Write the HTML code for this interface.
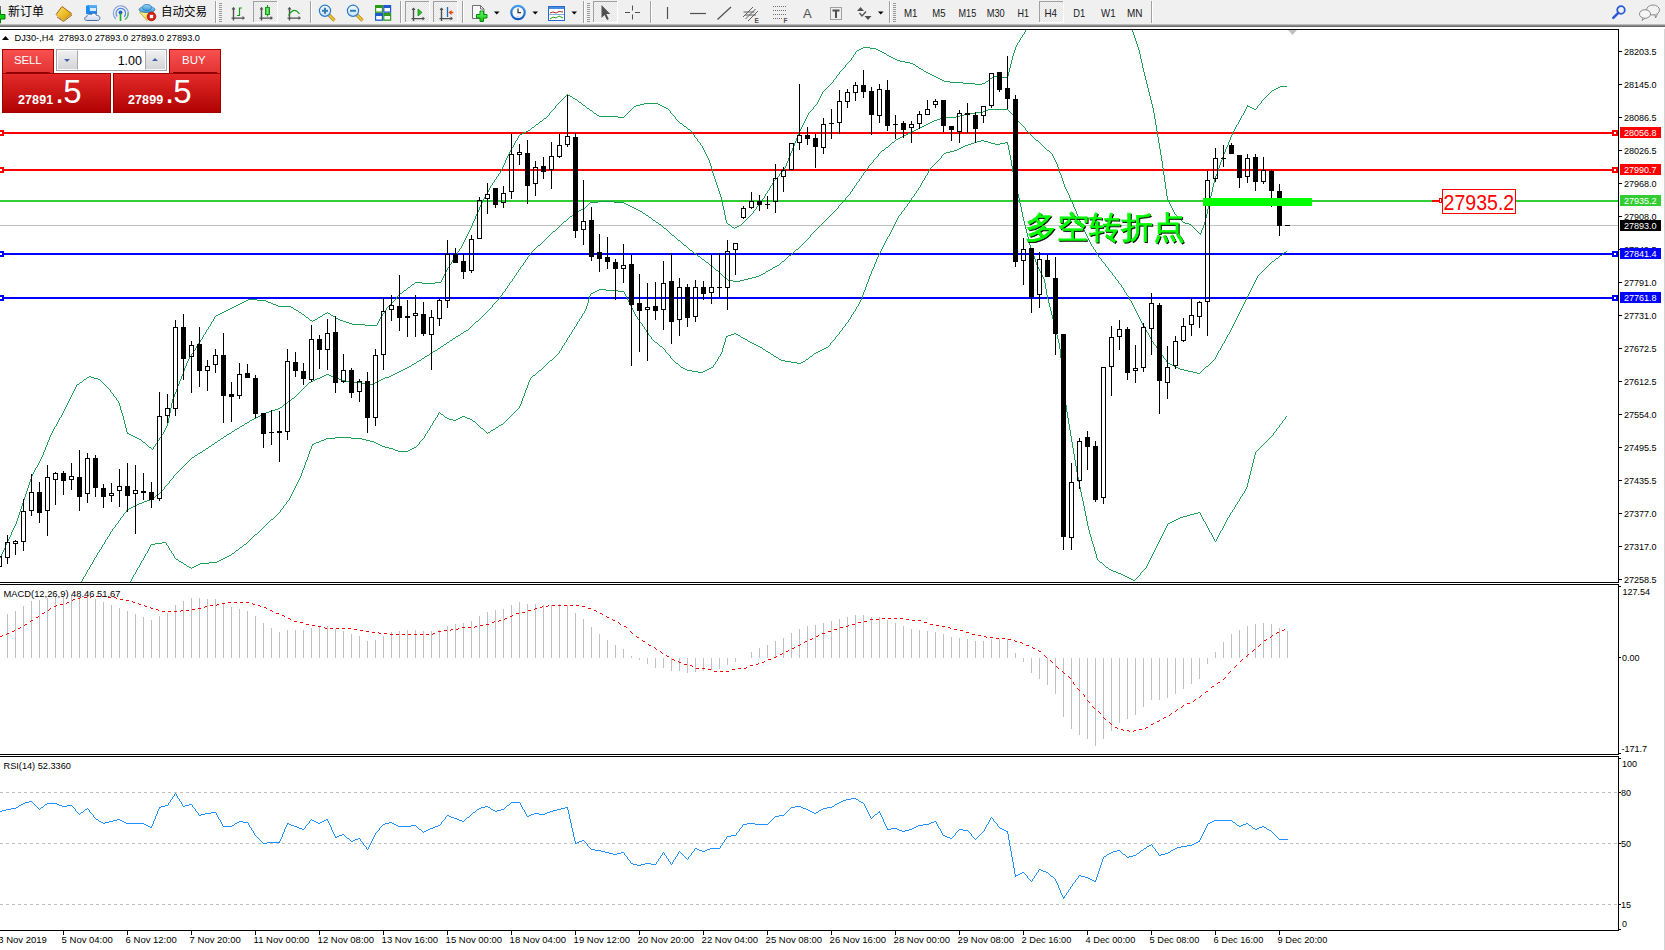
<!DOCTYPE html>
<html><head><meta charset="utf-8"><title>DJ30-,H4</title>
<style>
html,body{margin:0;padding:0;width:1665px;height:950px;overflow:hidden;background:#fff;}
body{position:relative;font-family:"Liberation Sans",Arial,sans-serif;}
#chart{position:absolute;left:0;top:0;}
#tb{position:absolute;left:0;top:0;width:1665px;height:25px;background:#f0f0f0;}
#tbl{position:absolute;left:0;top:24px;width:1665px;height:1px;background:#b4b4b4;}
#tbl2{position:absolute;left:0;top:25px;width:1665px;height:2px;background:linear-gradient(#7a7a7a,#5e5e5e);}
.t{position:absolute;top:4px;font-family:"Liberation Sans","Noto Sans CJK SC","WenQuanYi Zen Hei",sans-serif;font-size:12.5px;line-height:16px;color:#000;white-space:nowrap;}
.sep{position:absolute;top:1px;width:1px;height:23px;background:#a0a0a0;border-right:1px solid #fff;}
.grip{position:absolute;top:3px;width:3px;height:19px;background:repeating-linear-gradient(#9a9a9a 0 1px,transparent 1px 3px);}
.box{position:absolute;top:1px;height:22px;border:1px solid #a8a8a8;border-right-color:#fff;border-bottom-color:#fff;background:#f7f7f7;box-sizing:border-box;}
.ic{position:absolute;top:3px;}
.dd{position:absolute;top:11px;width:0;height:0;border-left:3.5px solid transparent;border-right:3.5px solid transparent;border-top:4px solid #000;}
.tf{position:absolute;top:6px;font-size:10px;color:#222;font-family:"Liberation Sans",Arial,sans-serif;}
#tp{position:absolute;left:0;top:0;}
.rb{position:absolute;box-sizing:border-box;border:1px solid #a00000;}
.wt{position:absolute;color:#fff;font-family:"Liberation Sans",Arial,sans-serif;white-space:nowrap;}
</style></head><body>
<svg id="chart" width="1665" height="950" viewBox="0 0 1665 950">
<defs><clipPath id="cm"><rect x="0" y="30" width="1618" height="552"/></clipPath><clipPath id="cmacd"><rect x="0" y="585" width="1618" height="169"/></clipPath><clipPath id="crsi"><rect x="0" y="757" width="1618" height="173"/></clipPath></defs>
<g clip-path="url(#cm)" shape-rendering="crispEdges">
<rect x="0" y="225" width="1618" height="1" fill="#c0c0c0"/>
<rect x="0" y="132" width="1618" height="2" fill="#ff0000"/>
<rect x="0" y="169" width="1618" height="2" fill="#ff0000"/>
<rect x="0" y="200" width="1618" height="2" fill="#32cd32"/>
<rect x="0" y="253" width="1618" height="2" fill="#0000ff"/>
<rect x="0" y="297" width="1618" height="2" fill="#0000ff"/>
<rect x="-2" y="130" width="6" height="6" fill="#ff0000"/><rect x="0" y="132" width="2" height="2" fill="#fff"/>
<rect x="1612" y="130" width="6" height="6" fill="#ff0000"/><rect x="1614" y="132" width="2" height="2" fill="#fff"/>
<rect x="-2" y="167" width="6" height="6" fill="#ff0000"/><rect x="0" y="169" width="2" height="2" fill="#fff"/>
<rect x="1612" y="167" width="6" height="6" fill="#ff0000"/><rect x="1614" y="169" width="2" height="2" fill="#fff"/>
<rect x="-2" y="251" width="6" height="6" fill="#0000ff"/><rect x="0" y="253" width="2" height="2" fill="#fff"/>
<rect x="1612" y="251" width="6" height="6" fill="#0000ff"/><rect x="1614" y="253" width="2" height="2" fill="#fff"/>
<rect x="-2" y="295" width="6" height="6" fill="#0000ff"/><rect x="0" y="297" width="2" height="2" fill="#fff"/>
<rect x="1612" y="295" width="6" height="6" fill="#0000ff"/><rect x="1614" y="297" width="2" height="2" fill="#fff"/>
</g>
<path d="M0 556h1v2h-1zM1 554h1v2h-1zM2 552h1v2h-1zM3 550h1v2h-1zM4 548h1v2h-1zM5 545h1v3h-1zM6 543h1v2h-1zM7 541h1v2h-1zM8 539h1v2h-1zM9 537h1v2h-1zM10 535h1v2h-1zM11 532h1v3h-1zM12 530h1v2h-1zM13 528h1v2h-1zM14 526h1v2h-1zM15 524h1v2h-1zM16 521h1v3h-1zM17 518h1v3h-1zM18 515h1v3h-1zM19 512h1v3h-1zM20 509h1v3h-1zM21 506h1v3h-1zM22 503h1v3h-1zM23 500h1v3h-1zM24 497h1v3h-1zM25 494h1v3h-1zM26 491h1v3h-1zM27 488h1v3h-1zM28 485h1v3h-1zM29 482h1v3h-1zM30 479h1v3h-1zM31 476h1v3h-1zM32 474h1v2h-1zM33 472h1v2h-1zM34 470h1v2h-1zM35 468h1v2h-1zM36 467h1v1h-1zM37 465h1v2h-1zM38 463h1v2h-1zM39 461h1v2h-1zM40 459h1v2h-1zM41 457h1v2h-1zM42 455h1v2h-1zM43 452h1v3h-1zM44 450h1v2h-1zM45 447h1v3h-1zM46 445h1v2h-1zM47 442h1v3h-1zM48 440h1v2h-1zM49 437h1v3h-1zM50 435h1v2h-1zM51 433h1v2h-1zM52 431h1v2h-1zM53 429h1v2h-1zM54 427h1v2h-1zM55 426h1v1h-1zM56 424h1v2h-1zM57 422h1v2h-1zM58 420h1v2h-1zM59 418h1v2h-1zM60 417h1v1h-1zM61 415h1v2h-1zM62 413h1v2h-1zM63 411h1v2h-1zM64 409h1v2h-1zM65 407h1v2h-1zM66 405h1v2h-1zM67 403h1v2h-1zM68 401h1v2h-1zM69 399h1v2h-1zM70 397h1v2h-1zM71 395h1v2h-1zM72 393h1v2h-1zM73 391h1v2h-1zM74 389h1v2h-1zM75 387h1v2h-1zM76 385h1v2h-1zM77 384h1v1h-1zM78 384h1v1h-1zM79 383h1v1h-1zM80 382h1v1h-1zM81 382h1v1h-1zM82 381h1v1h-1zM83 380h1v1h-1zM84 379h1v1h-1zM85 379h1v1h-1zM86 378h1v1h-1zM87 377h1v1h-1zM88 377h1v1h-1zM89 376h1v1h-1zM90 376h1v1h-1zM91 377h1v1h-1zM92 377h1v1h-1zM93 377h1v1h-1zM94 378h1v1h-1zM95 378h1v1h-1zM96 378h1v1h-1zM97 378h1v1h-1zM98 379h1v1h-1zM99 379h1v1h-1zM100 380h1v1h-1zM101 381h1v1h-1zM102 382h1v1h-1zM103 383h1v1h-1zM104 384h1v1h-1zM105 385h1v1h-1zM106 386h1v1h-1zM107 387h1v1h-1zM108 388h1v1h-1zM109 389h1v1h-1zM110 390h1v2h-1zM111 392h1v1h-1zM112 393h1v1h-1zM113 394h1v2h-1zM114 396h1v1h-1zM115 397h1v1h-1zM116 398h1v2h-1zM117 400h1v1h-1zM118 401h1v2h-1zM119 403h1v3h-1zM120 406h1v4h-1zM121 410h1v3h-1zM122 413h1v3h-1zM123 416h1v4h-1zM124 420h1v4h-1zM125 424h1v4h-1zM126 428h1v4h-1zM127 432h1v2h-1zM128 433h1v1h-1zM129 434h1v1h-1zM130 434h1v1h-1zM131 435h1v1h-1zM132 435h1v1h-1zM133 436h1v1h-1zM134 436h1v1h-1zM135 437h1v1h-1zM136 437h1v1h-1zM137 438h1v1h-1zM138 438h1v1h-1zM139 439h1v1h-1zM140 439h1v1h-1zM141 440h1v1h-1zM142 441h1v1h-1zM143 442h1v1h-1zM144 442h1v1h-1zM145 443h1v1h-1zM146 444h1v1h-1zM147 445h1v1h-1zM148 446h1v1h-1zM149 447h1v1h-1zM150 447h1v1h-1zM151 448h1v1h-1zM152 449h1v1h-1zM153 447h1v2h-1zM154 446h1v1h-1zM155 444h1v2h-1zM156 443h1v1h-1zM157 441h1v2h-1zM158 440h1v1h-1zM159 438h1v2h-1zM160 437h1v1h-1zM161 435h1v2h-1zM162 434h1v1h-1zM163 432h1v2h-1zM164 430h1v2h-1zM165 428h1v2h-1zM166 426h1v2h-1zM167 423h1v3h-1zM168 418h1v5h-1zM169 413h1v5h-1zM170 408h1v5h-1zM171 403h1v5h-1zM172 399h1v4h-1zM173 397h1v2h-1zM174 394h1v3h-1zM175 392h1v2h-1zM176 389h1v3h-1zM177 386h1v3h-1zM178 384h1v2h-1zM179 381h1v3h-1zM180 379h1v2h-1zM181 376h1v3h-1zM182 374h1v2h-1zM183 371h1v3h-1zM184 368h1v3h-1zM185 366h1v2h-1zM186 363h1v3h-1zM187 361h1v2h-1zM188 359h1v2h-1zM189 357h1v2h-1zM190 356h1v1h-1zM191 354h1v2h-1zM192 353h1v1h-1zM193 351h1v2h-1zM194 350h1v1h-1zM195 348h1v2h-1zM196 346h1v2h-1zM197 345h1v1h-1zM198 343h1v2h-1zM199 342h1v1h-1zM200 340h1v2h-1zM201 339h1v1h-1zM202 337h1v2h-1zM203 335h1v2h-1zM204 334h1v1h-1zM205 332h1v2h-1zM206 330h1v2h-1zM207 329h1v1h-1zM208 327h1v2h-1zM209 326h1v1h-1zM210 324h1v2h-1zM211 322h1v2h-1zM212 321h1v1h-1zM213 319h1v2h-1zM214 317h1v2h-1zM215 316h1v1h-1zM216 315h1v1h-1zM217 315h1v1h-1zM218 314h1v1h-1zM219 314h1v1h-1zM220 313h1v1h-1zM221 313h1v1h-1zM222 312h1v1h-1zM223 312h1v1h-1zM224 311h1v1h-1zM225 311h1v1h-1zM226 310h1v1h-1zM227 310h1v1h-1zM228 309h1v1h-1zM229 309h1v1h-1zM230 308h1v1h-1zM231 308h1v1h-1zM232 307h1v1h-1zM233 307h1v1h-1zM234 306h1v1h-1zM235 306h1v1h-1zM236 305h1v1h-1zM237 305h1v1h-1zM238 304h1v1h-1zM239 304h1v1h-1zM240 303h1v1h-1zM241 303h1v1h-1zM242 302h1v1h-1zM243 302h1v1h-1zM244 301h1v1h-1zM245 301h1v1h-1zM246 300h1v1h-1zM247 300h1v1h-1zM248 299h1v1h-1zM249 299h1v1h-1zM250 299h1v1h-1zM251 299h1v1h-1zM252 299h1v1h-1zM253 299h1v1h-1zM254 299h1v1h-1zM255 299h1v1h-1zM256 299h1v1h-1zM257 300h1v1h-1zM258 300h1v1h-1zM259 300h1v1h-1zM260 300h1v1h-1zM261 300h1v1h-1zM262 300h1v1h-1zM263 300h1v1h-1zM264 300h1v1h-1zM265 300h1v1h-1zM266 301h1v1h-1zM267 301h1v1h-1zM268 302h1v1h-1zM269 302h1v1h-1zM270 302h1v1h-1zM271 303h1v1h-1zM272 303h1v1h-1zM273 304h1v1h-1zM274 304h1v1h-1zM275 304h1v1h-1zM276 305h1v1h-1zM277 305h1v1h-1zM278 306h1v1h-1zM279 306h1v1h-1zM280 306h1v1h-1zM281 306h1v1h-1zM282 306h1v1h-1zM283 306h1v1h-1zM284 306h1v1h-1zM285 306h1v1h-1zM286 306h1v1h-1zM287 306h1v1h-1zM288 306h1v1h-1zM289 306h1v1h-1zM290 306h1v1h-1zM291 307h1v1h-1zM292 307h1v1h-1zM293 308h1v1h-1zM294 309h1v1h-1zM295 309h1v1h-1zM296 310h1v1h-1zM297 310h1v1h-1zM298 311h1v1h-1zM299 312h1v1h-1zM300 312h1v1h-1zM301 313h1v1h-1zM302 314h1v1h-1zM303 314h1v1h-1zM304 315h1v1h-1zM305 316h1v1h-1zM306 317h1v1h-1zM307 317h1v1h-1zM308 318h1v1h-1zM309 319h1v1h-1zM310 320h1v1h-1zM311 320h1v1h-1zM312 321h1v1h-1zM313 320h1v1h-1zM314 320h1v1h-1zM315 319h1v1h-1zM316 319h1v1h-1zM317 318h1v1h-1zM318 317h1v1h-1zM319 317h1v1h-1zM320 316h1v1h-1zM321 316h1v1h-1zM322 315h1v1h-1zM323 314h1v1h-1zM324 314h1v1h-1zM325 313h1v1h-1zM326 313h1v1h-1zM327 312h1v1h-1zM328 313h1v1h-1zM329 313h1v1h-1zM330 314h1v1h-1zM331 315h1v1h-1zM332 315h1v1h-1zM333 316h1v1h-1zM334 316h1v1h-1zM335 317h1v1h-1zM336 318h1v1h-1zM337 318h1v1h-1zM338 319h1v1h-1zM339 319h1v1h-1zM340 320h1v1h-1zM341 320h1v1h-1zM342 320h1v1h-1zM343 321h1v1h-1zM344 321h1v1h-1zM345 321h1v1h-1zM346 322h1v1h-1zM347 322h1v1h-1zM348 322h1v1h-1zM349 323h1v1h-1zM350 323h1v1h-1zM351 323h1v1h-1zM352 324h1v1h-1zM353 324h1v1h-1zM354 324h1v1h-1zM355 324h1v1h-1zM356 324h1v1h-1zM357 324h1v1h-1zM358 324h1v1h-1zM359 324h1v1h-1zM360 324h1v1h-1zM361 324h1v1h-1zM362 324h1v1h-1zM363 324h1v1h-1zM364 324h1v1h-1zM365 325h1v1h-1zM366 325h1v1h-1zM367 325h1v1h-1zM368 325h1v1h-1zM369 325h1v1h-1zM370 325h1v1h-1zM371 325h1v1h-1zM372 325h1v1h-1zM373 325h1v1h-1zM374 325h1v1h-1zM375 325h1v1h-1zM376 325h1v1h-1zM377 323h1v2h-1zM378 321h1v2h-1zM379 319h1v2h-1zM380 317h1v2h-1zM381 316h1v1h-1zM382 314h1v2h-1zM383 313h1v1h-1zM384 311h1v2h-1zM385 310h1v1h-1zM386 308h1v2h-1zM387 307h1v1h-1zM388 306h1v1h-1zM389 305h1v1h-1zM390 304h1v1h-1zM391 303h1v1h-1zM392 302h1v1h-1zM393 301h1v1h-1zM394 300h1v1h-1zM395 299h1v1h-1zM396 297h1v2h-1zM397 296h1v1h-1zM398 295h1v1h-1zM399 294h1v1h-1zM400 293h1v1h-1zM401 293h1v1h-1zM402 292h1v1h-1zM403 291h1v1h-1zM404 290h1v1h-1zM405 290h1v1h-1zM406 289h1v1h-1zM407 288h1v1h-1zM408 287h1v1h-1zM409 287h1v1h-1zM410 286h1v1h-1zM411 285h1v1h-1zM412 284h1v1h-1zM413 284h1v1h-1zM414 283h1v1h-1zM415 282h1v1h-1zM416 282h1v1h-1zM417 282h1v1h-1zM418 282h1v1h-1zM419 282h1v1h-1zM420 282h1v1h-1zM421 282h1v1h-1zM422 283h1v1h-1zM423 283h1v1h-1zM424 283h1v1h-1zM425 283h1v1h-1zM426 283h1v1h-1zM427 283h1v1h-1zM428 283h1v1h-1zM429 283h1v1h-1zM430 283h1v1h-1zM431 283h1v1h-1zM432 283h1v1h-1zM433 283h1v1h-1zM434 283h1v1h-1zM435 282h1v1h-1zM436 282h1v1h-1zM437 282h1v1h-1zM438 282h1v1h-1zM439 282h1v1h-1zM440 282h1v1h-1zM441 280h1v2h-1zM442 278h1v2h-1zM443 276h1v2h-1zM444 274h1v2h-1zM445 272h1v2h-1zM446 270h1v2h-1zM447 268h1v2h-1zM448 267h1v1h-1zM449 265h1v2h-1zM450 264h1v1h-1zM451 262h1v2h-1zM452 260h1v2h-1zM453 259h1v1h-1zM454 257h1v2h-1zM455 256h1v1h-1zM456 254h1v2h-1zM457 252h1v2h-1zM458 251h1v1h-1zM459 249h1v2h-1zM460 248h1v1h-1zM461 246h1v2h-1zM462 244h1v2h-1zM463 242h1v2h-1zM464 240h1v2h-1zM465 238h1v2h-1zM466 236h1v2h-1zM467 234h1v2h-1zM468 232h1v2h-1zM469 230h1v2h-1zM470 228h1v2h-1zM471 226h1v2h-1zM472 223h1v3h-1zM473 221h1v2h-1zM474 219h1v2h-1zM475 216h1v3h-1zM476 214h1v2h-1zM477 212h1v2h-1zM478 210h1v2h-1zM479 207h1v3h-1zM480 205h1v2h-1zM481 203h1v2h-1zM482 201h1v2h-1zM483 199h1v2h-1zM484 197h1v2h-1zM485 195h1v2h-1zM486 194h1v1h-1zM487 192h1v2h-1zM488 190h1v2h-1zM489 188h1v2h-1zM490 186h1v2h-1zM491 185h1v1h-1zM492 183h1v2h-1zM493 182h1v1h-1zM494 180h1v2h-1zM495 179h1v1h-1zM496 177h1v2h-1zM497 176h1v1h-1zM498 174h1v2h-1zM499 173h1v1h-1zM500 171h1v2h-1zM501 169h1v2h-1zM502 167h1v2h-1zM503 165h1v2h-1zM504 163h1v2h-1zM505 160h1v3h-1zM506 158h1v2h-1zM507 156h1v2h-1zM508 154h1v2h-1zM509 152h1v2h-1zM510 150h1v2h-1zM511 148h1v2h-1zM512 147h1v1h-1zM513 145h1v2h-1zM514 143h1v2h-1zM515 141h1v2h-1zM516 140h1v1h-1zM517 138h1v2h-1zM518 136h1v2h-1zM519 135h1v1h-1zM520 134h1v1h-1zM521 134h1v1h-1zM522 133h1v1h-1zM523 133h1v1h-1zM524 132h1v1h-1zM525 132h1v1h-1zM526 131h1v1h-1zM527 131h1v1h-1zM528 130h1v1h-1zM529 130h1v1h-1zM530 129h1v1h-1zM531 128h1v1h-1zM532 127h1v1h-1zM533 127h1v1h-1zM534 126h1v1h-1zM535 125h1v1h-1zM536 124h1v1h-1zM537 124h1v1h-1zM538 123h1v1h-1zM539 122h1v1h-1zM540 121h1v1h-1zM541 121h1v1h-1zM542 120h1v1h-1zM543 119h1v1h-1zM544 118h1v1h-1zM545 118h1v1h-1zM546 117h1v1h-1zM547 116h1v1h-1zM548 115h1v1h-1zM549 113h1v2h-1zM550 112h1v1h-1zM551 111h1v1h-1zM552 110h1v1h-1zM553 109h1v1h-1zM554 108h1v1h-1zM555 106h1v2h-1zM556 105h1v1h-1zM557 104h1v1h-1zM558 103h1v1h-1zM559 102h1v1h-1zM560 101h1v1h-1zM561 100h1v1h-1zM562 99h1v1h-1zM563 98h1v1h-1zM564 97h1v1h-1zM565 96h1v1h-1zM566 95h1v1h-1zM567 94h1v1h-1zM568 95h1v1h-1zM569 95h1v1h-1zM570 96h1v1h-1zM571 96h1v1h-1zM572 97h1v1h-1zM573 98h1v1h-1zM574 98h1v1h-1zM575 99h1v1h-1zM576 99h1v1h-1zM577 100h1v1h-1zM578 101h1v1h-1zM579 102h1v1h-1zM580 102h1v1h-1zM581 103h1v1h-1zM582 104h1v1h-1zM583 105h1v1h-1zM584 105h1v1h-1zM585 106h1v1h-1zM586 107h1v1h-1zM587 108h1v1h-1zM588 108h1v1h-1zM589 109h1v1h-1zM590 110h1v1h-1zM591 110h1v1h-1zM592 111h1v1h-1zM593 112h1v1h-1zM594 113h1v1h-1zM595 113h1v1h-1zM596 114h1v1h-1zM597 115h1v1h-1zM598 115h1v1h-1zM599 116h1v1h-1zM600 116h1v1h-1zM601 116h1v1h-1zM602 116h1v1h-1zM603 116h1v1h-1zM604 116h1v1h-1zM605 116h1v1h-1zM606 116h1v1h-1zM607 116h1v1h-1zM608 116h1v1h-1zM609 116h1v1h-1zM610 116h1v1h-1zM611 116h1v1h-1zM612 116h1v1h-1zM613 116h1v1h-1zM614 116h1v1h-1zM615 116h1v1h-1zM616 116h1v1h-1zM617 116h1v1h-1zM618 117h1v1h-1zM619 117h1v1h-1zM620 117h1v1h-1zM621 117h1v1h-1zM622 117h1v1h-1zM623 117h1v1h-1zM624 116h1v1h-1zM625 115h1v1h-1zM626 114h1v1h-1zM627 113h1v1h-1zM628 112h1v1h-1zM629 111h1v1h-1zM630 110h1v1h-1zM631 109h1v1h-1zM632 108h1v1h-1zM633 107h1v1h-1zM634 106h1v1h-1zM635 106h1v1h-1zM636 105h1v1h-1zM637 105h1v1h-1zM638 105h1v1h-1zM639 105h1v1h-1zM640 104h1v1h-1zM641 104h1v1h-1zM642 104h1v1h-1zM643 104h1v1h-1zM644 103h1v1h-1zM645 103h1v1h-1zM646 103h1v1h-1zM647 103h1v1h-1zM648 103h1v1h-1zM649 103h1v1h-1zM650 103h1v1h-1zM651 103h1v1h-1zM652 103h1v1h-1zM653 103h1v1h-1zM654 103h1v1h-1zM655 103h1v1h-1zM656 103h1v1h-1zM657 103h1v1h-1zM658 104h1v1h-1zM659 104h1v1h-1zM660 105h1v1h-1zM661 105h1v1h-1zM662 106h1v1h-1zM663 106h1v1h-1zM664 107h1v1h-1zM665 107h1v1h-1zM666 108h1v1h-1zM667 108h1v1h-1zM668 109h1v1h-1zM669 110h1v1h-1zM670 111h1v2h-1zM671 113h1v1h-1zM672 114h1v1h-1zM673 115h1v1h-1zM674 116h1v1h-1zM675 117h1v2h-1zM676 119h1v1h-1zM677 120h1v1h-1zM678 121h1v1h-1zM679 122h1v1h-1zM680 123h1v1h-1zM681 123h1v1h-1zM682 124h1v1h-1zM683 125h1v1h-1zM684 126h1v1h-1zM685 126h1v1h-1zM686 127h1v1h-1zM687 128h1v1h-1zM688 129h1v1h-1zM689 129h1v1h-1zM690 130h1v1h-1zM691 131h1v2h-1zM692 133h1v1h-1zM693 134h1v1h-1zM694 135h1v2h-1zM695 137h1v1h-1zM696 138h1v1h-1zM697 139h1v2h-1zM698 141h1v1h-1zM699 142h1v1h-1zM700 143h1v2h-1zM701 145h1v1h-1zM702 146h1v2h-1zM703 148h1v2h-1zM704 150h1v2h-1zM705 152h1v2h-1zM706 154h1v2h-1zM707 156h1v2h-1zM708 158h1v2h-1zM709 160h1v3h-1zM710 163h1v3h-1zM711 166h1v3h-1zM712 169h1v4h-1zM713 173h1v3h-1zM714 176h1v3h-1zM715 179h1v3h-1zM716 182h1v3h-1zM717 185h1v3h-1zM718 188h1v3h-1zM719 191h1v3h-1zM720 194h1v3h-1zM721 197h1v4h-1zM722 201h1v5h-1zM723 206h1v4h-1zM724 210h1v5h-1zM725 215h1v5h-1zM726 220h1v3h-1zM727 223h1v1h-1zM728 224h1v1h-1zM729 224h1v1h-1zM730 225h1v1h-1zM731 226h1v1h-1zM732 227h1v1h-1zM733 227h1v1h-1zM734 228h1v1h-1zM735 227h1v1h-1zM736 227h1v1h-1zM737 226h1v1h-1zM738 226h1v1h-1zM739 225h1v1h-1zM740 225h1v1h-1zM741 224h1v1h-1zM742 223h1v1h-1zM743 222h1v1h-1zM744 221h1v1h-1zM745 220h1v1h-1zM746 219h1v1h-1zM747 218h1v1h-1zM748 217h1v1h-1zM749 216h1v1h-1zM750 215h1v1h-1zM751 214h1v1h-1zM752 213h1v1h-1zM753 211h1v2h-1zM754 210h1v1h-1zM755 209h1v1h-1zM756 207h1v2h-1zM757 206h1v1h-1zM758 205h1v1h-1zM759 203h1v2h-1zM760 202h1v1h-1zM761 201h1v1h-1zM762 199h1v2h-1zM763 198h1v1h-1zM764 196h1v2h-1zM765 194h1v2h-1zM766 193h1v1h-1zM767 191h1v2h-1zM768 190h1v1h-1zM769 188h1v2h-1zM770 186h1v2h-1zM771 185h1v1h-1zM772 183h1v2h-1zM773 181h1v2h-1zM774 180h1v1h-1zM775 179h1v1h-1zM776 178h1v1h-1zM777 177h1v1h-1zM778 176h1v1h-1zM779 174h1v2h-1zM780 173h1v1h-1zM781 172h1v1h-1zM782 171h1v1h-1zM783 170h1v1h-1zM784 168h1v2h-1zM785 166h1v2h-1zM786 163h1v3h-1zM787 161h1v2h-1zM788 158h1v3h-1zM789 156h1v2h-1zM790 153h1v3h-1zM791 151h1v2h-1zM792 148h1v3h-1zM793 146h1v2h-1zM794 143h1v3h-1zM795 141h1v2h-1zM796 138h1v3h-1zM797 136h1v2h-1zM798 133h1v3h-1zM799 131h1v2h-1zM800 129h1v2h-1zM801 127h1v2h-1zM802 125h1v2h-1zM803 123h1v2h-1zM804 121h1v2h-1zM805 119h1v2h-1zM806 117h1v2h-1zM807 115h1v2h-1zM808 113h1v2h-1zM809 112h1v1h-1zM810 111h1v1h-1zM811 110h1v1h-1zM812 109h1v1h-1zM813 107h1v2h-1zM814 106h1v1h-1zM815 105h1v1h-1zM816 104h1v1h-1zM817 102h1v2h-1zM818 100h1v2h-1zM819 98h1v2h-1zM820 96h1v2h-1zM821 94h1v2h-1zM822 92h1v2h-1zM823 91h1v1h-1zM824 90h1v1h-1zM825 89h1v1h-1zM826 88h1v1h-1zM827 87h1v1h-1zM828 86h1v1h-1zM829 85h1v1h-1zM830 84h1v1h-1zM831 83h1v1h-1zM832 82h1v1h-1zM833 80h1v2h-1zM834 79h1v1h-1zM835 78h1v1h-1zM836 76h1v2h-1zM837 75h1v1h-1zM838 74h1v1h-1zM839 72h1v2h-1zM840 71h1v1h-1zM841 70h1v1h-1zM842 69h1v1h-1zM843 68h1v1h-1zM844 67h1v1h-1zM845 65h1v2h-1zM846 64h1v1h-1zM847 63h1v1h-1zM848 62h1v1h-1zM849 61h1v1h-1zM850 60h1v1h-1zM851 58h1v2h-1zM852 57h1v1h-1zM853 55h1v2h-1zM854 54h1v1h-1zM855 52h1v2h-1zM856 51h1v1h-1zM857 50h1v1h-1zM858 50h1v1h-1zM859 49h1v1h-1zM860 49h1v1h-1zM861 48h1v1h-1zM862 48h1v1h-1zM863 47h1v1h-1zM864 47h1v1h-1zM865 47h1v1h-1zM866 47h1v1h-1zM867 47h1v1h-1zM868 47h1v1h-1zM869 47h1v1h-1zM870 48h1v1h-1zM871 48h1v1h-1zM872 48h1v1h-1zM873 48h1v1h-1zM874 48h1v1h-1zM875 48h1v1h-1zM876 49h1v1h-1zM877 49h1v1h-1zM878 50h1v1h-1zM879 50h1v1h-1zM880 51h1v1h-1zM881 51h1v1h-1zM882 52h1v1h-1zM883 52h1v1h-1zM884 53h1v1h-1zM885 53h1v1h-1zM886 54h1v1h-1zM887 55h1v1h-1zM888 55h1v1h-1zM889 56h1v1h-1zM890 56h1v1h-1zM891 57h1v1h-1zM892 57h1v1h-1zM893 58h1v1h-1zM894 58h1v1h-1zM895 59h1v1h-1zM896 59h1v1h-1zM897 60h1v1h-1zM898 60h1v1h-1zM899 60h1v1h-1zM900 61h1v1h-1zM901 61h1v1h-1zM902 61h1v1h-1zM903 61h1v1h-1zM904 61h1v1h-1zM905 62h1v1h-1zM906 62h1v1h-1zM907 62h1v1h-1zM908 62h1v1h-1zM909 62h1v1h-1zM910 63h1v1h-1zM911 63h1v1h-1zM912 63h1v1h-1zM913 64h1v1h-1zM914 64h1v1h-1zM915 65h1v1h-1zM916 66h1v1h-1zM917 66h1v1h-1zM918 67h1v1h-1zM919 68h1v1h-1zM920 68h1v1h-1zM921 69h1v1h-1zM922 69h1v1h-1zM923 70h1v1h-1zM924 71h1v1h-1zM925 71h1v1h-1zM926 72h1v1h-1zM927 72h1v1h-1zM928 73h1v1h-1zM929 73h1v1h-1zM930 74h1v1h-1zM931 74h1v1h-1zM932 75h1v1h-1zM933 75h1v1h-1zM934 76h1v1h-1zM935 76h1v1h-1zM936 77h1v1h-1zM937 77h1v1h-1zM938 78h1v1h-1zM939 78h1v1h-1zM940 79h1v1h-1zM941 79h1v1h-1zM942 80h1v1h-1zM943 80h1v1h-1zM944 81h1v1h-1zM945 81h1v1h-1zM946 81h1v1h-1zM947 81h1v1h-1zM948 81h1v1h-1zM949 81h1v1h-1zM950 82h1v1h-1zM951 82h1v1h-1zM952 82h1v1h-1zM953 82h1v1h-1zM954 82h1v1h-1zM955 82h1v1h-1zM956 82h1v1h-1zM957 82h1v1h-1zM958 82h1v1h-1zM959 82h1v1h-1zM960 82h1v1h-1zM961 82h1v1h-1zM962 82h1v1h-1zM963 83h1v1h-1zM964 83h1v1h-1zM965 83h1v1h-1zM966 83h1v1h-1zM967 83h1v1h-1zM968 83h1v1h-1zM969 83h1v1h-1zM970 83h1v1h-1zM971 83h1v1h-1zM972 83h1v1h-1zM973 83h1v1h-1zM974 83h1v1h-1zM975 84h1v1h-1zM976 84h1v1h-1zM977 84h1v1h-1zM978 84h1v1h-1zM979 84h1v1h-1zM980 84h1v1h-1zM981 84h1v1h-1zM982 83h1v1h-1zM983 83h1v1h-1zM984 83h1v1h-1zM985 82h1v1h-1zM986 81h1v1h-1zM987 81h1v1h-1zM988 80h1v1h-1zM989 79h1v1h-1zM990 78h1v1h-1zM991 78h1v1h-1zM992 77h1v1h-1zM993 76h1v1h-1zM994 76h1v1h-1zM995 76h1v1h-1zM996 76h1v1h-1zM997 76h1v1h-1zM998 76h1v1h-1zM999 76h1v1h-1zM1000 77h1v1h-1zM1001 77h1v1h-1zM1002 77h1v1h-1zM1003 77h1v1h-1zM1004 77h1v1h-1zM1005 77h1v1h-1zM1006 77h1v1h-1zM1007 76h1v2h-1zM1008 72h1v4h-1zM1009 68h1v4h-1zM1010 64h1v4h-1zM1011 60h1v4h-1zM1012 56h1v4h-1zM1013 53h1v3h-1zM1014 50h1v3h-1zM1015 47h1v3h-1zM1016 45h1v2h-1zM1017 43h1v2h-1zM1018 42h1v1h-1zM1019 40h1v2h-1zM1020 38h1v2h-1zM1021 37h1v1h-1zM1022 35h1v2h-1zM1023 34h1v1h-1zM1024 32h1v2h-1zM1025 30h1v2h-1zM1132 30h1v2h-1zM1133 32h1v3h-1zM1134 35h1v3h-1zM1135 38h1v3h-1zM1136 41h1v3h-1zM1137 44h1v3h-1zM1138 47h1v3h-1zM1139 50h1v4h-1zM1140 54h1v5h-1zM1141 59h1v4h-1zM1142 63h1v5h-1zM1143 68h1v4h-1zM1144 72h1v4h-1zM1145 76h1v4h-1zM1146 80h1v4h-1zM1147 84h1v4h-1zM1148 88h1v4h-1zM1149 92h1v4h-1zM1150 96h1v4h-1zM1151 100h1v4h-1zM1152 104h1v4h-1zM1153 108h1v5h-1zM1154 113h1v6h-1zM1155 119h1v6h-1zM1156 125h1v6h-1zM1157 131h1v6h-1zM1158 137h1v6h-1zM1159 143h1v6h-1zM1160 149h1v6h-1zM1161 155h1v6h-1zM1162 161h1v7h-1zM1163 168h1v7h-1zM1164 175h1v7h-1zM1165 182h1v7h-1zM1166 189h1v7h-1zM1167 196h1v4h-1zM1168 200h1v2h-1zM1169 202h1v2h-1zM1170 204h1v2h-1zM1171 206h1v2h-1zM1172 208h1v2h-1zM1173 210h1v2h-1zM1174 212h1v2h-1zM1175 214h1v1h-1zM1176 215h1v1h-1zM1177 216h1v1h-1zM1178 217h1v1h-1zM1179 218h1v1h-1zM1180 219h1v1h-1zM1181 220h1v1h-1zM1182 221h1v1h-1zM1183 222h1v1h-1zM1184 222h1v1h-1zM1185 223h1v1h-1zM1186 223h1v1h-1zM1187 223h1v1h-1zM1188 223h1v1h-1zM1189 224h1v1h-1zM1190 224h1v1h-1zM1191 225h1v1h-1zM1192 226h1v1h-1zM1193 227h1v1h-1zM1194 228h1v1h-1zM1195 229h1v1h-1zM1196 230h1v1h-1zM1197 231h1v1h-1zM1198 232h1v1h-1zM1199 233h1v1h-1zM1200 233h1v2h-1zM1201 230h1v3h-1zM1202 228h1v2h-1zM1203 225h1v3h-1zM1204 222h1v3h-1zM1205 218h1v4h-1zM1206 214h1v4h-1zM1207 209h1v5h-1zM1208 205h1v4h-1zM1209 201h1v4h-1zM1210 196h1v5h-1zM1211 192h1v4h-1zM1212 187h1v5h-1zM1213 183h1v4h-1zM1214 179h1v4h-1zM1215 176h1v3h-1zM1216 174h1v2h-1zM1217 171h1v3h-1zM1218 168h1v3h-1zM1219 165h1v3h-1zM1220 162h1v3h-1zM1221 160h1v2h-1zM1222 157h1v3h-1zM1223 154h1v3h-1zM1224 152h1v2h-1zM1225 149h1v3h-1zM1226 147h1v2h-1zM1227 145h1v2h-1zM1228 142h1v3h-1zM1229 140h1v2h-1zM1230 137h1v3h-1zM1231 135h1v2h-1zM1232 133h1v2h-1zM1233 131h1v2h-1zM1234 129h1v2h-1zM1235 127h1v2h-1zM1236 125h1v2h-1zM1237 124h1v1h-1zM1238 122h1v2h-1zM1239 120h1v2h-1zM1240 118h1v2h-1zM1241 116h1v2h-1zM1242 115h1v1h-1zM1243 113h1v2h-1zM1244 111h1v2h-1zM1245 109h1v2h-1zM1246 107h1v2h-1zM1247 105h1v2h-1zM1248 106h1v1h-1zM1249 106h1v1h-1zM1250 107h1v1h-1zM1251 107h1v1h-1zM1252 108h1v1h-1zM1253 108h1v1h-1zM1254 109h1v1h-1zM1255 109h1v1h-1zM1256 108h1v1h-1zM1257 106h1v2h-1zM1258 105h1v1h-1zM1259 104h1v1h-1zM1260 103h1v1h-1zM1261 101h1v2h-1zM1262 100h1v1h-1zM1263 99h1v1h-1zM1264 98h1v1h-1zM1265 97h1v1h-1zM1266 96h1v1h-1zM1267 95h1v1h-1zM1268 94h1v1h-1zM1269 93h1v1h-1zM1270 92h1v1h-1zM1271 91h1v1h-1zM1272 90h1v1h-1zM1273 90h1v1h-1zM1274 89h1v1h-1zM1275 89h1v1h-1zM1276 88h1v1h-1zM1277 88h1v1h-1zM1278 87h1v1h-1zM1279 87h1v1h-1zM1280 86h1v1h-1zM1281 86h1v1h-1zM1282 86h1v1h-1zM1283 86h1v1h-1zM1284 86h1v1h-1zM1285 86h1v1h-1zM1286 86h1v1h-1zM81 581h1v1h-1zM82 579h1v1h-1zM82 580h1v1h-1zM83 577h1v1h-1zM83 578h1v1h-1zM84 576h1v1h-1zM85 574h1v1h-1zM85 575h1v1h-1zM86 572h1v1h-1zM86 573h1v1h-1zM87 570h1v1h-1zM87 571h1v1h-1zM88 569h1v1h-1zM89 567h1v1h-1zM89 568h1v1h-1zM90 565h1v1h-1zM90 566h1v1h-1zM91 564h1v1h-1zM92 562h1v1h-1zM92 563h1v1h-1zM93 560h1v1h-1zM93 561h1v1h-1zM94 558h1v1h-1zM94 559h1v1h-1zM95 557h1v1h-1zM96 555h1v1h-1zM96 556h1v1h-1zM97 553h1v1h-1zM97 554h1v1h-1zM98 552h1v1h-1zM99 550h1v1h-1zM99 551h1v1h-1zM100 549h1v1h-1zM101 547h1v1h-1zM101 548h1v1h-1zM102 545h1v1h-1zM102 546h1v1h-1zM103 544h1v1h-1zM104 542h1v1h-1zM104 543h1v1h-1zM105 540h1v1h-1zM105 541h1v1h-1zM106 539h1v1h-1zM107 537h1v1h-1zM107 538h1v1h-1zM108 536h1v1h-1zM109 534h1v1h-1zM109 535h1v1h-1zM110 532h1v1h-1zM110 533h1v1h-1zM111 531h1v1h-1zM112 529h1v1h-1zM112 530h1v1h-1zM113 528h1v1h-1zM114 527h1v1h-1zM115 525h1v1h-1zM115 526h1v1h-1zM116 524h1v1h-1zM117 523h1v1h-1zM118 521h1v1h-1zM118 522h1v1h-1zM119 520h1v1h-1zM120 518h1v1h-1zM120 519h1v1h-1zM121 517h1v1h-1zM122 516h1v1h-1zM123 514h1v1h-1zM123 515h1v1h-1zM124 513h1v1h-1zM125 512h1v1h-1zM126 510h1v1h-1zM126 511h1v1h-1zM127 509h2v1h-2zM129 508h2v1h-2zM131 507h2v1h-2zM133 506h2v1h-2zM135 505h2v1h-2zM137 504h2v1h-2zM139 503h3v1h-3zM142 502h2v1h-2zM144 501h3v1h-3zM147 500h3v1h-3zM150 499h2v1h-2zM152 498h2v1h-2zM154 497h1v1h-1zM155 496h1v1h-1zM156 495h1v1h-1zM157 494h2v1h-2zM159 493h1v1h-1zM160 492h1v1h-1zM161 491h1v1h-1zM162 490h1v1h-1zM163 489h1v1h-1zM164 487h1v1h-1zM164 488h1v1h-1zM165 486h1v1h-1zM166 485h1v1h-1zM167 484h1v1h-1zM168 483h1v1h-1zM169 481h1v1h-1zM169 482h1v1h-1zM170 480h1v1h-1zM171 479h1v1h-1zM172 478h1v1h-1zM173 476h1v1h-1zM173 477h1v1h-1zM174 475h1v1h-1zM175 474h1v1h-1zM176 473h1v1h-1zM177 472h1v1h-1zM178 471h1v1h-1zM179 470h1v1h-1zM180 469h1v1h-1zM181 468h1v1h-1zM182 467h1v1h-1zM183 466h1v1h-1zM184 465h1v1h-1zM185 464h1v1h-1zM186 463h1v1h-1zM187 462h1v1h-1zM188 461h1v1h-1zM189 460h1v1h-1zM190 459h1v1h-1zM191 458h1v1h-1zM192 457h2v1h-2zM194 456h1v1h-1zM195 455h2v1h-2zM197 454h1v1h-1zM198 453h2v1h-2zM200 452h2v1h-2zM202 451h1v1h-1zM203 450h2v1h-2zM205 449h1v1h-1zM206 448h2v1h-2zM208 447h1v1h-1zM209 446h2v1h-2zM211 445h1v1h-1zM212 444h2v1h-2zM214 443h1v1h-1zM215 442h2v1h-2zM217 441h1v1h-1zM218 440h2v1h-2zM220 439h1v1h-1zM221 438h2v1h-2zM223 437h1v1h-1zM224 436h2v1h-2zM226 435h1v1h-1zM227 434h2v1h-2zM229 433h2v1h-2zM231 432h1v1h-1zM232 431h2v1h-2zM234 430h1v1h-1zM235 429h2v1h-2zM237 428h2v1h-2zM239 427h1v1h-1zM240 426h2v1h-2zM242 425h2v1h-2zM244 424h1v1h-1zM245 423h2v1h-2zM247 422h2v1h-2zM249 421h1v1h-1zM250 420h2v1h-2zM252 419h2v1h-2zM254 418h2v1h-2zM256 417h2v1h-2zM258 416h2v1h-2zM260 415h2v1h-2zM262 414h2v1h-2zM264 413h2v1h-2zM266 412h3v1h-3zM269 411h3v1h-3zM272 410h3v1h-3zM275 409h3v1h-3zM278 408h2v1h-2zM280 407h2v1h-2zM282 406h1v1h-1zM283 405h1v1h-1zM284 404h2v1h-2zM286 403h1v1h-1zM287 402h1v1h-1zM288 401h2v1h-2zM290 400h1v1h-1zM291 399h1v1h-1zM292 398h2v1h-2zM294 397h1v1h-1zM295 396h1v1h-1zM296 395h1v1h-1zM297 394h1v1h-1zM298 393h1v1h-1zM299 392h1v1h-1zM300 391h1v1h-1zM301 390h1v1h-1zM302 389h1v1h-1zM303 388h1v1h-1zM304 387h1v1h-1zM305 386h1v1h-1zM306 385h1v1h-1zM307 384h1v1h-1zM308 383h1v1h-1zM309 382h2v1h-2zM311 381h2v1h-2zM313 380h2v1h-2zM315 379h2v1h-2zM317 378h3v1h-3zM320 377h2v1h-2zM322 376h2v1h-2zM324 375h2v1h-2zM326 374h3v1h-3zM329 375h2v1h-2zM331 376h3v1h-3zM334 377h2v1h-2zM336 378h3v1h-3zM339 379h2v1h-2zM341 380h5v1h-5zM346 381h8v1h-8zM354 382h7v1h-7zM361 383h8v1h-8zM369 384h4v1h-4zM373 383h2v1h-2zM375 382h2v1h-2zM377 381h2v1h-2zM379 380h2v1h-2zM381 379h2v1h-2zM383 378h2v1h-2zM385 377h4v1h-4zM389 376h2v1h-2zM391 375h2v1h-2zM393 374h2v1h-2zM395 373h2v1h-2zM397 372h2v1h-2zM399 371h2v1h-2zM401 370h2v1h-2zM403 369h2v1h-2zM405 368h2v1h-2zM407 367h2v1h-2zM409 366h2v1h-2zM411 365h1v1h-1zM412 364h2v1h-2zM414 363h2v1h-2zM416 362h1v1h-1zM417 361h2v1h-2zM419 360h2v1h-2zM421 359h1v1h-1zM422 358h2v1h-2zM424 357h1v1h-1zM425 356h2v1h-2zM427 355h2v1h-2zM429 354h1v1h-1zM430 353h2v1h-2zM432 352h1v1h-1zM433 351h2v1h-2zM435 350h2v1h-2zM437 349h1v1h-1zM438 348h2v1h-2zM440 347h1v1h-1zM441 346h2v1h-2zM443 345h1v1h-1zM444 344h2v1h-2zM446 343h1v1h-1zM447 342h2v1h-2zM449 341h1v1h-1zM450 340h2v1h-2zM452 339h1v1h-1zM453 338h2v1h-2zM455 337h1v1h-1zM456 336h2v1h-2zM458 335h2v1h-2zM460 334h1v1h-1zM461 333h2v1h-2zM463 332h1v1h-1zM464 331h2v1h-2zM466 330h2v1h-2zM468 329h1v1h-1zM469 328h1v1h-1zM470 327h1v1h-1zM471 326h1v1h-1zM472 325h1v1h-1zM473 324h1v1h-1zM474 323h1v1h-1zM475 322h1v1h-1zM476 321h2v1h-2zM478 320h1v1h-1zM479 319h1v1h-1zM480 318h1v1h-1zM481 317h1v1h-1zM482 316h1v1h-1zM483 315h1v1h-1zM484 314h1v1h-1zM485 313h1v1h-1zM486 312h1v1h-1zM487 311h1v1h-1zM488 310h1v1h-1zM489 309h1v1h-1zM490 308h1v1h-1zM491 307h1v1h-1zM492 305h1v1h-1zM492 306h1v1h-1zM493 304h1v1h-1zM494 303h1v1h-1zM495 302h1v1h-1zM496 301h1v1h-1zM497 300h1v1h-1zM498 299h1v1h-1zM499 298h1v1h-1zM500 296h1v1h-1zM500 297h1v1h-1zM501 295h1v1h-1zM502 293h1v1h-1zM502 294h1v1h-1zM503 292h1v1h-1zM504 291h1v1h-1zM505 289h1v1h-1zM505 290h1v1h-1zM506 288h1v1h-1zM507 286h1v1h-1zM507 287h1v1h-1zM508 285h1v1h-1zM509 283h1v1h-1zM509 284h1v1h-1zM510 282h1v1h-1zM511 281h1v1h-1zM512 279h1v1h-1zM512 280h1v1h-1zM513 278h1v1h-1zM514 276h1v1h-1zM514 277h1v1h-1zM515 275h1v1h-1zM516 273h1v1h-1zM516 274h1v1h-1zM517 272h1v1h-1zM518 270h1v1h-1zM518 271h1v1h-1zM519 269h1v1h-1zM520 267h1v1h-1zM520 268h1v1h-1zM521 266h1v1h-1zM522 265h1v1h-1zM523 263h1v1h-1zM523 264h1v1h-1zM524 262h1v1h-1zM525 260h1v1h-1zM525 261h1v1h-1zM526 259h1v1h-1zM527 257h1v1h-1zM527 258h1v1h-1zM528 256h1v1h-1zM529 254h1v1h-1zM529 255h1v1h-1zM530 253h1v1h-1zM531 252h1v1h-1zM532 251h1v1h-1zM533 250h1v1h-1zM534 249h1v1h-1zM535 248h1v1h-1zM536 247h1v1h-1zM537 246h1v1h-1zM538 245h2v1h-2zM540 244h1v1h-1zM541 243h1v1h-1zM542 242h1v1h-1zM543 241h1v1h-1zM544 240h1v1h-1zM545 239h1v1h-1zM546 238h1v1h-1zM547 237h1v1h-1zM548 236h1v1h-1zM549 235h1v1h-1zM550 234h1v1h-1zM551 233h1v1h-1zM552 232h1v1h-1zM553 231h2v1h-2zM555 230h1v1h-1zM556 229h1v1h-1zM557 228h1v1h-1zM558 227h1v1h-1zM559 226h1v1h-1zM560 225h1v1h-1zM561 224h1v1h-1zM562 223h1v1h-1zM563 222h1v1h-1zM564 221h2v1h-2zM566 220h1v1h-1zM567 219h1v1h-1zM568 218h1v1h-1zM569 217h1v1h-1zM570 216h2v1h-2zM572 215h1v1h-1zM573 214h1v1h-1zM574 213h2v1h-2zM576 212h2v1h-2zM578 211h1v1h-1zM579 210h2v1h-2zM581 209h2v1h-2zM583 208h2v1h-2zM585 207h1v1h-1zM586 206h1v1h-1zM587 205h1v1h-1zM588 204h1v1h-1zM589 203h1v1h-1zM590 202h8v1h-8zM598 201h16v1h-16zM614 202h10v1h-10zM624 203h2v1h-2zM626 204h2v1h-2zM628 205h2v1h-2zM630 206h2v1h-2zM632 207h2v1h-2zM634 208h2v1h-2zM636 209h2v1h-2zM638 210h2v1h-2zM640 211h2v1h-2zM642 212h1v1h-1zM643 213h2v1h-2zM645 214h1v1h-1zM646 215h2v1h-2zM648 216h1v1h-1zM649 217h2v1h-2zM651 218h1v1h-1zM652 219h1v1h-1zM653 220h2v1h-2zM655 221h1v1h-1zM656 222h2v1h-2zM658 223h1v1h-1zM659 224h2v1h-2zM661 225h1v1h-1zM662 226h1v1h-1zM663 227h1v1h-1zM664 228h2v1h-2zM666 229h1v1h-1zM667 230h1v1h-1zM668 231h1v1h-1zM669 232h1v1h-1zM670 233h1v1h-1zM671 234h1v1h-1zM672 235h2v1h-2zM674 236h1v1h-1zM675 237h1v1h-1zM676 238h1v1h-1zM677 239h1v1h-1zM678 240h2v1h-2zM680 241h1v1h-1zM681 242h1v1h-1zM682 243h1v1h-1zM683 244h1v1h-1zM684 245h2v1h-2zM686 246h1v1h-1zM687 247h1v1h-1zM688 248h1v1h-1zM689 249h1v1h-1zM690 250h2v1h-2zM692 251h1v1h-1zM693 252h1v1h-1zM694 253h2v1h-2zM696 254h1v1h-1zM697 255h1v1h-1zM698 256h2v1h-2zM700 257h1v1h-1zM701 258h1v1h-1zM702 259h2v1h-2zM704 260h1v1h-1zM705 261h1v1h-1zM706 262h2v1h-2zM708 263h1v1h-1zM709 264h1v1h-1zM710 265h2v1h-2zM712 266h1v1h-1zM713 267h1v1h-1zM714 268h1v1h-1zM715 269h1v1h-1zM716 270h2v1h-2zM718 271h1v1h-1zM719 272h1v1h-1zM720 273h1v1h-1zM721 274h1v1h-1zM722 275h1v1h-1zM723 276h1v1h-1zM724 277h2v1h-2zM726 278h1v1h-1zM727 279h1v1h-1zM728 280h5v1h-5zM733 281h7v1h-7zM740 280h4v1h-4zM744 279h4v1h-4zM748 278h4v1h-4zM752 277h4v1h-4zM756 276h3v1h-3zM759 275h2v1h-2zM761 274h2v1h-2zM763 273h2v1h-2zM765 272h1v1h-1zM766 271h2v1h-2zM768 270h2v1h-2zM770 269h2v1h-2zM772 268h1v1h-1zM773 267h2v1h-2zM775 266h2v1h-2zM777 265h2v1h-2zM779 264h1v1h-1zM780 263h1v1h-1zM781 262h1v1h-1zM782 261h2v1h-2zM784 260h1v1h-1zM785 259h1v1h-1zM786 258h1v1h-1zM787 257h1v1h-1zM788 256h1v1h-1zM789 255h2v1h-2zM791 254h1v1h-1zM792 253h1v1h-1zM793 252h1v1h-1zM794 251h1v1h-1zM795 250h1v1h-1zM796 249h2v1h-2zM798 248h1v1h-1zM799 247h1v1h-1zM800 246h1v1h-1zM801 245h1v1h-1zM802 244h1v1h-1zM803 243h1v1h-1zM804 242h1v1h-1zM805 241h1v1h-1zM806 240h1v1h-1zM807 239h1v1h-1zM808 238h1v1h-1zM809 237h1v1h-1zM810 235h1v1h-1zM810 236h1v1h-1zM811 234h1v1h-1zM812 233h1v1h-1zM813 232h1v1h-1zM814 231h1v1h-1zM815 230h1v1h-1zM816 229h1v1h-1zM817 228h1v1h-1zM818 227h1v1h-1zM819 226h1v1h-1zM820 225h1v1h-1zM821 224h1v1h-1zM822 223h1v1h-1zM823 222h1v1h-1zM824 221h1v1h-1zM825 220h1v1h-1zM826 219h1v1h-1zM827 218h1v1h-1zM828 217h1v1h-1zM829 216h1v1h-1zM830 215h1v1h-1zM831 214h1v1h-1zM832 213h1v1h-1zM833 212h1v1h-1zM834 211h1v1h-1zM835 210h1v1h-1zM836 209h1v1h-1zM837 208h1v1h-1zM838 206h1v1h-1zM838 207h1v1h-1zM839 205h1v1h-1zM840 204h1v1h-1zM841 203h1v1h-1zM842 202h1v1h-1zM843 201h1v1h-1zM844 200h1v1h-1zM845 198h1v1h-1zM845 199h1v1h-1zM846 197h1v1h-1zM847 196h1v1h-1zM848 195h1v1h-1zM849 194h1v1h-1zM850 192h1v1h-1zM850 193h1v1h-1zM851 191h1v1h-1zM852 189h1v1h-1zM852 190h1v1h-1zM853 188h1v1h-1zM854 186h1v1h-1zM854 187h1v1h-1zM855 185h1v1h-1zM856 183h1v1h-1zM856 184h1v1h-1zM857 182h1v1h-1zM858 181h1v1h-1zM859 179h1v1h-1zM859 180h1v1h-1zM860 178h1v1h-1zM861 176h1v1h-1zM861 177h1v1h-1zM862 175h1v1h-1zM863 173h1v1h-1zM863 174h1v1h-1zM864 172h1v1h-1zM865 170h1v1h-1zM865 171h1v1h-1zM866 169h1v1h-1zM867 168h1v1h-1zM868 166h1v1h-1zM868 167h1v1h-1zM869 165h1v1h-1zM870 164h1v1h-1zM871 163h1v1h-1zM872 162h1v1h-1zM873 160h1v1h-1zM873 161h1v1h-1zM874 159h1v1h-1zM875 158h1v1h-1zM876 157h1v1h-1zM877 156h1v1h-1zM878 154h1v1h-1zM878 155h1v1h-1zM879 153h1v1h-1zM880 152h1v1h-1zM881 151h1v1h-1zM882 150h2v1h-2zM884 149h1v1h-1zM885 148h1v1h-1zM886 147h2v1h-2zM888 146h1v1h-1zM889 145h1v1h-1zM890 144h1v1h-1zM891 143h1v1h-1zM892 142h2v1h-2zM894 141h1v1h-1zM895 140h1v1h-1zM896 139h2v1h-2zM898 138h2v1h-2zM900 137h2v1h-2zM902 136h2v1h-2zM904 135h2v1h-2zM906 134h2v1h-2zM908 133h2v1h-2zM910 132h2v1h-2zM912 131h2v1h-2zM914 130h2v1h-2zM916 129h2v1h-2zM918 128h2v1h-2zM920 127h2v1h-2zM922 126h2v1h-2zM924 125h2v1h-2zM926 124h2v1h-2zM928 123h2v1h-2zM930 122h2v1h-2zM932 121h2v1h-2zM934 120h3v1h-3zM937 119h3v1h-3zM940 118h4v1h-4zM944 117h12v1h-12zM956 116h4v1h-4zM960 115h4v1h-4zM964 114h4v1h-4zM968 113h8v1h-8zM976 112h7v1h-7zM983 111h2v1h-2zM985 110h3v1h-3zM988 109h20v1h-20zM1008 110h1v1h-1zM1009 111h1v1h-1zM1010 112h1v1h-1zM1011 113h1v1h-1zM1012 114h1v1h-1zM1013 115h1v1h-1zM1013 116h1v1h-1zM1014 117h1v1h-1zM1015 118h1v1h-1zM1016 119h1v1h-1zM1017 120h1v1h-1zM1018 121h1v1h-1zM1019 122h1v1h-1zM1020 123h1v1h-1zM1021 124h1v1h-1zM1022 125h1v1h-1zM1023 126h1v1h-1zM1024 127h1v1h-1zM1025 128h1v1h-1zM1025 129h1v1h-1zM1026 130h1v1h-1zM1027 131h1v1h-1zM1028 132h1v1h-1zM1029 133h1v1h-1zM1030 134h1v1h-1zM1031 135h1v1h-1zM1032 136h1v1h-1zM1033 137h1v1h-1zM1034 138h1v1h-1zM1035 139h1v1h-1zM1036 140h2v1h-2zM1038 141h1v1h-1zM1039 142h1v1h-1zM1040 143h1v1h-1zM1041 144h1v1h-1zM1042 145h1v1h-1zM1043 146h1v1h-1zM1044 147h1v1h-1zM1045 148h1v1h-1zM1046 149h1v1h-1zM1047 150h2v1h-2zM1049 151h1v1h-1zM1050 152h1v1h-1zM1051 153h1v1h-1zM1052 154h1v1h-1zM1052 155h1v1h-1zM1053 156h1v1h-1zM1053 157h1v1h-1zM1054 158h1v1h-1zM1054 159h1v1h-1zM1055 160h1v1h-1zM1055 161h1v1h-1zM1056 162h1v1h-1zM1056 163h1v1h-1zM1057 164h1v1h-1zM1057 165h1v1h-1zM1057 166h1v1h-1zM1058 167h1v1h-1zM1058 168h1v1h-1zM1058 169h1v1h-1zM1059 170h1v1h-1zM1059 171h1v1h-1zM1059 172h1v1h-1zM1060 173h1v1h-1zM1060 174h1v1h-1zM1061 175h1v1h-1zM1061 176h1v1h-1zM1061 177h1v1h-1zM1062 178h1v1h-1zM1062 179h1v1h-1zM1062 180h1v1h-1zM1063 181h1v1h-1zM1063 182h1v1h-1zM1063 183h1v1h-1zM1064 184h1v1h-1zM1064 185h1v1h-1zM1064 186h1v1h-1zM1065 187h1v1h-1zM1065 188h1v1h-1zM1066 189h1v1h-1zM1066 190h1v1h-1zM1067 191h1v1h-1zM1067 192h1v1h-1zM1068 193h1v1h-1zM1068 194h1v1h-1zM1069 195h1v1h-1zM1069 196h1v1h-1zM1069 197h1v1h-1zM1070 198h1v1h-1zM1070 199h1v1h-1zM1071 200h1v1h-1zM1071 201h1v1h-1zM1072 202h1v1h-1zM1072 203h1v1h-1zM1073 204h1v1h-1zM1073 205h1v1h-1zM1073 206h1v1h-1zM1074 207h1v1h-1zM1074 208h1v1h-1zM1075 209h1v1h-1zM1075 210h1v1h-1zM1076 211h1v1h-1zM1076 212h1v1h-1zM1076 213h1v1h-1zM1077 214h1v1h-1zM1077 215h1v1h-1zM1078 216h1v1h-1zM1078 217h1v1h-1zM1079 218h1v1h-1zM1079 219h1v1h-1zM1079 220h1v1h-1zM1080 221h1v1h-1zM1080 222h1v1h-1zM1081 223h1v1h-1zM1081 224h1v1h-1zM1082 225h1v1h-1zM1082 226h1v1h-1zM1082 227h1v1h-1zM1083 228h1v1h-1zM1083 229h1v1h-1zM1084 230h1v1h-1zM1084 231h1v1h-1zM1085 232h1v1h-1zM1085 233h1v1h-1zM1086 234h1v1h-1zM1086 235h1v1h-1zM1087 236h1v1h-1zM1087 237h1v1h-1zM1088 238h1v1h-1zM1088 239h1v1h-1zM1089 240h1v1h-1zM1089 241h1v1h-1zM1090 242h1v1h-1zM1090 243h1v1h-1zM1091 244h1v1h-1zM1091 245h1v1h-1zM1092 246h1v1h-1zM1093 247h1v1h-1zM1093 248h1v1h-1zM1094 249h1v1h-1zM1095 250h1v1h-1zM1095 251h1v1h-1zM1096 252h1v1h-1zM1096 253h1v1h-1zM1097 254h1v1h-1zM1098 255h1v1h-1zM1098 256h1v1h-1zM1099 257h1v1h-1zM1100 258h1v1h-1zM1101 259h1v1h-1zM1101 260h1v1h-1zM1102 261h1v1h-1zM1103 262h1v1h-1zM1104 263h1v1h-1zM1105 264h1v1h-1zM1105 265h1v1h-1zM1106 266h1v1h-1zM1107 267h1v1h-1zM1108 268h1v1h-1zM1108 269h1v1h-1zM1109 270h1v1h-1zM1110 271h1v1h-1zM1111 272h1v1h-1zM1112 273h1v1h-1zM1112 274h1v1h-1zM1113 275h1v1h-1zM1114 276h1v1h-1zM1115 277h1v1h-1zM1115 278h1v1h-1zM1116 279h1v1h-1zM1117 280h1v1h-1zM1118 281h1v1h-1zM1118 282h1v1h-1zM1119 283h1v1h-1zM1120 284h1v1h-1zM1121 285h1v1h-1zM1121 286h1v1h-1zM1122 287h1v1h-1zM1123 288h1v1h-1zM1123 289h1v1h-1zM1124 290h1v1h-1zM1124 291h1v1h-1zM1125 292h1v1h-1zM1126 293h1v1h-1zM1126 294h1v1h-1zM1127 295h1v1h-1zM1128 296h1v1h-1zM1128 297h1v1h-1zM1129 298h1v1h-1zM1129 299h1v1h-1zM1130 300h1v1h-1zM1131 301h1v1h-1zM1131 302h1v1h-1zM1132 303h1v1h-1zM1132 304h1v1h-1zM1133 305h1v1h-1zM1133 306h1v1h-1zM1134 307h1v1h-1zM1134 308h1v1h-1zM1135 309h1v1h-1zM1135 310h1v1h-1zM1136 311h1v1h-1zM1136 312h1v1h-1zM1137 313h1v1h-1zM1137 314h1v1h-1zM1138 315h1v1h-1zM1138 316h1v1h-1zM1139 317h1v1h-1zM1139 318h1v1h-1zM1140 319h1v1h-1zM1140 320h1v1h-1zM1141 321h1v1h-1zM1141 322h1v1h-1zM1142 323h1v1h-1zM1142 324h1v1h-1zM1143 325h1v1h-1zM1144 326h1v1h-1zM1144 327h1v1h-1zM1145 328h1v1h-1zM1145 329h1v1h-1zM1146 330h1v1h-1zM1146 331h1v1h-1zM1147 332h1v1h-1zM1148 333h1v1h-1zM1148 334h1v1h-1zM1149 335h1v1h-1zM1149 336h1v1h-1zM1150 337h1v1h-1zM1150 338h1v1h-1zM1151 339h1v1h-1zM1151 340h1v1h-1zM1152 341h1v1h-1zM1153 342h1v1h-1zM1153 343h1v1h-1zM1154 344h1v1h-1zM1155 345h1v1h-1zM1156 346h1v1h-1zM1156 347h1v1h-1zM1157 348h1v1h-1zM1158 349h1v1h-1zM1158 350h1v1h-1zM1159 351h1v1h-1zM1160 352h1v1h-1zM1161 353h1v1h-1zM1161 354h1v1h-1zM1162 355h1v1h-1zM1163 356h1v1h-1zM1163 357h1v1h-1zM1164 358h1v1h-1zM1165 359h1v1h-1zM1166 360h1v1h-1zM1166 361h1v1h-1zM1167 362h1v1h-1zM1168 363h2v1h-2zM1170 364h2v1h-2zM1172 365h2v1h-2zM1174 366h2v1h-2zM1176 367h2v1h-2zM1178 368h2v1h-2zM1180 369h4v1h-4zM1184 370h4v1h-4zM1188 371h5v1h-5zM1193 372h4v1h-4zM1197 373h3v1h-3zM1200 372h1v1h-1zM1201 371h1v1h-1zM1202 370h1v1h-1zM1203 369h1v1h-1zM1204 368h1v1h-1zM1205 367h1v1h-1zM1206 366h2v1h-2zM1208 365h1v1h-1zM1209 364h1v1h-1zM1210 363h1v1h-1zM1211 362h1v1h-1zM1212 361h1v1h-1zM1213 360h1v1h-1zM1214 359h1v1h-1zM1215 357h1v1h-1zM1215 358h1v1h-1zM1216 355h1v1h-1zM1216 356h1v1h-1zM1217 353h1v1h-1zM1217 354h1v1h-1zM1218 351h1v1h-1zM1218 352h1v1h-1zM1219 350h1v1h-1zM1220 348h1v1h-1zM1220 349h1v1h-1zM1221 346h1v1h-1zM1221 347h1v1h-1zM1222 344h1v1h-1zM1222 345h1v1h-1zM1223 343h1v1h-1zM1224 341h1v1h-1zM1224 342h1v1h-1zM1225 339h1v1h-1zM1225 340h1v1h-1zM1226 337h1v1h-1zM1226 338h1v1h-1zM1227 335h1v1h-1zM1227 336h1v1h-1zM1228 334h1v1h-1zM1229 332h1v1h-1zM1229 333h1v1h-1zM1230 330h1v1h-1zM1230 331h1v1h-1zM1231 328h1v1h-1zM1231 329h1v1h-1zM1232 326h1v1h-1zM1232 327h1v1h-1zM1233 324h1v1h-1zM1233 325h1v1h-1zM1234 322h1v1h-1zM1234 323h1v1h-1zM1235 320h1v1h-1zM1235 321h1v1h-1zM1236 318h1v1h-1zM1236 319h1v1h-1zM1237 316h1v1h-1zM1237 317h1v1h-1zM1238 314h1v1h-1zM1238 315h1v1h-1zM1239 312h1v1h-1zM1239 313h1v1h-1zM1240 310h1v1h-1zM1240 311h1v1h-1zM1241 308h1v1h-1zM1241 309h1v1h-1zM1242 306h1v1h-1zM1242 307h1v1h-1zM1243 304h1v1h-1zM1243 305h1v1h-1zM1244 302h1v1h-1zM1244 303h1v1h-1zM1245 300h1v1h-1zM1245 301h1v1h-1zM1246 298h1v1h-1zM1246 299h1v1h-1zM1247 296h1v1h-1zM1247 297h1v1h-1zM1248 294h1v1h-1zM1248 295h1v1h-1zM1249 292h1v1h-1zM1249 293h1v1h-1zM1250 290h1v1h-1zM1250 291h1v1h-1zM1251 288h1v1h-1zM1251 289h1v1h-1zM1252 286h1v1h-1zM1252 287h1v1h-1zM1253 284h1v1h-1zM1253 285h1v1h-1zM1254 282h1v1h-1zM1254 283h1v1h-1zM1255 280h1v1h-1zM1255 281h1v1h-1zM1256 278h1v1h-1zM1256 279h1v1h-1zM1257 276h1v1h-1zM1257 277h1v1h-1zM1258 275h1v1h-1zM1259 274h1v1h-1zM1260 273h1v1h-1zM1261 272h1v1h-1zM1262 271h1v1h-1zM1263 270h1v1h-1zM1264 269h1v1h-1zM1265 268h1v1h-1zM1266 267h1v1h-1zM1267 266h1v1h-1zM1268 265h1v1h-1zM1269 264h1v1h-1zM1270 263h1v1h-1zM1271 262h1v1h-1zM1272 261h2v1h-2zM1274 260h1v1h-1zM1275 259h1v1h-1zM1276 258h2v1h-2zM1278 257h1v1h-1zM1279 256h1v1h-1zM1280 255h2v1h-2zM1282 254h1v1h-1zM1283 253h1v1h-1zM1284 252h2v1h-2zM1286 251h1v1h-1zM130 581h1v1h-1zM131 579h1v2h-1zM132 577h1v2h-1zM133 575h1v2h-1zM134 574h1v1h-1zM135 572h1v2h-1zM136 570h1v2h-1zM137 568h1v2h-1zM138 567h1v1h-1zM139 565h1v2h-1zM140 563h1v2h-1zM141 561h1v2h-1zM142 560h1v1h-1zM143 558h1v2h-1zM144 556h1v2h-1zM145 554h1v2h-1zM146 553h1v1h-1zM147 551h1v2h-1zM148 549h1v2h-1zM149 547h1v2h-1zM150 545h1v2h-1zM151 544h1v1h-1zM152 544h1v1h-1zM153 544h1v1h-1zM154 544h1v1h-1zM155 543h1v1h-1zM156 543h1v1h-1zM157 543h1v1h-1zM158 543h1v1h-1zM159 543h1v1h-1zM160 543h1v1h-1zM161 543h1v1h-1zM162 542h1v1h-1zM163 542h1v1h-1zM164 542h1v1h-1zM165 542h1v1h-1zM166 543h1v2h-1zM167 545h1v1h-1zM168 546h1v2h-1zM169 548h1v2h-1zM170 550h1v1h-1zM171 551h1v2h-1zM172 553h1v1h-1zM173 554h1v2h-1zM174 556h1v2h-1zM175 558h1v1h-1zM176 559h1v1h-1zM177 559h1v1h-1zM178 560h1v1h-1zM179 561h1v1h-1zM180 561h1v1h-1zM181 562h1v1h-1zM182 562h1v1h-1zM183 563h1v1h-1zM184 564h1v1h-1zM185 564h1v1h-1zM186 565h1v1h-1zM187 566h1v1h-1zM188 566h1v1h-1zM189 567h1v1h-1zM190 567h1v1h-1zM191 568h1v1h-1zM192 567h1v1h-1zM193 567h1v1h-1zM194 566h1v1h-1zM195 566h1v1h-1zM196 565h1v1h-1zM197 565h1v1h-1zM198 564h1v1h-1zM199 564h1v1h-1zM200 563h1v1h-1zM201 563h1v1h-1zM202 563h1v1h-1zM203 563h1v1h-1zM204 563h1v1h-1zM205 563h1v1h-1zM206 563h1v1h-1zM207 563h1v1h-1zM208 563h1v1h-1zM209 562h1v1h-1zM210 562h1v1h-1zM211 562h1v1h-1zM212 562h1v1h-1zM213 562h1v1h-1zM214 562h1v1h-1zM215 562h1v1h-1zM216 562h1v1h-1zM217 561h1v1h-1zM218 561h1v1h-1zM219 560h1v1h-1zM220 560h1v1h-1zM221 559h1v1h-1zM222 559h1v1h-1zM223 558h1v1h-1zM224 558h1v1h-1zM225 557h1v1h-1zM226 557h1v1h-1zM227 556h1v1h-1zM228 556h1v1h-1zM229 555h1v1h-1zM230 555h1v1h-1zM231 554h1v1h-1zM232 553h1v1h-1zM233 553h1v1h-1zM234 552h1v1h-1zM235 551h1v1h-1zM236 550h1v1h-1zM237 550h1v1h-1zM238 549h1v1h-1zM239 548h1v1h-1zM240 547h1v1h-1zM241 547h1v1h-1zM242 546h1v1h-1zM243 545h1v1h-1zM244 544h1v1h-1zM245 544h1v1h-1zM246 543h1v1h-1zM247 542h1v1h-1zM248 541h1v1h-1zM249 540h1v1h-1zM250 539h1v1h-1zM251 538h1v1h-1zM252 537h1v1h-1zM253 536h1v1h-1zM254 535h1v1h-1zM255 534h1v1h-1zM256 534h1v1h-1zM257 533h1v1h-1zM258 532h1v1h-1zM259 531h1v1h-1zM260 530h1v1h-1zM261 529h1v1h-1zM262 528h1v1h-1zM263 527h1v1h-1zM264 526h1v1h-1zM265 525h1v1h-1zM266 524h1v1h-1zM267 523h1v1h-1zM268 522h1v1h-1zM269 521h1v1h-1zM270 520h1v1h-1zM271 519h1v1h-1zM272 519h1v1h-1zM273 518h1v1h-1zM274 517h1v1h-1zM275 516h1v1h-1zM276 515h1v1h-1zM277 514h1v1h-1zM278 513h1v1h-1zM279 512h1v1h-1zM280 510h1v2h-1zM281 509h1v1h-1zM282 508h1v1h-1zM283 506h1v2h-1zM284 505h1v1h-1zM285 504h1v1h-1zM286 502h1v2h-1zM287 501h1v1h-1zM288 500h1v1h-1zM289 498h1v2h-1zM290 496h1v2h-1zM291 494h1v2h-1zM292 492h1v2h-1zM293 490h1v2h-1zM294 488h1v2h-1zM295 486h1v2h-1zM296 484h1v2h-1zM297 482h1v2h-1zM298 480h1v2h-1zM299 478h1v2h-1zM300 476h1v2h-1zM301 473h1v3h-1zM302 470h1v3h-1zM303 468h1v2h-1zM304 465h1v3h-1zM305 462h1v3h-1zM306 460h1v2h-1zM307 457h1v3h-1zM308 454h1v3h-1zM309 451h1v3h-1zM310 449h1v2h-1zM311 446h1v3h-1zM312 444h1v2h-1zM313 444h1v1h-1zM314 443h1v1h-1zM315 443h1v1h-1zM316 442h1v1h-1zM317 442h1v1h-1zM318 442h1v1h-1zM319 441h1v1h-1zM320 441h1v1h-1zM321 440h1v1h-1zM322 440h1v1h-1zM323 440h1v1h-1zM324 439h1v1h-1zM325 439h1v1h-1zM326 438h1v1h-1zM327 438h1v1h-1zM328 438h1v1h-1zM329 438h1v1h-1zM330 438h1v1h-1zM331 438h1v1h-1zM332 438h1v1h-1zM333 438h1v1h-1zM334 438h1v1h-1zM335 437h1v1h-1zM336 437h1v1h-1zM337 437h1v1h-1zM338 437h1v1h-1zM339 437h1v1h-1zM340 437h1v1h-1zM341 437h1v1h-1zM342 437h1v1h-1zM343 437h1v1h-1zM344 437h1v1h-1zM345 437h1v1h-1zM346 437h1v1h-1zM347 437h1v1h-1zM348 437h1v1h-1zM349 437h1v1h-1zM350 437h1v1h-1zM351 438h1v1h-1zM352 438h1v1h-1zM353 438h1v1h-1zM354 438h1v1h-1zM355 438h1v1h-1zM356 438h1v1h-1zM357 438h1v1h-1zM358 438h1v1h-1zM359 438h1v1h-1zM360 438h1v1h-1zM361 438h1v1h-1zM362 439h1v1h-1zM363 439h1v1h-1zM364 439h1v1h-1zM365 439h1v1h-1zM366 440h1v1h-1zM367 440h1v1h-1zM368 440h1v1h-1zM369 440h1v1h-1zM370 441h1v1h-1zM371 441h1v1h-1zM372 441h1v1h-1zM373 441h1v1h-1zM374 442h1v1h-1zM375 442h1v1h-1zM376 443h1v1h-1zM377 443h1v1h-1zM378 444h1v1h-1zM379 444h1v1h-1zM380 445h1v1h-1zM381 445h1v1h-1zM382 446h1v1h-1zM383 446h1v1h-1zM384 446h1v1h-1zM385 447h1v1h-1zM386 447h1v1h-1zM387 447h1v1h-1zM388 447h1v1h-1zM389 448h1v1h-1zM390 448h1v1h-1zM391 448h1v1h-1zM392 448h1v1h-1zM393 449h1v1h-1zM394 449h1v1h-1zM395 450h1v1h-1zM396 450h1v1h-1zM397 450h1v1h-1zM398 451h1v1h-1zM399 451h1v1h-1zM400 451h1v1h-1zM401 451h1v1h-1zM402 451h1v1h-1zM403 451h1v1h-1zM404 451h1v1h-1zM405 451h1v1h-1zM406 451h1v1h-1zM407 451h1v1h-1zM408 450h1v1h-1zM409 450h1v1h-1zM410 449h1v1h-1zM411 449h1v1h-1zM412 448h1v1h-1zM413 448h1v1h-1zM414 447h1v1h-1zM415 447h1v1h-1zM416 446h1v1h-1zM417 445h1v1h-1zM418 444h1v1h-1zM419 442h1v2h-1zM420 441h1v1h-1zM421 440h1v1h-1zM422 439h1v1h-1zM423 438h1v1h-1zM424 436h1v2h-1zM425 434h1v2h-1zM426 433h1v1h-1zM427 431h1v2h-1zM428 430h1v1h-1zM429 428h1v2h-1zM430 426h1v2h-1zM431 425h1v1h-1zM432 423h1v2h-1zM433 421h1v2h-1zM434 420h1v1h-1zM435 418h1v2h-1zM436 417h1v1h-1zM437 415h1v2h-1zM438 413h1v2h-1zM439 412h1v1h-1zM440 413h1v1h-1zM441 414h1v1h-1zM442 414h1v1h-1zM443 415h1v1h-1zM444 416h1v1h-1zM445 417h1v1h-1zM446 417h1v1h-1zM447 418h1v1h-1zM448 418h1v1h-1zM449 419h1v1h-1zM450 419h1v1h-1zM451 419h1v1h-1zM452 419h1v1h-1zM453 420h1v1h-1zM454 420h1v1h-1zM455 420h1v1h-1zM456 419h1v1h-1zM457 419h1v1h-1zM458 418h1v1h-1zM459 418h1v1h-1zM460 417h1v1h-1zM461 417h1v1h-1zM462 416h1v1h-1zM463 416h1v1h-1zM464 416h1v1h-1zM465 417h1v1h-1zM466 417h1v1h-1zM467 418h1v1h-1zM468 418h1v1h-1zM469 418h1v1h-1zM470 419h1v1h-1zM471 419h1v1h-1zM472 420h1v1h-1zM473 421h1v1h-1zM474 421h1v1h-1zM475 422h1v1h-1zM476 423h1v1h-1zM477 424h1v1h-1zM478 425h1v1h-1zM479 426h1v1h-1zM480 427h1v1h-1zM481 428h1v1h-1zM482 428h1v1h-1zM483 429h1v1h-1zM484 430h1v1h-1zM485 431h1v1h-1zM486 432h1v1h-1zM487 433h1v1h-1zM488 432h1v1h-1zM489 432h1v1h-1zM490 431h1v1h-1zM491 430h1v1h-1zM492 430h1v1h-1zM493 429h1v1h-1zM494 429h1v1h-1zM495 428h1v1h-1zM496 427h1v1h-1zM497 427h1v1h-1zM498 426h1v1h-1zM499 425h1v1h-1zM500 425h1v1h-1zM501 424h1v1h-1zM502 424h1v1h-1zM503 423h1v1h-1zM504 422h1v1h-1zM505 421h1v1h-1zM506 420h1v1h-1zM507 419h1v1h-1zM508 418h1v1h-1zM509 417h1v1h-1zM510 416h1v1h-1zM511 415h1v1h-1zM512 414h1v1h-1zM513 413h1v1h-1zM514 412h1v1h-1zM515 411h1v1h-1zM516 410h1v1h-1zM517 409h1v1h-1zM518 408h1v1h-1zM519 406h1v2h-1zM520 404h1v2h-1zM521 401h1v3h-1zM522 398h1v3h-1zM523 396h1v2h-1zM524 393h1v3h-1zM525 390h1v3h-1zM526 388h1v2h-1zM527 385h1v3h-1zM528 382h1v3h-1zM529 380h1v2h-1zM530 378h1v2h-1zM531 377h1v1h-1zM532 376h1v1h-1zM533 375h1v1h-1zM534 375h1v1h-1zM535 374h1v1h-1zM536 373h1v1h-1zM537 372h1v1h-1zM538 371h1v1h-1zM539 370h1v1h-1zM540 370h1v1h-1zM541 369h1v1h-1zM542 368h1v1h-1zM543 367h1v1h-1zM544 366h1v1h-1zM545 365h1v1h-1zM546 364h1v1h-1zM547 363h1v1h-1zM548 362h1v1h-1zM549 361h1v1h-1zM550 360h1v1h-1zM551 360h1v1h-1zM552 359h1v1h-1zM553 358h1v1h-1zM554 357h1v1h-1zM555 356h1v1h-1zM556 355h1v1h-1zM557 354h1v1h-1zM558 353h1v1h-1zM559 351h1v2h-1zM560 350h1v1h-1zM561 348h1v2h-1zM562 346h1v2h-1zM563 345h1v1h-1zM564 343h1v2h-1zM565 342h1v1h-1zM566 340h1v2h-1zM567 338h1v2h-1zM568 337h1v1h-1zM569 335h1v2h-1zM570 334h1v1h-1zM571 332h1v2h-1zM572 330h1v2h-1zM573 329h1v1h-1zM574 327h1v2h-1zM575 326h1v1h-1zM576 324h1v2h-1zM577 322h1v2h-1zM578 321h1v1h-1zM579 319h1v2h-1zM580 318h1v1h-1zM581 316h1v2h-1zM582 314h1v2h-1zM583 313h1v1h-1zM584 311h1v2h-1zM585 309h1v2h-1zM586 306h1v3h-1zM587 303h1v3h-1zM588 299h1v4h-1zM589 296h1v3h-1zM590 294h1v2h-1zM591 293h1v1h-1zM592 293h1v1h-1zM593 292h1v1h-1zM594 292h1v1h-1zM595 291h1v1h-1zM596 291h1v1h-1zM597 290h1v1h-1zM598 290h1v1h-1zM599 289h1v1h-1zM600 289h1v1h-1zM601 289h1v1h-1zM602 289h1v1h-1zM603 289h1v1h-1zM604 289h1v1h-1zM605 289h1v1h-1zM606 290h1v1h-1zM607 290h1v1h-1zM608 290h1v1h-1zM609 290h1v1h-1zM610 290h1v1h-1zM611 290h1v1h-1zM612 290h1v1h-1zM613 290h1v1h-1zM614 290h1v1h-1zM615 290h1v1h-1zM616 290h1v1h-1zM617 290h1v1h-1zM618 291h1v1h-1zM619 291h1v1h-1zM620 291h1v1h-1zM621 291h1v1h-1zM622 291h1v1h-1zM623 291h1v1h-1zM624 292h1v2h-1zM625 294h1v2h-1zM626 296h1v2h-1zM627 298h1v2h-1zM628 300h1v2h-1zM629 302h1v2h-1zM630 304h1v2h-1zM631 306h1v2h-1zM632 308h1v2h-1zM633 310h1v2h-1zM634 312h1v2h-1zM635 314h1v2h-1zM636 316h1v1h-1zM637 317h1v2h-1zM638 319h1v1h-1zM639 320h1v2h-1zM640 322h1v1h-1zM641 323h1v1h-1zM642 324h1v2h-1zM643 326h1v1h-1zM644 327h1v2h-1zM645 329h1v1h-1zM646 330h1v2h-1zM647 332h1v1h-1zM648 333h1v2h-1zM649 335h1v1h-1zM650 336h1v1h-1zM651 337h1v2h-1zM652 339h1v1h-1zM653 340h1v1h-1zM654 341h1v1h-1zM655 342h1v1h-1zM656 342h1v1h-1zM657 343h1v1h-1zM658 344h1v1h-1zM659 345h1v1h-1zM660 346h1v1h-1zM661 346h1v1h-1zM662 347h1v1h-1zM663 348h1v1h-1zM664 349h1v1h-1zM665 350h1v2h-1zM666 352h1v1h-1zM667 353h1v1h-1zM668 354h1v1h-1zM669 355h1v1h-1zM670 356h1v2h-1zM671 358h1v1h-1zM672 359h1v1h-1zM673 360h1v1h-1zM674 361h1v1h-1zM675 362h1v1h-1zM676 363h1v1h-1zM677 363h1v1h-1zM678 364h1v1h-1zM679 365h1v1h-1zM680 366h1v1h-1zM681 367h1v1h-1zM682 367h1v1h-1zM683 368h1v1h-1zM684 368h1v1h-1zM685 369h1v1h-1zM686 369h1v1h-1zM687 370h1v1h-1zM688 370h1v1h-1zM689 370h1v1h-1zM690 370h1v1h-1zM691 370h1v1h-1zM692 371h1v1h-1zM693 371h1v1h-1zM694 371h1v1h-1zM695 371h1v1h-1zM696 371h1v1h-1zM697 371h1v1h-1zM698 372h1v1h-1zM699 372h1v1h-1zM700 372h1v1h-1zM701 372h1v1h-1zM702 372h1v1h-1zM703 371h1v1h-1zM704 371h1v1h-1zM705 370h1v1h-1zM706 370h1v1h-1zM707 369h1v1h-1zM708 369h1v1h-1zM709 368h1v1h-1zM710 368h1v1h-1zM711 367h1v1h-1zM712 367h1v1h-1zM713 365h1v2h-1zM714 364h1v1h-1zM715 362h1v2h-1zM716 361h1v1h-1zM717 359h1v2h-1zM718 357h1v2h-1zM719 356h1v1h-1zM720 354h1v2h-1zM721 352h1v2h-1zM722 348h1v4h-1zM723 345h1v3h-1zM724 342h1v3h-1zM725 338h1v4h-1zM726 336h1v2h-1zM727 336h1v1h-1zM728 335h1v1h-1zM729 335h1v1h-1zM730 335h1v1h-1zM731 334h1v1h-1zM732 334h1v1h-1zM733 334h1v1h-1zM734 333h1v1h-1zM735 333h1v1h-1zM736 334h1v1h-1zM737 334h1v1h-1zM738 335h1v1h-1zM739 335h1v1h-1zM740 336h1v1h-1zM741 337h1v1h-1zM742 337h1v1h-1zM743 338h1v1h-1zM744 338h1v1h-1zM745 339h1v1h-1zM746 339h1v1h-1zM747 340h1v1h-1zM748 341h1v1h-1zM749 341h1v1h-1zM750 342h1v1h-1zM751 342h1v1h-1zM752 343h1v1h-1zM753 343h1v1h-1zM754 344h1v1h-1zM755 344h1v1h-1zM756 345h1v1h-1zM757 345h1v1h-1zM758 346h1v1h-1zM759 346h1v1h-1zM760 347h1v1h-1zM761 347h1v1h-1zM762 348h1v1h-1zM763 349h1v1h-1zM764 349h1v1h-1zM765 350h1v1h-1zM766 351h1v1h-1zM767 351h1v1h-1zM768 352h1v1h-1zM769 352h1v1h-1zM770 353h1v1h-1zM771 354h1v1h-1zM772 354h1v1h-1zM773 355h1v1h-1zM774 356h1v1h-1zM775 356h1v1h-1zM776 357h1v1h-1zM777 357h1v1h-1zM778 358h1v1h-1zM779 359h1v1h-1zM780 359h1v1h-1zM781 360h1v1h-1zM782 360h1v1h-1zM783 360h1v1h-1zM784 360h1v1h-1zM785 361h1v1h-1zM786 361h1v1h-1zM787 361h1v1h-1zM788 361h1v1h-1zM789 361h1v1h-1zM790 361h1v1h-1zM791 362h1v1h-1zM792 362h1v1h-1zM793 362h1v1h-1zM794 362h1v1h-1zM795 362h1v1h-1zM796 362h1v1h-1zM797 363h1v1h-1zM798 363h1v1h-1zM799 363h1v1h-1zM800 363h1v1h-1zM801 362h1v1h-1zM802 362h1v1h-1zM803 361h1v1h-1zM804 361h1v1h-1zM805 360h1v1h-1zM806 359h1v1h-1zM807 359h1v1h-1zM808 358h1v1h-1zM809 357h1v1h-1zM810 356h1v1h-1zM811 356h1v1h-1zM812 355h1v1h-1zM813 354h1v1h-1zM814 353h1v1h-1zM815 353h1v1h-1zM816 352h1v1h-1zM817 352h1v1h-1zM818 351h1v1h-1zM819 351h1v1h-1zM820 350h1v1h-1zM821 350h1v1h-1zM822 349h1v1h-1zM823 349h1v1h-1zM824 348h1v1h-1zM825 348h1v1h-1zM826 347h1v1h-1zM827 347h1v1h-1zM828 346h1v1h-1zM829 345h1v1h-1zM830 343h1v2h-1zM831 342h1v1h-1zM832 341h1v1h-1zM833 340h1v1h-1zM834 339h1v1h-1zM835 337h1v2h-1zM836 336h1v1h-1zM837 335h1v1h-1zM838 334h1v1h-1zM839 332h1v2h-1zM840 331h1v1h-1zM841 330h1v1h-1zM842 328h1v2h-1zM843 327h1v1h-1zM844 326h1v1h-1zM845 324h1v2h-1zM846 323h1v1h-1zM847 322h1v1h-1zM848 320h1v2h-1zM849 319h1v1h-1zM850 317h1v2h-1zM851 315h1v2h-1zM852 314h1v1h-1zM853 312h1v2h-1zM854 311h1v1h-1zM855 309h1v2h-1zM856 307h1v2h-1zM857 306h1v1h-1zM858 304h1v2h-1zM859 302h1v2h-1zM860 300h1v2h-1zM861 298h1v2h-1zM862 295h1v3h-1zM863 292h1v3h-1zM864 290h1v2h-1zM865 287h1v3h-1zM866 284h1v3h-1zM867 282h1v2h-1zM868 279h1v3h-1zM869 276h1v3h-1zM870 274h1v2h-1zM871 271h1v3h-1zM872 269h1v2h-1zM873 267h1v2h-1zM874 264h1v3h-1zM875 262h1v2h-1zM876 259h1v3h-1zM877 257h1v2h-1zM878 255h1v2h-1zM879 253h1v2h-1zM880 251h1v2h-1zM881 249h1v2h-1zM882 247h1v2h-1zM883 245h1v2h-1zM884 243h1v2h-1zM885 241h1v2h-1zM886 239h1v2h-1zM887 237h1v2h-1zM888 236h1v1h-1zM889 234h1v2h-1zM890 232h1v2h-1zM891 230h1v2h-1zM892 228h1v2h-1zM893 226h1v2h-1zM894 224h1v2h-1zM895 222h1v2h-1zM896 220h1v2h-1zM897 218h1v2h-1zM898 216h1v2h-1zM899 215h1v1h-1zM900 214h1v1h-1zM901 212h1v2h-1zM902 211h1v1h-1zM903 210h1v1h-1zM904 208h1v2h-1zM905 207h1v1h-1zM906 206h1v1h-1zM907 204h1v2h-1zM908 203h1v1h-1zM909 201h1v2h-1zM910 200h1v1h-1zM911 198h1v2h-1zM912 197h1v1h-1zM913 196h1v1h-1zM914 194h1v2h-1zM915 193h1v1h-1zM916 191h1v2h-1zM917 190h1v1h-1zM918 188h1v2h-1zM919 187h1v1h-1zM920 185h1v2h-1zM921 183h1v2h-1zM922 181h1v2h-1zM923 180h1v1h-1zM924 178h1v2h-1zM925 176h1v2h-1zM926 175h1v1h-1zM927 173h1v2h-1zM928 171h1v2h-1zM929 169h1v2h-1zM930 168h1v1h-1zM931 167h1v1h-1zM932 166h1v1h-1zM933 165h1v1h-1zM934 164h1v1h-1zM935 163h1v1h-1zM936 162h1v1h-1zM937 161h1v1h-1zM938 160h1v1h-1zM939 159h1v1h-1zM940 158h1v1h-1zM941 156h1v2h-1zM942 155h1v1h-1zM943 154h1v1h-1zM944 153h1v1h-1zM945 153h1v1h-1zM946 152h1v1h-1zM947 152h1v1h-1zM948 152h1v1h-1zM949 152h1v1h-1zM950 151h1v1h-1zM951 151h1v1h-1zM952 151h1v1h-1zM953 151h1v1h-1zM954 150h1v1h-1zM955 150h1v1h-1zM956 150h1v1h-1zM957 149h1v1h-1zM958 149h1v1h-1zM959 148h1v1h-1zM960 148h1v1h-1zM961 147h1v1h-1zM962 147h1v1h-1zM963 146h1v1h-1zM964 146h1v1h-1zM965 145h1v1h-1zM966 145h1v1h-1zM967 145h1v1h-1zM968 144h1v1h-1zM969 144h1v1h-1zM970 144h1v1h-1zM971 143h1v1h-1zM972 143h1v1h-1zM973 143h1v1h-1zM974 142h1v1h-1zM975 142h1v1h-1zM976 142h1v1h-1zM977 141h1v1h-1zM978 141h1v1h-1zM979 141h1v1h-1zM980 141h1v1h-1zM981 140h1v1h-1zM982 140h1v1h-1zM983 140h1v1h-1zM984 141h1v1h-1zM985 141h1v1h-1zM986 141h1v1h-1zM987 141h1v1h-1zM988 142h1v1h-1zM989 142h1v1h-1zM990 142h1v1h-1zM991 143h1v1h-1zM992 143h1v1h-1zM993 143h1v1h-1zM994 143h1v1h-1zM995 144h1v1h-1zM996 144h1v1h-1zM997 144h1v1h-1zM998 144h1v1h-1zM999 144h1v1h-1zM1000 143h1v1h-1zM1001 143h1v1h-1zM1002 143h1v1h-1zM1003 143h1v1h-1zM1004 143h1v1h-1zM1005 142h1v1h-1zM1006 142h1v1h-1zM1007 142h1v3h-1zM1008 145h1v5h-1zM1009 150h1v5h-1zM1010 155h1v5h-1zM1011 160h1v6h-1zM1012 166h1v6h-1zM1013 172h1v6h-1zM1014 178h1v4h-1zM1015 182h1v4h-1zM1016 186h1v4h-1zM1017 190h1v4h-1zM1018 194h1v4h-1zM1019 198h1v5h-1zM1020 203h1v4h-1zM1021 207h1v5h-1zM1022 212h1v5h-1zM1023 217h1v4h-1zM1024 221h1v4h-1zM1025 225h1v4h-1zM1026 229h1v4h-1zM1027 233h1v4h-1zM1028 237h1v4h-1zM1029 241h1v4h-1zM1030 245h1v3h-1zM1031 248h1v3h-1zM1032 251h1v3h-1zM1033 254h1v2h-1zM1034 256h1v3h-1zM1035 259h1v3h-1zM1036 262h1v3h-1zM1037 265h1v2h-1zM1038 267h1v2h-1zM1039 269h1v2h-1zM1040 271h1v2h-1zM1041 273h1v2h-1zM1042 275h1v2h-1zM1043 277h1v2h-1zM1044 279h1v4h-1zM1045 283h1v6h-1zM1046 289h1v6h-1zM1047 295h1v4h-1zM1048 299h1v4h-1zM1049 303h1v4h-1zM1050 307h1v4h-1zM1051 311h1v4h-1zM1052 315h1v4h-1zM1053 319h1v4h-1zM1054 323h1v4h-1zM1055 327h1v4h-1zM1056 331h1v4h-1zM1057 335h1v4h-1zM1058 339h1v4h-1zM1059 343h1v6h-1zM1060 349h1v9h-1zM1061 358h1v10h-1zM1062 368h1v9h-1zM1063 377h1v9h-1zM1064 386h1v10h-1zM1065 396h1v9h-1zM1066 405h1v7h-1zM1067 412h1v6h-1zM1068 418h1v6h-1zM1069 424h1v6h-1zM1070 430h1v6h-1zM1071 436h1v6h-1zM1072 442h1v6h-1zM1073 448h1v6h-1zM1074 454h1v6h-1zM1075 460h1v6h-1zM1076 466h1v6h-1zM1077 472h1v5h-1zM1078 477h1v5h-1zM1079 482h1v5h-1zM1080 487h1v5h-1zM1081 492h1v5h-1zM1082 497h1v4h-1zM1083 501h1v5h-1zM1084 506h1v5h-1zM1085 511h1v5h-1zM1086 516h1v5h-1zM1087 521h1v5h-1zM1088 526h1v4h-1zM1089 530h1v4h-1zM1090 534h1v3h-1zM1091 537h1v4h-1zM1092 541h1v3h-1zM1093 544h1v3h-1zM1094 547h1v4h-1zM1095 551h1v3h-1zM1096 554h1v4h-1zM1097 558h1v2h-1zM1098 560h1v1h-1zM1099 561h1v1h-1zM1100 562h1v1h-1zM1101 562h1v1h-1zM1102 563h1v1h-1zM1103 564h1v1h-1zM1104 565h1v1h-1zM1105 566h1v1h-1zM1106 567h1v1h-1zM1107 567h1v1h-1zM1108 568h1v1h-1zM1109 569h1v1h-1zM1110 569h1v1h-1zM1111 570h1v1h-1zM1112 570h1v1h-1zM1113 571h1v1h-1zM1114 571h1v1h-1zM1115 571h1v1h-1zM1116 572h1v1h-1zM1117 572h1v1h-1zM1118 573h1v1h-1zM1119 573h1v1h-1zM1120 573h1v1h-1zM1121 574h1v1h-1zM1122 574h1v1h-1zM1123 575h1v1h-1zM1124 575h1v1h-1zM1125 576h1v1h-1zM1126 576h1v1h-1zM1127 577h1v1h-1zM1128 577h1v1h-1zM1129 578h1v1h-1zM1130 578h1v1h-1zM1131 579h1v1h-1zM1132 579h1v1h-1zM1133 580h1v1h-1zM1134 580h1v1h-1zM1135 579h1v1h-1zM1136 578h1v1h-1zM1137 577h1v1h-1zM1138 576h1v1h-1zM1139 575h1v1h-1zM1140 573h1v2h-1zM1141 572h1v1h-1zM1142 571h1v1h-1zM1143 570h1v1h-1zM1144 569h1v1h-1zM1145 568h1v1h-1zM1146 566h1v2h-1zM1147 564h1v2h-1zM1148 562h1v2h-1zM1149 560h1v2h-1zM1150 558h1v2h-1zM1151 556h1v2h-1zM1152 554h1v2h-1zM1153 552h1v2h-1zM1154 550h1v2h-1zM1155 548h1v2h-1zM1156 546h1v2h-1zM1157 544h1v2h-1zM1158 542h1v2h-1zM1159 540h1v2h-1zM1160 538h1v2h-1zM1161 536h1v2h-1zM1162 534h1v2h-1zM1163 532h1v2h-1zM1164 530h1v2h-1zM1165 528h1v2h-1zM1166 526h1v2h-1zM1167 524h1v2h-1zM1168 523h1v1h-1zM1169 523h1v1h-1zM1170 522h1v1h-1zM1171 522h1v1h-1zM1172 521h1v1h-1zM1173 521h1v1h-1zM1174 520h1v1h-1zM1175 520h1v1h-1zM1176 519h1v1h-1zM1177 519h1v1h-1zM1178 518h1v1h-1zM1179 518h1v1h-1zM1180 517h1v1h-1zM1181 517h1v1h-1zM1182 517h1v1h-1zM1183 516h1v1h-1zM1184 516h1v1h-1zM1185 516h1v1h-1zM1186 516h1v1h-1zM1187 515h1v1h-1zM1188 515h1v1h-1zM1189 515h1v1h-1zM1190 514h1v1h-1zM1191 514h1v1h-1zM1192 514h1v1h-1zM1193 514h1v1h-1zM1194 513h1v1h-1zM1195 513h1v1h-1zM1196 513h1v1h-1zM1197 513h1v1h-1zM1198 512h1v1h-1zM1199 512h1v1h-1zM1200 513h1v2h-1zM1201 515h1v2h-1zM1202 517h1v2h-1zM1203 519h1v2h-1zM1204 521h1v1h-1zM1205 522h1v2h-1zM1206 524h1v2h-1zM1207 526h1v2h-1zM1208 528h1v2h-1zM1209 530h1v2h-1zM1210 532h1v1h-1zM1211 533h1v2h-1zM1212 535h1v2h-1zM1213 537h1v2h-1zM1214 539h1v2h-1zM1215 541h1v1h-1zM1216 539h1v2h-1zM1217 537h1v2h-1zM1218 535h1v2h-1zM1219 533h1v2h-1zM1220 531h1v2h-1zM1221 530h1v1h-1zM1222 528h1v2h-1zM1223 526h1v2h-1zM1224 524h1v2h-1zM1225 522h1v2h-1zM1226 520h1v2h-1zM1227 518h1v2h-1zM1228 517h1v1h-1zM1229 515h1v2h-1zM1230 513h1v2h-1zM1231 512h1v1h-1zM1232 510h1v2h-1zM1233 509h1v1h-1zM1234 507h1v2h-1zM1235 505h1v2h-1zM1236 504h1v1h-1zM1237 502h1v2h-1zM1238 501h1v1h-1zM1239 499h1v2h-1zM1240 497h1v2h-1zM1241 496h1v1h-1zM1242 494h1v2h-1zM1243 493h1v1h-1zM1244 491h1v2h-1zM1245 489h1v2h-1zM1246 487h1v2h-1zM1247 483h1v4h-1zM1248 479h1v4h-1zM1249 475h1v4h-1zM1250 471h1v4h-1zM1251 467h1v4h-1zM1252 463h1v4h-1zM1253 459h1v4h-1zM1254 455h1v4h-1zM1255 452h1v3h-1zM1256 451h1v1h-1zM1257 450h1v1h-1zM1258 449h1v1h-1zM1259 448h1v1h-1zM1260 447h1v1h-1zM1261 446h1v1h-1zM1262 445h1v1h-1zM1263 444h1v1h-1zM1264 443h1v1h-1zM1265 442h1v1h-1zM1266 441h1v1h-1zM1267 440h1v1h-1zM1268 439h1v1h-1zM1269 438h1v1h-1zM1270 437h1v1h-1zM1271 436h1v1h-1zM1272 435h1v1h-1zM1273 433h1v2h-1zM1274 432h1v1h-1zM1275 431h1v1h-1zM1276 429h1v2h-1zM1277 428h1v1h-1zM1278 427h1v1h-1zM1279 425h1v2h-1zM1280 424h1v1h-1zM1281 423h1v1h-1zM1282 421h1v2h-1zM1283 420h1v1h-1zM1284 419h1v1h-1zM1285 417h1v2h-1zM1286 416h1v1h-1z" fill="#1f9f55" shape-rendering="crispEdges"/>
<g clip-path="url(#cm)" shape-rendering="crispEdges">
<path d="M7,535h1v7h-1zM7,558h1v6h-1zM15,540h1v1h-1zM15,544h1v11h-1zM23,499h1v12h-1zM23,542h1v9h-1zM31,474h1v18h-1zM31,511h1v5h-1zM39,482h1v10h-1zM39,513h1v10h-1zM47,465h1v12h-1zM47,511h1v25h-1zM55,472h1v1h-1zM55,480h1v25h-1zM63,471h1v2h-1zM63,481h1v14h-1zM71,463h1v13h-1zM71,480h1v10h-1zM79,450h1v27h-1zM79,497h1v14h-1zM87,453h1v5h-1zM87,494h1v9h-1zM95,455h1v3h-1zM95,488h1v9h-1zM103,484h1v4h-1zM103,497h1v11h-1zM111,483h1v10h-1zM111,496h1v6h-1zM119,469h1v17h-1zM119,491h1v16h-1zM127,463h1v23h-1zM127,496h1v16h-1zM135,465h1v25h-1zM135,494h1v40h-1zM143,473h1v18h-1zM143,493h1v7h-1zM151,482h1v10h-1zM151,500h1v8h-1zM159,392h1v24h-1zM159,499h1v2h-1zM167,394h1v14h-1zM167,416h1v7h-1zM175,320h1v7h-1zM175,409h1v7h-1zM183,314h1v13h-1zM183,359h1v21h-1zM191,341h1v4h-1zM191,357h1v36h-1zM199,327h1v17h-1zM199,371h1v16h-1zM207,360h1v6h-1zM207,371h1v20h-1zM215,349h1v6h-1zM215,365h1v8h-1zM223,333h1v22h-1zM223,396h1v27h-1zM231,382h1v12h-1zM231,397h1v25h-1zM239,363h1v11h-1zM239,396h1v3h-1zM247,364h1v9h-1zM255,375h1v3h-1zM255,414h1v4h-1zM263,434h1v14h-1zM271,410h1v22h-1zM271,433h1v12h-1zM279,411h1v20h-1zM279,433h1v29h-1zM287,349h1v12h-1zM287,432h1v8h-1zM295,352h1v10h-1zM295,371h1v6h-1zM303,363h1v8h-1zM303,379h1v6h-1zM311,325h1v14h-1zM311,380h1v2h-1zM319,335h1v4h-1zM319,350h1v19h-1zM327,319h1v14h-1zM327,350h1v20h-1zM335,316h1v16h-1zM335,383h1v10h-1zM343,354h1v16h-1zM343,382h1v1h-1zM351,368h1v2h-1zM351,393h1v5h-1zM359,379h1v2h-1zM359,392h1v10h-1zM367,372h1v9h-1zM367,418h1v15h-1zM375,349h1v6h-1zM375,418h1v8h-1zM383,298h1v13h-1zM383,355h1v15h-1zM391,295h1v10h-1zM391,310h1v11h-1zM399,275h1v31h-1zM399,318h1v13h-1zM407,300h1v16h-1zM407,318h1v19h-1zM415,295h1v18h-1zM415,316h1v21h-1zM423,302h1v12h-1zM423,334h1v2h-1zM431,310h1v7h-1zM431,335h1v35h-1zM439,299h1v1h-1zM439,319h1v7h-1zM447,240h1v14h-1zM447,301h1v7h-1zM455,248h1v6h-1zM463,254h1v7h-1zM463,272h1v7h-1zM471,235h1v4h-1zM471,271h1v2h-1zM479,197h1v3h-1zM487,183h1v11h-1zM487,199h1v15h-1zM495,205h1v3h-1zM503,186h1v7h-1zM503,203h1v5h-1zM511,134h1v20h-1zM511,192h1v7h-1zM519,144h1v8h-1zM519,155h1v10h-1zM527,140h1v13h-1zM527,186h1v18h-1zM535,161h1v6h-1zM535,184h1v12h-1zM543,157h1v9h-1zM543,172h1v7h-1zM551,142h1v14h-1zM551,170h1v19h-1zM559,134h1v11h-1zM559,157h1v1h-1zM567,95h1v41h-1zM567,145h1v2h-1zM575,133h1v4h-1zM575,231h1v7h-1zM583,180h1v41h-1zM583,230h1v15h-1zM591,207h1v13h-1zM591,257h1v4h-1zM599,234h1v18h-1zM599,259h1v13h-1zM607,237h1v20h-1zM607,262h1v7h-1zM615,259h1v3h-1zM615,269h1v31h-1zM623,244h1v21h-1zM623,269h1v14h-1zM631,255h1v9h-1zM631,305h1v61h-1zM639,274h1v29h-1zM639,311h1v41h-1zM647,283h1v24h-1zM647,310h1v51h-1zM655,282h1v24h-1zM655,311h1v9h-1zM663,261h1v22h-1zM663,310h1v20h-1zM671,253h1v28h-1zM671,322h1v22h-1zM679,278h1v9h-1zM679,320h1v16h-1zM687,284h1v3h-1zM687,318h1v9h-1zM695,280h1v7h-1zM695,317h1v5h-1zM703,281h1v6h-1zM703,294h1v6h-1zM711,255h1v32h-1zM711,293h1v11h-1zM719,253h1v34h-1zM719,288h1v9h-1zM727,240h1v11h-1zM727,288h1v22h-1zM735,250h1v25h-1zM743,206h1v2h-1zM743,218h1v1h-1zM751,192h1v9h-1zM751,208h1v1h-1zM759,195h1v6h-1zM759,205h1v6h-1zM767,196h1v8h-1zM767,205h1v4h-1zM775,164h1v14h-1zM775,202h1v11h-1zM783,167h1v3h-1zM783,177h1v15h-1zM799,84h1v51h-1zM799,143h1v7h-1zM807,127h1v8h-1zM807,139h1v6h-1zM815,134h1v4h-1zM815,147h1v21h-1zM823,118h1v6h-1zM823,148h1v6h-1zM831,109h1v14h-1zM831,124h1v15h-1zM839,90h1v11h-1zM839,123h1v11h-1zM847,89h1v3h-1zM847,102h1v6h-1zM855,82h1v3h-1zM855,93h1v8h-1zM863,70h1v15h-1zM863,92h1v6h-1zM871,87h1v4h-1zM871,115h1v20h-1zM879,84h1v5h-1zM879,116h1v7h-1zM887,80h1v10h-1zM887,126h1v5h-1zM895,115h1v9h-1zM895,125h1v14h-1zM903,121h1v2h-1zM903,130h1v8h-1zM911,121h1v3h-1zM911,128h1v15h-1zM919,111h1v3h-1zM919,124h1v5h-1zM927,100h1v9h-1zM935,99h1v2h-1zM935,105h1v3h-1zM943,126h1v6h-1zM951,130h1v11h-1zM959,110h1v3h-1zM959,132h1v11h-1zM967,103h1v10h-1zM967,115h1v18h-1zM975,112h1v3h-1zM975,129h1v14h-1zM983,116h1v7h-1zM991,106h1v2h-1zM999,90h1v2h-1zM1007,56h1v32h-1zM1007,99h1v10h-1zM1015,95h1v4h-1zM1015,262h1v5h-1zM1023,238h1v11h-1zM1023,261h1v24h-1zM1031,297h1v16h-1zM1039,252h1v7h-1zM1039,295h1v13h-1zM1047,255h1v5h-1zM1055,257h1v21h-1zM1055,334h1v21h-1zM1063,537h1v13h-1zM1071,463h1v19h-1zM1071,538h1v12h-1zM1079,438h1v3h-1zM1079,481h1v8h-1zM1087,431h1v6h-1zM1087,447h1v23h-1zM1095,441h1v5h-1zM1095,500h1v2h-1zM1103,498h1v6h-1zM1111,326h1v11h-1zM1111,367h1v29h-1zM1119,320h1v9h-1zM1119,337h1v13h-1zM1127,327h1v2h-1zM1127,373h1v7h-1zM1135,345h1v23h-1zM1135,371h1v12h-1zM1143,323h1v4h-1zM1143,368h1v4h-1zM1151,293h1v10h-1zM1151,329h1v26h-1zM1159,303h1v2h-1zM1159,381h1v33h-1zM1167,346h1v21h-1zM1167,383h1v16h-1zM1175,336h1v5h-1zM1175,366h1v3h-1zM1183,318h1v8h-1zM1183,341h1v1h-1zM1191,298h1v17h-1zM1191,325h1v11h-1zM1199,301h1v1h-1zM1199,317h1v11h-1zM1207,171h1v9h-1zM1207,302h1v34h-1zM1215,148h1v10h-1zM1215,179h1v3h-1zM1223,145h1v13h-1zM1223,159h1v8h-1zM1231,143h1v2h-1zM1239,178h1v10h-1zM1247,154h1v4h-1zM1247,177h1v6h-1zM1255,154h1v3h-1zM1255,182h1v9h-1zM1263,157h1v13h-1zM1263,182h1v2h-1zM1271,170h1v1h-1zM1271,191h1v16h-1zM1279,184h1v7h-1zM1279,226h1v10h-1z" fill="#000"/>
<path d="M-3,556h5v11h-5zM-2,557v9h3v-9zM5,542h5v16h-5zM6,543v14h3v-14zM13,541h5v3h-5zM14,542v1h3v-1zM21,511h5v31h-5zM22,512v29h3v-29zM29,492h5v19h-5zM30,493v17h3v-17zM37,492h5v21h-5zM45,477h5v34h-5zM46,478v32h3v-32zM53,473h5v7h-5zM54,474v5h3v-5zM61,473h5v8h-5zM69,476h5v4h-5zM70,477v2h3v-2zM77,477h5v20h-5zM85,458h5v36h-5zM86,459v34h3v-34zM93,458h5v30h-5zM101,488h5v9h-5zM109,493h5v3h-5zM110,494v1h3v-1zM117,486h5v5h-5zM118,487v3h3v-3zM125,486h5v10h-5zM133,490h5v4h-5zM134,491v2h3v-2zM141,491h5v2h-5zM149,492h5v8h-5zM157,416h5v83h-5zM158,417v81h3v-81zM165,408h5v8h-5zM166,409v6h3v-6zM173,327h5v82h-5zM174,328v80h3v-80zM181,327h5v32h-5zM189,345h5v12h-5zM190,346v10h3v-10zM197,344h5v27h-5zM205,366h5v5h-5zM206,367v3h3v-3zM213,355h5v10h-5zM214,356v8h3v-8zM221,355h5v41h-5zM229,394h5v3h-5zM237,374h5v22h-5zM238,375v20h3v-20zM245,373h5v5h-5zM253,378h5v36h-5zM261,413h5v21h-5zM269,432h5v1h-5zM277,431h5v2h-5zM285,361h5v71h-5zM286,362v69h3v-69zM293,362h5v9h-5zM301,371h5v8h-5zM309,339h5v41h-5zM310,340v39h3v-39zM317,339h5v11h-5zM325,333h5v17h-5zM326,334v15h3v-15zM333,332h5v51h-5zM341,370h5v12h-5zM342,371v10h3v-10zM349,370h5v23h-5zM357,381h5v11h-5zM358,382v9h3v-9zM365,381h5v37h-5zM373,355h5v63h-5zM374,356v61h3v-61zM381,311h5v44h-5zM382,312v42h3v-42zM389,305h5v5h-5zM390,306v3h3v-3zM397,306h5v12h-5zM405,316h5v2h-5zM413,313h5v3h-5zM414,314v1h3v-1zM421,314h5v20h-5zM429,317h5v18h-5zM430,318v16h3v-16zM437,300h5v19h-5zM438,301v17h3v-17zM445,254h5v47h-5zM446,255v45h3v-45zM453,254h5v9h-5zM461,261h5v11h-5zM469,239h5v32h-5zM470,240v30h3v-30zM477,200h5v39h-5zM478,201v37h3v-37zM485,194h5v5h-5zM486,195v3h3v-3zM493,188h5v17h-5zM501,193h5v10h-5zM502,194v8h3v-8zM509,154h5v38h-5zM510,155v36h3v-36zM517,152h5v3h-5zM518,153v1h3v-1zM525,153h5v33h-5zM533,167h5v17h-5zM534,168v15h3v-15zM541,166h5v6h-5zM549,156h5v14h-5zM550,157v12h3v-12zM557,145h5v12h-5zM558,146v10h3v-10zM565,136h5v9h-5zM566,137v7h3v-7zM573,137h5v94h-5zM581,221h5v9h-5zM582,222v7h3v-7zM589,220h5v37h-5zM597,252h5v7h-5zM605,257h5v5h-5zM613,262h5v7h-5zM621,265h5v4h-5zM622,266v2h3v-2zM629,264h5v41h-5zM637,303h5v8h-5zM645,307h5v3h-5zM646,308v1h3v-1zM653,306h5v5h-5zM661,283h5v27h-5zM662,284v25h3v-25zM669,281h5v41h-5zM677,287h5v33h-5zM678,288v31h3v-31zM685,287h5v31h-5zM693,287h5v30h-5zM694,288v28h3v-28zM701,287h5v7h-5zM709,287h5v6h-5zM710,288v4h3v-4zM717,287h5v1h-5zM725,251h5v37h-5zM726,252v35h3v-35zM733,243h5v7h-5zM734,244v5h3v-5zM741,208h5v10h-5zM742,209v8h3v-8zM749,201h5v7h-5zM750,202v5h3v-5zM757,201h5v4h-5zM765,204h5v1h-5zM773,178h5v24h-5zM774,179v22h3v-22zM781,170h5v7h-5zM782,171v5h3v-5zM789,143h5v27h-5zM790,144v25h3v-25zM797,135h5v8h-5zM798,136v6h3v-6zM805,135h5v4h-5zM813,138h5v9h-5zM821,124h5v24h-5zM822,125v22h3v-22zM829,123h5v1h-5zM837,101h5v22h-5zM838,102v20h3v-20zM845,92h5v10h-5zM846,93v8h3v-8zM853,85h5v8h-5zM854,86v6h3v-6zM861,85h5v7h-5zM869,91h5v24h-5zM877,89h5v27h-5zM878,90v25h3v-25zM885,90h5v36h-5zM893,124h5v1h-5zM901,123h5v7h-5zM909,124h5v4h-5zM910,125v2h3v-2zM917,114h5v10h-5zM918,115v8h3v-8zM925,109h5v6h-5zM926,110v4h3v-4zM933,101h5v4h-5zM934,102v2h3v-2zM941,100h5v26h-5zM949,126h5v4h-5zM957,113h5v19h-5zM958,114v17h3v-17zM965,113h5v2h-5zM973,115h5v14h-5zM981,106h5v10h-5zM982,107v8h3v-8zM989,73h5v33h-5zM990,74v31h3v-31zM997,72h5v18h-5zM1005,88h5v11h-5zM1013,99h5v163h-5zM1021,249h5v12h-5zM1022,250v10h3v-10zM1029,248h5v49h-5zM1037,259h5v36h-5zM1038,260v34h3v-34zM1045,260h5v17h-5zM1053,278h5v56h-5zM1061,334h5v203h-5zM1069,482h5v56h-5zM1070,483v54h3v-54zM1077,441h5v40h-5zM1078,442v38h3v-38zM1085,437h5v10h-5zM1093,446h5v54h-5zM1101,367h5v131h-5zM1102,368v129h3v-129zM1109,337h5v30h-5zM1110,338v28h3v-28zM1117,329h5v8h-5zM1118,330v6h3v-6zM1125,329h5v44h-5zM1133,368h5v3h-5zM1134,369v1h3v-1zM1141,327h5v41h-5zM1142,328v39h3v-39zM1149,303h5v26h-5zM1150,304v24h3v-24zM1157,305h5v76h-5zM1165,367h5v16h-5zM1166,368v14h3v-14zM1173,341h5v25h-5zM1174,342v23h3v-23zM1181,326h5v15h-5zM1182,327v13h3v-13zM1189,315h5v10h-5zM1190,316v8h3v-8zM1197,302h5v15h-5zM1198,303v13h3v-13zM1205,180h5v122h-5zM1206,181v120h3v-120zM1213,158h5v21h-5zM1214,159v19h3v-19zM1221,158h5v1h-5zM1229,145h5v9h-5zM1237,155h5v23h-5zM1245,158h5v19h-5zM1246,159v17h3v-17zM1253,157h5v25h-5zM1261,170h5v12h-5zM1262,171v10h3v-10zM1269,171h5v20h-5zM1277,191h5v35h-5zM1285,225h5v1h-5z" fill="#000" fill-rule="evenodd"/>
</g>
<rect x="1203" y="198" width="109" height="8" fill="#00ff00" shape-rendering="crispEdges"/>
<g shape-rendering="crispEdges"><rect x="1432" y="200" width="8" height="2" fill="#ff0000"/><rect x="1439.5" y="198.5" width="2" height="4" fill="#fff" stroke="#ff0000" stroke-width="1"/><rect x="1442.5" y="189.5" width="73" height="24" fill="#fff" stroke="#ff0000" stroke-width="1"/></g>
<text x="1443.6" y="210" font-family="Liberation Sans, Arial, sans-serif" font-size="22.6" fill="#ff0000" textLength="70.6" lengthAdjust="spacingAndGlyphs">27935.2</text>
<polygon points="1288,30 1297,30 1292.5,35" fill="#c0c0c0"/>
<g clip-path="url(#cmacd)" shape-rendering="crispEdges">
<path d="M7,614h1v44h-1zM15,611h1v47h-1zM23,606h1v52h-1zM31,601h1v57h-1zM39,600h1v58h-1zM47,598h1v60h-1zM55,597h1v61h-1zM63,597h1v61h-1zM71,595h1v63h-1zM79,597h1v61h-1zM87,597h1v61h-1zM95,599h1v59h-1zM103,602h1v56h-1zM111,605h1v53h-1zM119,608h1v50h-1zM127,611h1v47h-1zM135,614h1v44h-1zM143,617h1v41h-1zM151,620h1v38h-1zM159,616h1v42h-1zM167,613h1v45h-1zM175,605h1v53h-1zM183,601h1v57h-1zM191,598h1v60h-1zM199,598h1v60h-1zM207,599h1v59h-1zM215,599h1v59h-1zM223,604h1v54h-1zM231,607h1v51h-1zM239,609h1v49h-1zM247,611h1v47h-1zM255,616h1v42h-1zM263,623h1v35h-1zM271,628h1v30h-1zM279,632h1v26h-1zM287,630h1v28h-1zM295,630h1v28h-1zM303,630h1v28h-1zM311,628h1v30h-1zM319,627h1v31h-1zM327,626h1v32h-1zM335,629h1v29h-1zM343,631h1v27h-1zM351,634h1v24h-1zM359,636h1v22h-1zM367,641h1v17h-1zM375,640h1v18h-1zM383,636h1v22h-1zM391,632h1v26h-1zM399,631h1v27h-1zM407,630h1v28h-1zM415,630h1v28h-1zM423,631h1v27h-1zM431,631h1v27h-1zM439,630h1v28h-1zM447,626h1v32h-1zM455,624h1v34h-1zM463,623h1v35h-1zM471,621h1v37h-1zM479,616h1v42h-1zM487,612h1v46h-1zM495,610h1v48h-1zM503,609h1v49h-1zM511,605h1v53h-1zM519,602h1v56h-1zM527,604h1v54h-1zM535,604h1v54h-1zM543,605h1v53h-1zM551,605h1v53h-1zM559,604h1v54h-1zM567,605h1v53h-1zM575,613h1v45h-1zM583,619h1v39h-1zM591,627h1v31h-1zM599,634h1v24h-1zM607,640h1v18h-1zM615,645h1v13h-1zM623,649h1v9h-1zM631,656h1v2h-1zM639,658h1v2h-1zM647,658h1v6h-1zM655,658h1v10h-1zM663,658h1v10h-1zM671,658h1v13h-1zM679,658h1v13h-1zM687,658h1v15h-1zM695,658h1v14h-1zM703,658h1v13h-1zM711,658h1v12h-1zM719,658h1v11h-1zM727,658h1v7h-1zM735,658h1v4h-1zM751,652h1v6h-1zM759,648h1v10h-1zM767,645h1v13h-1zM775,641h1v17h-1zM783,638h1v20h-1zM791,633h1v25h-1zM799,629h1v29h-1zM807,626h1v32h-1zM815,625h1v33h-1zM823,623h1v35h-1zM831,621h1v37h-1zM839,619h1v39h-1zM847,617h1v41h-1zM855,615h1v43h-1zM863,615h1v43h-1zM871,617h1v41h-1zM879,617h1v41h-1zM887,620h1v38h-1zM895,623h1v35h-1zM903,626h1v32h-1zM911,629h1v29h-1zM919,630h1v28h-1zM927,631h1v27h-1zM935,632h1v26h-1zM943,634h1v24h-1zM951,637h1v21h-1zM959,638h1v20h-1zM967,639h1v19h-1zM975,641h1v17h-1zM983,641h1v17h-1zM991,639h1v19h-1zM999,639h1v19h-1zM1007,639h1v19h-1zM1015,653h1v5h-1zM1023,658h1v4h-1zM1031,658h1v15h-1zM1039,658h1v21h-1zM1047,658h1v27h-1zM1055,658h1v36h-1zM1063,658h1v59h-1zM1071,658h1v71h-1zM1079,658h1v77h-1zM1087,658h1v81h-1zM1095,658h1v88h-1zM1103,658h1v81h-1zM1111,658h1v73h-1zM1119,658h1v65h-1zM1127,658h1v61h-1zM1135,658h1v57h-1zM1143,658h1v49h-1zM1151,658h1v42h-1zM1159,658h1v42h-1zM1167,658h1v40h-1zM1175,658h1v36h-1zM1183,658h1v31h-1zM1191,658h1v26h-1zM1199,658h1v21h-1zM1207,658h1v6h-1zM1215,652h1v6h-1zM1223,642h1v16h-1zM1231,634h1v24h-1zM1239,630h1v28h-1zM1247,626h1v32h-1zM1255,624h1v34h-1zM1263,623h1v35h-1zM1271,624h1v34h-1zM1279,628h1v30h-1zM1287,631h1v27h-1z" fill="#c0c0c0"/>
</g>
<path d="M0 636h2v1h-2zM2 635h1v1h-1zM6 634h1v1h-1zM7 633h2v1h-2zM12 631h2v1h-2zM14 630h1v1h-1zM18 628h2v1h-2zM20 627h1v1h-1zM24 625h1v1h-1zM25 624h2v1h-2zM30 621h1v1h-1zM31 620h2v1h-2zM36 617h2v1h-2zM38 616h1v1h-1zM42 613h2v1h-2zM44 612h1v1h-1zM48 610h1v1h-1zM49 609h1v1h-1zM50 608h1v1h-1zM54 606h2v1h-2zM56 605h1v1h-1zM60 604h3v1h-3zM66 603h1v1h-1zM67 602h2v1h-2zM72 600h1v1h-1zM73 599h2v1h-2zM78 598h2v1h-2zM80 597h1v1h-1zM84 597h3v1h-3zM90 597h1v1h-1zM91 596h2v1h-2zM96 596h3v1h-3zM102 596h3v1h-3zM108 597h3v1h-3zM114 597h2v1h-2zM116 598h1v1h-1zM120 599h3v1h-3zM126 600h3v1h-3zM132 601h1v1h-1zM133 602h2v1h-2zM138 603h1v1h-1zM139 604h2v1h-2zM144 605h1v1h-1zM145 606h2v1h-2zM150 607h1v1h-1zM151 608h2v1h-2zM156 609h2v1h-2zM158 610h1v1h-1zM162 611h3v1h-3zM168 611h3v1h-3zM174 611h3v1h-3zM180 611h1v1h-1zM181 610h2v1h-2zM186 610h3v1h-3zM192 609h3v1h-3zM198 608h3v1h-3zM204 607h1v1h-1zM205 606h2v1h-2zM210 605h3v1h-3zM216 605h1v1h-1zM217 604h2v1h-2zM222 603h3v1h-3zM228 602h3v1h-3zM234 602h3v1h-3zM240 602h3v1h-3zM246 602h3v1h-3zM252 603h1v1h-1zM253 604h2v1h-2zM258 605h2v1h-2zM260 606h1v1h-1zM264 607h2v1h-2zM266 608h1v1h-1zM270 610h2v1h-2zM272 611h1v1h-1zM276 613h3v1h-3zM282 615h2v1h-2zM284 616h1v1h-1zM288 618h2v1h-2zM290 619h1v1h-1zM294 621h3v1h-3zM300 622h3v1h-3zM306 624h3v1h-3zM312 625h3v1h-3zM318 626h3v1h-3zM324 627h1v1h-1zM325 628h2v1h-2zM330 628h3v1h-3zM336 628h3v1h-3zM342 628h3v1h-3zM348 628h3v1h-3zM354 629h3v1h-3zM360 630h3v1h-3zM366 631h3v1h-3zM372 632h3v1h-3zM378 632h1v1h-1zM379 633h2v1h-2zM384 633h3v1h-3zM390 634h3v1h-3zM396 634h3v1h-3zM402 634h3v1h-3zM408 634h3v1h-3zM414 634h3v1h-3zM420 634h3v1h-3zM426 634h3v1h-3zM432 634h1v1h-1zM433 633h2v1h-2zM438 631h3v1h-3zM444 630h3v1h-3zM450 630h1v1h-1zM451 629h2v1h-2zM456 629h2v1h-2zM458 628h1v1h-1zM462 627h3v1h-3zM468 627h3v1h-3zM474 627h1v1h-1zM475 626h2v1h-2zM480 625h3v1h-3zM486 624h3v1h-3zM492 622h2v1h-2zM494 621h1v1h-1zM498 621h1v1h-1zM499 620h2v1h-2zM504 619h1v1h-1zM505 618h2v1h-2zM510 616h2v1h-2zM512 615h1v1h-1zM516 613h3v1h-3zM522 612h3v1h-3zM528 610h3v1h-3zM534 609h1v1h-1zM535 608h2v1h-2zM540 607h2v1h-2zM542 606h1v1h-1zM546 606h2v1h-2zM548 605h1v1h-1zM552 605h3v1h-3zM558 605h3v1h-3zM564 605h3v1h-3zM570 605h3v1h-3zM576 605h3v1h-3zM582 606h3v1h-3zM588 608h3v1h-3zM594 610h2v1h-2zM596 611h1v1h-1zM600 613h2v1h-2zM602 614h1v1h-1zM606 616h1v1h-1zM607 617h2v1h-2zM612 619h1v1h-1zM613 620h2v1h-2zM618 622h1v1h-1zM619 623h1v1h-1zM620 624h1v1h-1zM624 626h2v1h-2zM626 627h1v1h-1zM630 631h1v1h-1zM631 632h1v1h-1zM632 633h1v1h-1zM636 636h1v1h-1zM637 637h2v1h-2zM642 640h1v1h-1zM643 641h2v1h-2zM648 644h1v1h-1zM649 645h2v1h-2zM654 647h1v1h-1zM655 648h1v1h-1zM656 649h1v1h-1zM660 651h1v1h-1zM661 652h1v1h-1zM662 653h1v1h-1zM666 655h1v1h-1zM667 656h2v1h-2zM672 659h2v1h-2zM674 660h1v1h-1zM678 661h1v1h-1zM679 662h2v1h-2zM684 664h3v1h-3zM690 665h2v1h-2zM692 666h1v1h-1zM696 668h3v1h-3zM702 668h3v1h-3zM708 669h3v1h-3zM714 671h3v1h-3zM720 671h3v1h-3zM726 671h3v1h-3zM732 669h3v1h-3zM738 668h3v1h-3zM744 668h2v1h-2zM746 667h1v1h-1zM750 665h3v1h-3zM756 664h2v1h-2zM758 663h1v1h-1zM762 662h2v1h-2zM764 661h1v1h-1zM768 659h3v1h-3zM774 657h2v1h-2zM776 656h1v1h-1zM780 654h2v1h-2zM782 653h1v1h-1zM786 651h2v1h-2zM788 650h1v1h-1zM792 648h2v1h-2zM794 647h1v1h-1zM798 645h2v1h-2zM800 644h1v1h-1zM804 642h1v1h-1zM805 641h2v1h-2zM810 639h2v1h-2zM812 638h1v1h-1zM816 636h2v1h-2zM818 635h1v1h-1zM822 633h3v1h-3zM828 631h3v1h-3zM834 629h3v1h-3zM840 627h3v1h-3zM846 626h2v1h-2zM848 625h1v1h-1zM852 624h3v1h-3zM858 622h3v1h-3zM864 621h3v1h-3zM870 619h3v1h-3zM876 619h3v1h-3zM882 618h3v1h-3zM888 618h3v1h-3zM894 618h3v1h-3zM900 618h3v1h-3zM906 619h3v1h-3zM912 620h3v1h-3zM918 620h3v1h-3zM924 622h3v1h-3zM930 624h3v1h-3zM936 625h3v1h-3zM942 626h3v1h-3zM948 627h2v1h-2zM950 628h1v1h-1zM954 629h3v1h-3zM960 630h3v1h-3zM966 632h3v1h-3zM972 634h3v1h-3zM978 635h3v1h-3zM984 636h2v1h-2zM986 637h1v1h-1zM990 637h3v1h-3zM996 638h3v1h-3zM1002 638h3v1h-3zM1008 639h3v1h-3zM1014 640h1v1h-1zM1015 641h2v1h-2zM1020 642h2v1h-2zM1022 643h1v1h-1zM1026 645h3v1h-3zM1032 647h1v1h-1zM1033 648h2v1h-2zM1038 650h1v1h-1zM1039 651h2v1h-2zM1044 655h1v1h-1zM1045 656h1v1h-1zM1046 657h1v1h-1zM1050 660h1v1h-1zM1051 661h1v1h-1zM1052 662h1v1h-1zM1056 666h1v1h-1zM1057 667h1v1h-1zM1058 668h1v1h-1zM1062 671h1v1h-1zM1063 672h1v1h-1zM1064 673h1v1h-1zM1068 676h1v1h-1zM1069 677h1v1h-1zM1070 678h1v1h-1zM1073 682h1v1h-1zM1073 683h1v1h-1zM1074 684h1v1h-1zM1077 688h1v1h-1zM1078 689h1v1h-1zM1079 690h1v1h-1zM1083 694h1v1h-1zM1084 695h1v1h-1zM1084 696h1v1h-1zM1087 700h1v1h-1zM1088 701h1v1h-1zM1089 702h1v1h-1zM1092 706h1v1h-1zM1093 707h1v1h-1zM1094 708h1v1h-1zM1098 711h1v1h-1zM1099 712h1v1h-1zM1100 713h1v1h-1zM1103 717h1v1h-1zM1104 718h1v1h-1zM1105 719h1v1h-1zM1109 722h1v1h-1zM1110 723h1v1h-1zM1111 724h1v1h-1zM1115 727h2v1h-2zM1117 728h1v1h-1zM1121 729h2v1h-2zM1123 730h1v1h-1zM1127 730h2v1h-2zM1129 731h1v1h-1zM1133 731h1v1h-1zM1134 730h2v1h-2zM1139 729h3v1h-3zM1145 728h1v1h-1zM1146 727h2v1h-2zM1151 724h2v1h-2zM1153 723h1v1h-1zM1157 721h2v1h-2zM1159 720h1v1h-1zM1163 718h1v1h-1zM1164 717h2v1h-2zM1169 715h1v1h-1zM1170 714h1v1h-1zM1171 713h1v1h-1zM1175 711h1v1h-1zM1176 710h1v1h-1zM1177 709h1v1h-1zM1181 707h1v1h-1zM1182 706h1v1h-1zM1183 705h1v1h-1zM1187 703h3v1h-3zM1193 701h1v1h-1zM1194 700h1v1h-1zM1195 699h1v1h-1zM1199 697h1v1h-1zM1200 696h1v1h-1zM1201 695h1v1h-1zM1205 692h1v1h-1zM1206 691h2v1h-2zM1211 687h1v1h-1zM1212 686h2v1h-2zM1217 683h1v1h-1zM1218 682h2v1h-2zM1223 679h1v1h-1zM1224 678h1v1h-1zM1225 677h1v1h-1zM1228 673h1v1h-1zM1229 672h1v1h-1zM1230 671h1v1h-1zM1234 667h1v1h-1zM1235 666h1v1h-1zM1236 665h1v1h-1zM1240 661h1v1h-1zM1241 660h1v1h-1zM1242 659h1v1h-1zM1246 656h1v1h-1zM1247 655h1v1h-1zM1248 654h1v1h-1zM1252 651h1v1h-1zM1253 650h1v1h-1zM1254 649h1v1h-1zM1258 646h1v1h-1zM1259 645h1v1h-1zM1260 644h1v1h-1zM1264 640h2v1h-2zM1266 639h1v1h-1zM1270 637h1v1h-1zM1271 636h1v1h-1zM1272 635h1v1h-1zM1276 633h1v1h-1zM1277 632h2v1h-2zM1282 630h2v1h-2zM1284 629h1v1h-1z" fill="#ff0000" shape-rendering="crispEdges"/>
<path d="M0 792h3v1h-3zM6 792h3v1h-3zM12 792h3v1h-3zM18 792h3v1h-3zM24 792h3v1h-3zM30 792h3v1h-3zM36 792h3v1h-3zM42 792h3v1h-3zM48 792h3v1h-3zM54 792h3v1h-3zM60 792h3v1h-3zM66 792h3v1h-3zM72 792h3v1h-3zM78 792h3v1h-3zM84 792h3v1h-3zM90 792h3v1h-3zM96 792h3v1h-3zM102 792h3v1h-3zM108 792h3v1h-3zM114 792h3v1h-3zM120 792h3v1h-3zM126 792h3v1h-3zM132 792h3v1h-3zM138 792h3v1h-3zM144 792h3v1h-3zM150 792h3v1h-3zM156 792h3v1h-3zM162 792h3v1h-3zM168 792h3v1h-3zM174 792h3v1h-3zM180 792h3v1h-3zM186 792h3v1h-3zM192 792h3v1h-3zM198 792h3v1h-3zM204 792h3v1h-3zM210 792h3v1h-3zM216 792h3v1h-3zM222 792h3v1h-3zM228 792h3v1h-3zM234 792h3v1h-3zM240 792h3v1h-3zM246 792h3v1h-3zM252 792h3v1h-3zM258 792h3v1h-3zM264 792h3v1h-3zM270 792h3v1h-3zM276 792h3v1h-3zM282 792h3v1h-3zM288 792h3v1h-3zM294 792h3v1h-3zM300 792h3v1h-3zM306 792h3v1h-3zM312 792h3v1h-3zM318 792h3v1h-3zM324 792h3v1h-3zM330 792h3v1h-3zM336 792h3v1h-3zM342 792h3v1h-3zM348 792h3v1h-3zM354 792h3v1h-3zM360 792h3v1h-3zM366 792h3v1h-3zM372 792h3v1h-3zM378 792h3v1h-3zM384 792h3v1h-3zM390 792h3v1h-3zM396 792h3v1h-3zM402 792h3v1h-3zM408 792h3v1h-3zM414 792h3v1h-3zM420 792h3v1h-3zM426 792h3v1h-3zM432 792h3v1h-3zM438 792h3v1h-3zM444 792h3v1h-3zM450 792h3v1h-3zM456 792h3v1h-3zM462 792h3v1h-3zM468 792h3v1h-3zM474 792h3v1h-3zM480 792h3v1h-3zM486 792h3v1h-3zM492 792h3v1h-3zM498 792h3v1h-3zM504 792h3v1h-3zM510 792h3v1h-3zM516 792h3v1h-3zM522 792h3v1h-3zM528 792h3v1h-3zM534 792h3v1h-3zM540 792h3v1h-3zM546 792h3v1h-3zM552 792h3v1h-3zM558 792h3v1h-3zM564 792h3v1h-3zM570 792h3v1h-3zM576 792h3v1h-3zM582 792h3v1h-3zM588 792h3v1h-3zM594 792h3v1h-3zM600 792h3v1h-3zM606 792h3v1h-3zM612 792h3v1h-3zM618 792h3v1h-3zM624 792h3v1h-3zM630 792h3v1h-3zM636 792h3v1h-3zM642 792h3v1h-3zM648 792h3v1h-3zM654 792h3v1h-3zM660 792h3v1h-3zM666 792h3v1h-3zM672 792h3v1h-3zM678 792h3v1h-3zM684 792h3v1h-3zM690 792h3v1h-3zM696 792h3v1h-3zM702 792h3v1h-3zM708 792h3v1h-3zM714 792h3v1h-3zM720 792h3v1h-3zM726 792h3v1h-3zM732 792h3v1h-3zM738 792h3v1h-3zM744 792h3v1h-3zM750 792h3v1h-3zM756 792h3v1h-3zM762 792h3v1h-3zM768 792h3v1h-3zM774 792h3v1h-3zM780 792h3v1h-3zM786 792h3v1h-3zM792 792h3v1h-3zM798 792h3v1h-3zM804 792h3v1h-3zM810 792h3v1h-3zM816 792h3v1h-3zM822 792h3v1h-3zM828 792h3v1h-3zM834 792h3v1h-3zM840 792h3v1h-3zM846 792h3v1h-3zM852 792h3v1h-3zM858 792h3v1h-3zM864 792h3v1h-3zM870 792h3v1h-3zM876 792h3v1h-3zM882 792h3v1h-3zM888 792h3v1h-3zM894 792h3v1h-3zM900 792h3v1h-3zM906 792h3v1h-3zM912 792h3v1h-3zM918 792h3v1h-3zM924 792h3v1h-3zM930 792h3v1h-3zM936 792h3v1h-3zM942 792h3v1h-3zM948 792h3v1h-3zM954 792h3v1h-3zM960 792h3v1h-3zM966 792h3v1h-3zM972 792h3v1h-3zM978 792h3v1h-3zM984 792h3v1h-3zM990 792h3v1h-3zM996 792h3v1h-3zM1002 792h3v1h-3zM1008 792h3v1h-3zM1014 792h3v1h-3zM1020 792h3v1h-3zM1026 792h3v1h-3zM1032 792h3v1h-3zM1038 792h3v1h-3zM1044 792h3v1h-3zM1050 792h3v1h-3zM1056 792h3v1h-3zM1062 792h3v1h-3zM1068 792h3v1h-3zM1074 792h3v1h-3zM1080 792h3v1h-3zM1086 792h3v1h-3zM1092 792h3v1h-3zM1098 792h3v1h-3zM1104 792h3v1h-3zM1110 792h3v1h-3zM1116 792h3v1h-3zM1122 792h3v1h-3zM1128 792h3v1h-3zM1134 792h3v1h-3zM1140 792h3v1h-3zM1146 792h3v1h-3zM1152 792h3v1h-3zM1158 792h3v1h-3zM1164 792h3v1h-3zM1170 792h3v1h-3zM1176 792h3v1h-3zM1182 792h3v1h-3zM1188 792h3v1h-3zM1194 792h3v1h-3zM1200 792h3v1h-3zM1206 792h3v1h-3zM1212 792h3v1h-3zM1218 792h3v1h-3zM1224 792h3v1h-3zM1230 792h3v1h-3zM1236 792h3v1h-3zM1242 792h3v1h-3zM1248 792h3v1h-3zM1254 792h3v1h-3zM1260 792h3v1h-3zM1266 792h3v1h-3zM1272 792h3v1h-3zM1278 792h3v1h-3zM1284 792h3v1h-3zM1290 792h3v1h-3zM1296 792h3v1h-3zM1302 792h3v1h-3zM1308 792h3v1h-3zM1314 792h3v1h-3zM1320 792h3v1h-3zM1326 792h3v1h-3zM1332 792h3v1h-3zM1338 792h3v1h-3zM1344 792h3v1h-3zM1350 792h3v1h-3zM1356 792h3v1h-3zM1362 792h3v1h-3zM1368 792h3v1h-3zM1374 792h3v1h-3zM1380 792h3v1h-3zM1386 792h3v1h-3zM1392 792h3v1h-3zM1398 792h3v1h-3zM1404 792h3v1h-3zM1410 792h3v1h-3zM1416 792h3v1h-3zM1422 792h3v1h-3zM1428 792h3v1h-3zM1434 792h3v1h-3zM1440 792h3v1h-3zM1446 792h3v1h-3zM1452 792h3v1h-3zM1458 792h3v1h-3zM1464 792h3v1h-3zM1470 792h3v1h-3zM1476 792h3v1h-3zM1482 792h3v1h-3zM1488 792h3v1h-3zM1494 792h3v1h-3zM1500 792h3v1h-3zM1506 792h3v1h-3zM1512 792h3v1h-3zM1518 792h3v1h-3zM1524 792h3v1h-3zM1530 792h3v1h-3zM1536 792h3v1h-3zM1542 792h3v1h-3zM1548 792h3v1h-3zM1554 792h3v1h-3zM1560 792h3v1h-3zM1566 792h3v1h-3zM1572 792h3v1h-3zM1578 792h3v1h-3zM1584 792h3v1h-3zM1590 792h3v1h-3zM1596 792h3v1h-3zM1602 792h3v1h-3zM1608 792h3v1h-3zM1614 792h3v1h-3zM0 843h3v1h-3zM6 843h3v1h-3zM12 843h3v1h-3zM18 843h3v1h-3zM24 843h3v1h-3zM30 843h3v1h-3zM36 843h3v1h-3zM42 843h3v1h-3zM48 843h3v1h-3zM54 843h3v1h-3zM60 843h3v1h-3zM66 843h3v1h-3zM72 843h3v1h-3zM78 843h3v1h-3zM84 843h3v1h-3zM90 843h3v1h-3zM96 843h3v1h-3zM102 843h3v1h-3zM108 843h3v1h-3zM114 843h3v1h-3zM120 843h3v1h-3zM126 843h3v1h-3zM132 843h3v1h-3zM138 843h3v1h-3zM144 843h3v1h-3zM150 843h3v1h-3zM156 843h3v1h-3zM162 843h3v1h-3zM168 843h3v1h-3zM174 843h3v1h-3zM180 843h3v1h-3zM186 843h3v1h-3zM192 843h3v1h-3zM198 843h3v1h-3zM204 843h3v1h-3zM210 843h3v1h-3zM216 843h3v1h-3zM222 843h3v1h-3zM228 843h3v1h-3zM234 843h3v1h-3zM240 843h3v1h-3zM246 843h3v1h-3zM252 843h3v1h-3zM258 843h3v1h-3zM264 843h3v1h-3zM270 843h3v1h-3zM276 843h3v1h-3zM282 843h3v1h-3zM288 843h3v1h-3zM294 843h3v1h-3zM300 843h3v1h-3zM306 843h3v1h-3zM312 843h3v1h-3zM318 843h3v1h-3zM324 843h3v1h-3zM330 843h3v1h-3zM336 843h3v1h-3zM342 843h3v1h-3zM348 843h3v1h-3zM354 843h3v1h-3zM360 843h3v1h-3zM366 843h3v1h-3zM372 843h3v1h-3zM378 843h3v1h-3zM384 843h3v1h-3zM390 843h3v1h-3zM396 843h3v1h-3zM402 843h3v1h-3zM408 843h3v1h-3zM414 843h3v1h-3zM420 843h3v1h-3zM426 843h3v1h-3zM432 843h3v1h-3zM438 843h3v1h-3zM444 843h3v1h-3zM450 843h3v1h-3zM456 843h3v1h-3zM462 843h3v1h-3zM468 843h3v1h-3zM474 843h3v1h-3zM480 843h3v1h-3zM486 843h3v1h-3zM492 843h3v1h-3zM498 843h3v1h-3zM504 843h3v1h-3zM510 843h3v1h-3zM516 843h3v1h-3zM522 843h3v1h-3zM528 843h3v1h-3zM534 843h3v1h-3zM540 843h3v1h-3zM546 843h3v1h-3zM552 843h3v1h-3zM558 843h3v1h-3zM564 843h3v1h-3zM570 843h3v1h-3zM576 843h3v1h-3zM582 843h3v1h-3zM588 843h3v1h-3zM594 843h3v1h-3zM600 843h3v1h-3zM606 843h3v1h-3zM612 843h3v1h-3zM618 843h3v1h-3zM624 843h3v1h-3zM630 843h3v1h-3zM636 843h3v1h-3zM642 843h3v1h-3zM648 843h3v1h-3zM654 843h3v1h-3zM660 843h3v1h-3zM666 843h3v1h-3zM672 843h3v1h-3zM678 843h3v1h-3zM684 843h3v1h-3zM690 843h3v1h-3zM696 843h3v1h-3zM702 843h3v1h-3zM708 843h3v1h-3zM714 843h3v1h-3zM720 843h3v1h-3zM726 843h3v1h-3zM732 843h3v1h-3zM738 843h3v1h-3zM744 843h3v1h-3zM750 843h3v1h-3zM756 843h3v1h-3zM762 843h3v1h-3zM768 843h3v1h-3zM774 843h3v1h-3zM780 843h3v1h-3zM786 843h3v1h-3zM792 843h3v1h-3zM798 843h3v1h-3zM804 843h3v1h-3zM810 843h3v1h-3zM816 843h3v1h-3zM822 843h3v1h-3zM828 843h3v1h-3zM834 843h3v1h-3zM840 843h3v1h-3zM846 843h3v1h-3zM852 843h3v1h-3zM858 843h3v1h-3zM864 843h3v1h-3zM870 843h3v1h-3zM876 843h3v1h-3zM882 843h3v1h-3zM888 843h3v1h-3zM894 843h3v1h-3zM900 843h3v1h-3zM906 843h3v1h-3zM912 843h3v1h-3zM918 843h3v1h-3zM924 843h3v1h-3zM930 843h3v1h-3zM936 843h3v1h-3zM942 843h3v1h-3zM948 843h3v1h-3zM954 843h3v1h-3zM960 843h3v1h-3zM966 843h3v1h-3zM972 843h3v1h-3zM978 843h3v1h-3zM984 843h3v1h-3zM990 843h3v1h-3zM996 843h3v1h-3zM1002 843h3v1h-3zM1008 843h3v1h-3zM1014 843h3v1h-3zM1020 843h3v1h-3zM1026 843h3v1h-3zM1032 843h3v1h-3zM1038 843h3v1h-3zM1044 843h3v1h-3zM1050 843h3v1h-3zM1056 843h3v1h-3zM1062 843h3v1h-3zM1068 843h3v1h-3zM1074 843h3v1h-3zM1080 843h3v1h-3zM1086 843h3v1h-3zM1092 843h3v1h-3zM1098 843h3v1h-3zM1104 843h3v1h-3zM1110 843h3v1h-3zM1116 843h3v1h-3zM1122 843h3v1h-3zM1128 843h3v1h-3zM1134 843h3v1h-3zM1140 843h3v1h-3zM1146 843h3v1h-3zM1152 843h3v1h-3zM1158 843h3v1h-3zM1164 843h3v1h-3zM1170 843h3v1h-3zM1176 843h3v1h-3zM1182 843h3v1h-3zM1188 843h3v1h-3zM1194 843h3v1h-3zM1200 843h3v1h-3zM1206 843h3v1h-3zM1212 843h3v1h-3zM1218 843h3v1h-3zM1224 843h3v1h-3zM1230 843h3v1h-3zM1236 843h3v1h-3zM1242 843h3v1h-3zM1248 843h3v1h-3zM1254 843h3v1h-3zM1260 843h3v1h-3zM1266 843h3v1h-3zM1272 843h3v1h-3zM1278 843h3v1h-3zM1284 843h3v1h-3zM1290 843h3v1h-3zM1296 843h3v1h-3zM1302 843h3v1h-3zM1308 843h3v1h-3zM1314 843h3v1h-3zM1320 843h3v1h-3zM1326 843h3v1h-3zM1332 843h3v1h-3zM1338 843h3v1h-3zM1344 843h3v1h-3zM1350 843h3v1h-3zM1356 843h3v1h-3zM1362 843h3v1h-3zM1368 843h3v1h-3zM1374 843h3v1h-3zM1380 843h3v1h-3zM1386 843h3v1h-3zM1392 843h3v1h-3zM1398 843h3v1h-3zM1404 843h3v1h-3zM1410 843h3v1h-3zM1416 843h3v1h-3zM1422 843h3v1h-3zM1428 843h3v1h-3zM1434 843h3v1h-3zM1440 843h3v1h-3zM1446 843h3v1h-3zM1452 843h3v1h-3zM1458 843h3v1h-3zM1464 843h3v1h-3zM1470 843h3v1h-3zM1476 843h3v1h-3zM1482 843h3v1h-3zM1488 843h3v1h-3zM1494 843h3v1h-3zM1500 843h3v1h-3zM1506 843h3v1h-3zM1512 843h3v1h-3zM1518 843h3v1h-3zM1524 843h3v1h-3zM1530 843h3v1h-3zM1536 843h3v1h-3zM1542 843h3v1h-3zM1548 843h3v1h-3zM1554 843h3v1h-3zM1560 843h3v1h-3zM1566 843h3v1h-3zM1572 843h3v1h-3zM1578 843h3v1h-3zM1584 843h3v1h-3zM1590 843h3v1h-3zM1596 843h3v1h-3zM1602 843h3v1h-3zM1608 843h3v1h-3zM1614 843h3v1h-3zM0 904h3v1h-3zM6 904h3v1h-3zM12 904h3v1h-3zM18 904h3v1h-3zM24 904h3v1h-3zM30 904h3v1h-3zM36 904h3v1h-3zM42 904h3v1h-3zM48 904h3v1h-3zM54 904h3v1h-3zM60 904h3v1h-3zM66 904h3v1h-3zM72 904h3v1h-3zM78 904h3v1h-3zM84 904h3v1h-3zM90 904h3v1h-3zM96 904h3v1h-3zM102 904h3v1h-3zM108 904h3v1h-3zM114 904h3v1h-3zM120 904h3v1h-3zM126 904h3v1h-3zM132 904h3v1h-3zM138 904h3v1h-3zM144 904h3v1h-3zM150 904h3v1h-3zM156 904h3v1h-3zM162 904h3v1h-3zM168 904h3v1h-3zM174 904h3v1h-3zM180 904h3v1h-3zM186 904h3v1h-3zM192 904h3v1h-3zM198 904h3v1h-3zM204 904h3v1h-3zM210 904h3v1h-3zM216 904h3v1h-3zM222 904h3v1h-3zM228 904h3v1h-3zM234 904h3v1h-3zM240 904h3v1h-3zM246 904h3v1h-3zM252 904h3v1h-3zM258 904h3v1h-3zM264 904h3v1h-3zM270 904h3v1h-3zM276 904h3v1h-3zM282 904h3v1h-3zM288 904h3v1h-3zM294 904h3v1h-3zM300 904h3v1h-3zM306 904h3v1h-3zM312 904h3v1h-3zM318 904h3v1h-3zM324 904h3v1h-3zM330 904h3v1h-3zM336 904h3v1h-3zM342 904h3v1h-3zM348 904h3v1h-3zM354 904h3v1h-3zM360 904h3v1h-3zM366 904h3v1h-3zM372 904h3v1h-3zM378 904h3v1h-3zM384 904h3v1h-3zM390 904h3v1h-3zM396 904h3v1h-3zM402 904h3v1h-3zM408 904h3v1h-3zM414 904h3v1h-3zM420 904h3v1h-3zM426 904h3v1h-3zM432 904h3v1h-3zM438 904h3v1h-3zM444 904h3v1h-3zM450 904h3v1h-3zM456 904h3v1h-3zM462 904h3v1h-3zM468 904h3v1h-3zM474 904h3v1h-3zM480 904h3v1h-3zM486 904h3v1h-3zM492 904h3v1h-3zM498 904h3v1h-3zM504 904h3v1h-3zM510 904h3v1h-3zM516 904h3v1h-3zM522 904h3v1h-3zM528 904h3v1h-3zM534 904h3v1h-3zM540 904h3v1h-3zM546 904h3v1h-3zM552 904h3v1h-3zM558 904h3v1h-3zM564 904h3v1h-3zM570 904h3v1h-3zM576 904h3v1h-3zM582 904h3v1h-3zM588 904h3v1h-3zM594 904h3v1h-3zM600 904h3v1h-3zM606 904h3v1h-3zM612 904h3v1h-3zM618 904h3v1h-3zM624 904h3v1h-3zM630 904h3v1h-3zM636 904h3v1h-3zM642 904h3v1h-3zM648 904h3v1h-3zM654 904h3v1h-3zM660 904h3v1h-3zM666 904h3v1h-3zM672 904h3v1h-3zM678 904h3v1h-3zM684 904h3v1h-3zM690 904h3v1h-3zM696 904h3v1h-3zM702 904h3v1h-3zM708 904h3v1h-3zM714 904h3v1h-3zM720 904h3v1h-3zM726 904h3v1h-3zM732 904h3v1h-3zM738 904h3v1h-3zM744 904h3v1h-3zM750 904h3v1h-3zM756 904h3v1h-3zM762 904h3v1h-3zM768 904h3v1h-3zM774 904h3v1h-3zM780 904h3v1h-3zM786 904h3v1h-3zM792 904h3v1h-3zM798 904h3v1h-3zM804 904h3v1h-3zM810 904h3v1h-3zM816 904h3v1h-3zM822 904h3v1h-3zM828 904h3v1h-3zM834 904h3v1h-3zM840 904h3v1h-3zM846 904h3v1h-3zM852 904h3v1h-3zM858 904h3v1h-3zM864 904h3v1h-3zM870 904h3v1h-3zM876 904h3v1h-3zM882 904h3v1h-3zM888 904h3v1h-3zM894 904h3v1h-3zM900 904h3v1h-3zM906 904h3v1h-3zM912 904h3v1h-3zM918 904h3v1h-3zM924 904h3v1h-3zM930 904h3v1h-3zM936 904h3v1h-3zM942 904h3v1h-3zM948 904h3v1h-3zM954 904h3v1h-3zM960 904h3v1h-3zM966 904h3v1h-3zM972 904h3v1h-3zM978 904h3v1h-3zM984 904h3v1h-3zM990 904h3v1h-3zM996 904h3v1h-3zM1002 904h3v1h-3zM1008 904h3v1h-3zM1014 904h3v1h-3zM1020 904h3v1h-3zM1026 904h3v1h-3zM1032 904h3v1h-3zM1038 904h3v1h-3zM1044 904h3v1h-3zM1050 904h3v1h-3zM1056 904h3v1h-3zM1062 904h3v1h-3zM1068 904h3v1h-3zM1074 904h3v1h-3zM1080 904h3v1h-3zM1086 904h3v1h-3zM1092 904h3v1h-3zM1098 904h3v1h-3zM1104 904h3v1h-3zM1110 904h3v1h-3zM1116 904h3v1h-3zM1122 904h3v1h-3zM1128 904h3v1h-3zM1134 904h3v1h-3zM1140 904h3v1h-3zM1146 904h3v1h-3zM1152 904h3v1h-3zM1158 904h3v1h-3zM1164 904h3v1h-3zM1170 904h3v1h-3zM1176 904h3v1h-3zM1182 904h3v1h-3zM1188 904h3v1h-3zM1194 904h3v1h-3zM1200 904h3v1h-3zM1206 904h3v1h-3zM1212 904h3v1h-3zM1218 904h3v1h-3zM1224 904h3v1h-3zM1230 904h3v1h-3zM1236 904h3v1h-3zM1242 904h3v1h-3zM1248 904h3v1h-3zM1254 904h3v1h-3zM1260 904h3v1h-3zM1266 904h3v1h-3zM1272 904h3v1h-3zM1278 904h3v1h-3zM1284 904h3v1h-3zM1290 904h3v1h-3zM1296 904h3v1h-3zM1302 904h3v1h-3zM1308 904h3v1h-3zM1314 904h3v1h-3zM1320 904h3v1h-3zM1326 904h3v1h-3zM1332 904h3v1h-3zM1338 904h3v1h-3zM1344 904h3v1h-3zM1350 904h3v1h-3zM1356 904h3v1h-3zM1362 904h3v1h-3zM1368 904h3v1h-3zM1374 904h3v1h-3zM1380 904h3v1h-3zM1386 904h3v1h-3zM1392 904h3v1h-3zM1398 904h3v1h-3zM1404 904h3v1h-3zM1410 904h3v1h-3zM1416 904h3v1h-3zM1422 904h3v1h-3zM1428 904h3v1h-3zM1434 904h3v1h-3zM1440 904h3v1h-3zM1446 904h3v1h-3zM1452 904h3v1h-3zM1458 904h3v1h-3zM1464 904h3v1h-3zM1470 904h3v1h-3zM1476 904h3v1h-3zM1482 904h3v1h-3zM1488 904h3v1h-3zM1494 904h3v1h-3zM1500 904h3v1h-3zM1506 904h3v1h-3zM1512 904h3v1h-3zM1518 904h3v1h-3zM1524 904h3v1h-3zM1530 904h3v1h-3zM1536 904h3v1h-3zM1542 904h3v1h-3zM1548 904h3v1h-3zM1554 904h3v1h-3zM1560 904h3v1h-3zM1566 904h3v1h-3zM1572 904h3v1h-3zM1578 904h3v1h-3zM1584 904h3v1h-3zM1590 904h3v1h-3zM1596 904h3v1h-3zM1602 904h3v1h-3zM1608 904h3v1h-3zM1614 904h3v1h-3z" fill="#c0c0c0" shape-rendering="crispEdges"/>
<path d="M0 811h2v1h-2zM2 810h4v1h-4zM6 809h5v1h-5zM11 808h5v1h-5zM16 807h2v1h-2zM18 806h1v1h-1zM19 805h2v1h-2zM21 804h2v1h-2zM23 803h2v1h-2zM25 802h4v1h-4zM29 801h3v1h-3zM32 802h1v1h-1zM33 803h1v1h-1zM34 804h1v1h-1zM35 805h1v1h-1zM36 806h1v1h-1zM37 807h1v1h-1zM38 808h1v1h-1zM39 809h1v1h-1zM40 808h1v1h-1zM41 807h2v1h-2zM43 806h1v1h-1zM44 805h1v1h-1zM45 804h2v1h-2zM47 803h10v1h-10zM57 804h2v1h-2zM59 805h3v1h-3zM62 806h5v1h-5zM67 805h5v1h-5zM72 806h1v1h-1zM73 807h1v1h-1zM74 808h1v1h-1zM75 809h1v1h-1zM75 810h1v1h-1zM76 811h1v1h-1zM77 812h1v1h-1zM78 813h1v1h-1zM79 814h1v1h-1zM80 813h1v1h-1zM81 812h2v1h-2zM83 811h1v1h-1zM84 810h1v1h-1zM85 809h2v1h-2zM87 808h1v1h-1zM88 809h1v1h-1zM89 810h1v1h-1zM89 811h1v1h-1zM90 812h1v1h-1zM91 813h1v1h-1zM92 814h1v1h-1zM93 815h1v1h-1zM93 816h1v1h-1zM94 817h1v1h-1zM95 818h1v1h-1zM96 819h2v1h-2zM98 820h1v1h-1zM99 821h2v1h-2zM101 822h2v1h-2zM103 823h2v1h-2zM105 822h4v1h-4zM109 821h4v1h-4zM113 820h4v1h-4zM117 819h3v1h-3zM120 820h2v1h-2zM122 821h2v1h-2zM124 822h2v1h-2zM126 823h18v1h-18zM144 824h2v1h-2zM146 825h2v1h-2zM148 826h2v1h-2zM150 827h2v1h-2zM151 826h1v1h-1zM152 824h1v1h-1zM152 825h1v1h-1zM153 821h1v1h-1zM153 822h1v1h-1zM153 823h1v1h-1zM154 819h1v1h-1zM154 820h1v1h-1zM155 816h1v1h-1zM155 817h1v1h-1zM155 818h1v1h-1zM156 814h1v1h-1zM156 815h1v1h-1zM157 811h1v1h-1zM157 812h1v1h-1zM157 813h1v1h-1zM158 809h1v1h-1zM158 810h1v1h-1zM159 807h2v1h-2zM159 808h1v1h-1zM161 806h4v1h-4zM165 805h3v1h-3zM168 803h1v1h-1zM168 804h1v1h-1zM169 802h1v1h-1zM170 800h1v1h-1zM170 801h1v1h-1zM171 799h1v1h-1zM172 797h1v1h-1zM172 798h1v1h-1zM173 796h1v1h-1zM174 794h1v1h-1zM174 795h1v1h-1zM175 793h1v1h-1zM176 794h1v1h-1zM176 795h1v1h-1zM177 796h1v1h-1zM177 797h1v1h-1zM178 798h1v1h-1zM179 799h1v1h-1zM179 800h1v1h-1zM180 801h1v1h-1zM181 802h1v1h-1zM181 803h1v1h-1zM182 804h1v1h-1zM182 805h1v1h-1zM183 806h2v1h-2zM185 805h4v1h-4zM189 804h3v1h-3zM192 805h1v1h-1zM192 806h1v1h-1zM193 807h1v1h-1zM194 808h1v1h-1zM195 809h1v1h-1zM195 810h1v1h-1zM196 811h1v1h-1zM197 812h1v1h-1zM198 813h1v1h-1zM198 814h1v1h-1zM199 815h2v1h-2zM201 814h4v1h-4zM205 813h6v1h-6zM211 812h5v1h-5zM216 813h1v1h-1zM216 814h1v1h-1zM217 815h1v1h-1zM217 816h1v1h-1zM218 817h1v1h-1zM218 818h1v1h-1zM219 819h1v1h-1zM220 820h1v1h-1zM220 821h1v1h-1zM221 822h1v1h-1zM221 823h1v1h-1zM222 824h1v1h-1zM222 825h1v1h-1zM223 826h9v1h-9zM232 825h2v1h-2zM234 824h1v1h-1zM235 823h2v1h-2zM237 822h2v1h-2zM239 821h4v1h-4zM243 822h5v1h-5zM248 823h1v1h-1zM248 824h1v1h-1zM249 825h1v1h-1zM249 826h1v1h-1zM250 827h1v1h-1zM251 828h1v1h-1zM251 829h1v1h-1zM252 830h1v1h-1zM253 831h1v1h-1zM253 832h1v1h-1zM254 833h1v1h-1zM254 834h1v1h-1zM255 835h1v1h-1zM256 836h1v1h-1zM257 837h1v1h-1zM258 838h1v1h-1zM259 839h1v1h-1zM260 840h1v1h-1zM261 841h1v1h-1zM262 842h1v1h-1zM263 843h4v1h-4zM267 842h13v1h-13zM279 841h1v1h-1zM280 839h1v1h-1zM280 840h1v1h-1zM281 837h1v1h-1zM281 838h1v1h-1zM282 834h1v1h-1zM282 835h1v1h-1zM282 836h1v1h-1zM283 832h1v1h-1zM283 833h1v1h-1zM284 829h1v1h-1zM284 830h1v1h-1zM284 831h1v1h-1zM285 827h1v1h-1zM285 828h1v1h-1zM286 825h1v1h-1zM286 826h1v1h-1zM287 823h2v1h-2zM287 824h1v1h-1zM289 824h2v1h-2zM291 825h3v1h-3zM294 826h3v1h-3zM297 827h2v1h-2zM299 828h3v1h-3zM302 829h2v1h-2zM304 828h1v1h-1zM305 826h1v1h-1zM305 827h1v1h-1zM306 825h1v1h-1zM307 824h1v1h-1zM308 823h1v1h-1zM309 821h1v1h-1zM309 822h1v1h-1zM310 820h1v1h-1zM311 819h1v1h-1zM312 820h2v1h-2zM314 821h2v1h-2zM316 822h2v1h-2zM318 823h2v1h-2zM320 822h2v1h-2zM322 821h2v1h-2zM324 820h2v1h-2zM326 819h2v1h-2zM327 820h1v1h-1zM328 821h1v1h-1zM328 822h1v1h-1zM329 823h1v1h-1zM329 824h1v1h-1zM330 825h1v1h-1zM330 826h1v1h-1zM331 827h1v1h-1zM331 828h1v1h-1zM331 829h1v1h-1zM332 830h1v1h-1zM332 831h1v1h-1zM333 832h1v1h-1zM333 833h1v1h-1zM334 834h1v1h-1zM334 835h1v1h-1zM335 836h1v1h-1zM335 837h2v1h-2zM337 836h2v1h-2zM339 835h3v1h-3zM342 834h2v1h-2zM344 835h1v1h-1zM345 836h1v1h-1zM346 837h1v1h-1zM347 838h2v1h-2zM349 839h1v1h-1zM350 840h1v1h-1zM351 841h2v1h-2zM353 840h2v1h-2zM355 839h3v1h-3zM358 838h2v1h-2zM360 839h1v1h-1zM360 840h1v1h-1zM361 841h1v1h-1zM362 842h1v1h-1zM363 843h1v1h-1zM363 844h1v1h-1zM364 845h1v1h-1zM365 846h1v1h-1zM366 847h1v1h-1zM366 848h1v1h-1zM367 849h1v1h-1zM368 847h1v1h-1zM368 848h1v1h-1zM369 845h1v1h-1zM369 846h1v1h-1zM370 843h1v1h-1zM370 844h1v1h-1zM371 841h1v1h-1zM371 842h1v1h-1zM372 839h1v1h-1zM372 840h1v1h-1zM373 837h1v1h-1zM373 838h1v1h-1zM374 835h1v1h-1zM374 836h1v1h-1zM375 833h1v1h-1zM375 834h1v1h-1zM376 832h1v1h-1zM377 831h1v1h-1zM378 830h1v1h-1zM379 828h1v1h-1zM379 829h1v1h-1zM380 827h1v1h-1zM381 826h1v1h-1zM382 825h1v1h-1zM383 824h2v1h-2zM385 823h4v1h-4zM389 822h3v1h-3zM392 823h2v1h-2zM394 824h2v1h-2zM396 825h2v1h-2zM398 826h13v1h-13zM411 825h5v1h-5zM416 826h1v1h-1zM417 827h1v1h-1zM418 828h1v1h-1zM419 829h2v1h-2zM421 830h1v1h-1zM422 831h1v1h-1zM423 832h1v1h-1zM424 831h2v1h-2zM426 830h2v1h-2zM428 829h2v1h-2zM430 828h3v1h-3zM433 827h2v1h-2zM435 826h3v1h-3zM438 825h2v1h-2zM440 824h1v1h-1zM441 822h1v1h-1zM441 823h1v1h-1zM442 821h1v1h-1zM443 820h1v1h-1zM444 819h1v1h-1zM445 817h1v1h-1zM445 818h1v1h-1zM446 816h1v1h-1zM447 815h2v1h-2zM449 816h2v1h-2zM451 817h3v1h-3zM454 818h3v1h-3zM457 819h2v1h-2zM459 820h3v1h-3zM462 821h2v1h-2zM464 820h1v1h-1zM465 819h1v1h-1zM466 818h1v1h-1zM467 817h2v1h-2zM469 816h1v1h-1zM470 815h1v1h-1zM471 814h1v1h-1zM472 813h1v1h-1zM473 812h2v1h-2zM475 811h1v1h-1zM476 810h1v1h-1zM477 809h2v1h-2zM479 808h2v1h-2zM481 807h4v1h-4zM485 806h3v1h-3zM488 807h2v1h-2zM490 808h1v1h-1zM491 809h2v1h-2zM493 810h2v1h-2zM495 811h2v1h-2zM497 810h4v1h-4zM501 809h3v1h-3zM504 808h1v1h-1zM505 807h1v1h-1zM506 806h1v1h-1zM507 805h2v1h-2zM509 804h1v1h-1zM510 803h1v1h-1zM511 802h9v1h-9zM520 803h1v1h-1zM520 804h1v1h-1zM521 805h1v1h-1zM521 806h1v1h-1zM522 807h1v1h-1zM522 808h1v1h-1zM523 809h1v1h-1zM524 810h1v1h-1zM524 811h1v1h-1zM525 812h1v1h-1zM525 813h1v1h-1zM526 814h1v1h-1zM526 815h1v1h-1zM527 816h2v1h-2zM529 815h2v1h-2zM531 814h3v1h-3zM534 813h5v1h-5zM539 814h6v1h-6zM545 813h2v1h-2zM547 812h3v1h-3zM550 811h3v1h-3zM553 810h4v1h-4zM557 809h4v1h-4zM561 808h4v1h-4zM565 807h3v1h-3zM567 808h1v1h-1zM567 809h1v1h-1zM568 810h1v1h-1zM568 811h1v1h-1zM568 812h1v1h-1zM568 813h1v1h-1zM569 814h1v1h-1zM569 815h1v1h-1zM569 816h1v1h-1zM569 817h1v1h-1zM569 818h1v1h-1zM570 819h1v1h-1zM570 820h1v1h-1zM570 821h1v1h-1zM570 822h1v1h-1zM571 823h1v1h-1zM571 824h1v1h-1zM571 825h1v1h-1zM571 826h1v1h-1zM571 827h1v1h-1zM572 828h1v1h-1zM572 829h1v1h-1zM572 830h1v1h-1zM572 831h1v1h-1zM573 832h1v1h-1zM573 833h1v1h-1zM573 834h1v1h-1zM573 835h1v1h-1zM573 836h1v1h-1zM574 837h1v1h-1zM574 838h1v1h-1zM574 839h1v1h-1zM574 840h1v1h-1zM575 841h1v1h-1zM575 842h1v1h-1zM575 843h2v1h-2zM577 842h2v1h-2zM579 841h3v1h-3zM582 840h2v1h-2zM584 841h1v1h-1zM585 842h1v1h-1zM586 843h1v1h-1zM587 844h1v1h-1zM587 845h1v1h-1zM588 846h1v1h-1zM589 847h1v1h-1zM590 848h1v1h-1zM591 849h4v1h-4zM595 850h6v1h-6zM601 851h4v1h-4zM605 852h4v1h-4zM609 853h4v1h-4zM613 854h4v1h-4zM617 853h4v1h-4zM621 852h3v1h-3zM624 853h1v1h-1zM624 854h1v1h-1zM625 855h1v1h-1zM626 856h1v1h-1zM627 857h1v1h-1zM627 858h1v1h-1zM628 859h1v1h-1zM629 860h1v1h-1zM630 861h1v1h-1zM630 862h1v1h-1zM631 863h2v1h-2zM633 864h4v1h-4zM637 865h4v1h-4zM641 864h4v1h-4zM645 863h6v1h-6zM651 864h5v1h-5zM656 862h1v1h-1zM656 863h1v1h-1zM657 861h1v1h-1zM658 859h1v1h-1zM658 860h1v1h-1zM659 858h1v1h-1zM660 856h1v1h-1zM660 857h1v1h-1zM661 855h1v1h-1zM662 853h1v1h-1zM662 854h1v1h-1zM663 852h1v1h-1zM664 853h1v1h-1zM664 854h1v1h-1zM665 855h1v1h-1zM666 856h1v1h-1zM666 857h1v1h-1zM667 858h1v1h-1zM668 859h1v1h-1zM668 860h1v1h-1zM669 861h1v1h-1zM670 862h1v1h-1zM670 863h1v1h-1zM671 864h1v1h-1zM672 862h1v1h-1zM672 863h1v1h-1zM673 860h1v1h-1zM673 861h1v1h-1zM674 859h1v1h-1zM675 857h1v1h-1zM675 858h1v1h-1zM676 856h1v1h-1zM677 854h1v1h-1zM677 855h1v1h-1zM678 852h1v1h-1zM678 853h1v1h-1zM679 851h1v1h-1zM680 852h1v1h-1zM681 853h1v1h-1zM682 854h1v1h-1zM683 855h1v1h-1zM684 856h1v1h-1zM685 857h1v1h-1zM686 858h1v1h-1zM687 859h1v1h-1zM688 857h1v1h-1zM688 858h1v1h-1zM689 856h1v1h-1zM690 855h1v1h-1zM691 853h1v1h-1zM691 854h1v1h-1zM692 852h1v1h-1zM693 851h1v1h-1zM694 849h1v1h-1zM694 850h1v1h-1zM695 848h2v1h-2zM697 849h2v1h-2zM699 850h3v1h-3zM702 851h3v1h-3zM705 850h2v1h-2zM707 849h3v1h-3zM710 848h10v1h-10zM720 846h1v1h-1zM720 847h1v1h-1zM721 845h1v1h-1zM722 843h1v1h-1zM722 844h1v1h-1zM723 842h1v1h-1zM724 840h1v1h-1zM724 841h1v1h-1zM725 839h1v1h-1zM726 837h1v1h-1zM726 838h1v1h-1zM727 836h4v1h-4zM731 835h5v1h-5zM736 833h1v1h-1zM736 834h1v1h-1zM737 832h1v1h-1zM738 831h1v1h-1zM739 829h1v1h-1zM739 830h1v1h-1zM740 828h1v1h-1zM741 827h1v1h-1zM742 825h1v1h-1zM742 826h1v1h-1zM743 824h4v1h-4zM747 823h8v1h-8zM755 824h13v1h-13zM768 823h1v1h-1zM769 822h1v1h-1zM770 821h1v1h-1zM771 820h1v1h-1zM772 819h1v1h-1zM773 818h1v1h-1zM774 817h1v1h-1zM775 816h4v1h-4zM779 815h5v1h-5zM784 814h1v1h-1zM785 813h1v1h-1zM786 812h1v1h-1zM787 811h1v1h-1zM788 810h1v1h-1zM789 809h1v1h-1zM790 808h1v1h-1zM791 807h4v1h-4zM795 806h6v1h-6zM801 807h2v1h-2zM803 808h3v1h-3zM806 809h2v1h-2zM808 810h2v1h-2zM810 811h2v1h-2zM812 812h2v1h-2zM814 813h2v1h-2zM816 812h2v1h-2zM818 811h1v1h-1zM819 810h2v1h-2zM821 809h2v1h-2zM823 808h4v1h-4zM827 807h5v1h-5zM832 806h2v1h-2zM834 805h1v1h-1zM835 804h2v1h-2zM837 803h2v1h-2zM839 802h2v1h-2zM841 801h2v1h-2zM843 800h3v1h-3zM846 799h5v1h-5zM851 798h5v1h-5zM856 799h2v1h-2zM858 800h1v1h-1zM859 801h2v1h-2zM861 802h2v1h-2zM863 803h1v1h-1zM864 804h1v1h-1zM864 805h1v1h-1zM865 806h1v1h-1zM865 807h1v1h-1zM866 808h1v1h-1zM866 809h1v1h-1zM867 810h1v1h-1zM867 811h1v1h-1zM868 812h1v1h-1zM868 813h1v1h-1zM869 814h1v1h-1zM869 815h1v1h-1zM870 816h1v1h-1zM870 817h1v1h-1zM871 818h1v1h-1zM872 817h1v1h-1zM873 816h1v1h-1zM874 815h1v1h-1zM875 814h2v1h-2zM877 813h1v1h-1zM878 812h2v1h-2zM879 811h1v1h-1zM880 813h1v1h-1zM880 814h1v1h-1zM881 815h1v1h-1zM881 816h1v1h-1zM882 817h1v1h-1zM882 818h1v1h-1zM883 819h1v1h-1zM883 820h1v1h-1zM883 821h1v1h-1zM884 822h1v1h-1zM884 823h1v1h-1zM885 824h1v1h-1zM885 825h1v1h-1zM886 826h1v1h-1zM886 827h1v1h-1zM887 828h1v1h-1zM887 829h4v1h-4zM891 828h6v1h-6zM897 829h2v1h-2zM899 830h3v1h-3zM902 831h3v1h-3zM905 830h4v1h-4zM909 829h3v1h-3zM912 828h2v1h-2zM914 827h2v1h-2zM916 826h2v1h-2zM918 825h5v1h-5zM923 824h6v1h-6zM929 823h2v1h-2zM931 822h3v1h-3zM934 821h2v1h-2zM936 822h1v1h-1zM936 823h1v1h-1zM937 824h1v1h-1zM937 825h1v1h-1zM938 826h1v1h-1zM938 827h1v1h-1zM939 828h1v1h-1zM940 829h1v1h-1zM940 830h1v1h-1zM941 831h1v1h-1zM941 832h1v1h-1zM942 833h1v1h-1zM942 834h1v1h-1zM943 835h2v1h-2zM945 836h2v1h-2zM947 837h3v1h-3zM950 838h2v1h-2zM952 837h1v1h-1zM953 836h1v1h-1zM954 835h1v1h-1zM955 833h1v1h-1zM955 834h1v1h-1zM956 832h1v1h-1zM957 831h1v1h-1zM958 830h1v1h-1zM959 829h4v1h-4zM963 830h5v1h-5zM968 831h1v1h-1zM969 832h1v1h-1zM970 833h1v1h-1zM971 834h1v1h-1zM971 835h1v1h-1zM972 836h1v1h-1zM973 837h1v1h-1zM974 838h1v1h-1zM975 839h1v1h-1zM976 838h1v1h-1zM977 837h1v1h-1zM978 836h1v1h-1zM979 835h1v1h-1zM980 834h1v1h-1zM981 833h1v1h-1zM982 832h1v1h-1zM983 831h1v1h-1zM984 829h1v1h-1zM984 830h1v1h-1zM985 827h1v1h-1zM985 828h1v1h-1zM986 825h1v1h-1zM986 826h1v1h-1zM987 824h1v1h-1zM988 822h1v1h-1zM988 823h1v1h-1zM989 820h1v1h-1zM989 821h1v1h-1zM990 818h1v1h-1zM990 819h1v1h-1zM991 817h1v1h-1zM992 818h1v1h-1zM993 819h1v1h-1zM993 820h1v1h-1zM994 821h1v1h-1zM995 822h1v1h-1zM996 823h1v1h-1zM997 824h1v1h-1zM997 825h1v1h-1zM998 826h1v1h-1zM999 827h1v1h-1zM1000 828h2v1h-2zM1002 829h2v1h-2zM1004 830h2v1h-2zM1006 831h2v1h-2zM1007 832h1v1h-1zM1007 833h1v1h-1zM1008 834h1v1h-1zM1008 835h1v1h-1zM1008 836h1v1h-1zM1008 837h1v1h-1zM1008 838h1v1h-1zM1008 839h1v1h-1zM1009 840h1v1h-1zM1009 841h1v1h-1zM1009 842h1v1h-1zM1009 843h1v1h-1zM1009 844h1v1h-1zM1009 845h1v1h-1zM1010 846h1v1h-1zM1010 847h1v1h-1zM1010 848h1v1h-1zM1010 849h1v1h-1zM1010 850h1v1h-1zM1011 851h1v1h-1zM1011 852h1v1h-1zM1011 853h1v1h-1zM1011 854h1v1h-1zM1011 855h1v1h-1zM1011 856h1v1h-1zM1012 857h1v1h-1zM1012 858h1v1h-1zM1012 859h1v1h-1zM1012 860h1v1h-1zM1012 861h1v1h-1zM1013 862h1v1h-1zM1013 863h1v1h-1zM1013 864h1v1h-1zM1013 865h1v1h-1zM1013 866h1v1h-1zM1013 867h1v1h-1zM1014 868h1v1h-1zM1014 869h1v1h-1zM1014 870h1v1h-1zM1014 871h1v1h-1zM1014 872h1v1h-1zM1014 873h1v1h-1zM1015 874h1v1h-1zM1015 875h3v1h-3zM1015 876h1v1h-1zM1018 874h2v1h-2zM1020 873h2v1h-2zM1022 872h2v1h-2zM1024 873h1v1h-1zM1025 874h1v1h-1zM1026 875h1v1h-1zM1027 876h1v1h-1zM1027 877h1v1h-1zM1028 878h1v1h-1zM1029 879h1v1h-1zM1030 880h1v1h-1zM1031 881h1v1h-1zM1032 879h1v1h-1zM1032 880h1v1h-1zM1033 878h1v1h-1zM1034 876h1v1h-1zM1034 877h1v1h-1zM1035 875h1v1h-1zM1036 873h1v1h-1zM1036 874h1v1h-1zM1037 872h1v1h-1zM1038 870h1v1h-1zM1038 871h1v1h-1zM1039 869h2v1h-2zM1041 870h2v1h-2zM1043 871h3v1h-3zM1046 872h2v1h-2zM1048 873h1v1h-1zM1049 874h1v1h-1zM1050 875h1v1h-1zM1051 876h2v1h-2zM1053 877h1v1h-1zM1054 878h1v1h-1zM1055 879h1v1h-1zM1055 880h1v1h-1zM1056 881h1v1h-1zM1056 882h1v1h-1zM1057 883h1v1h-1zM1057 884h1v1h-1zM1058 885h1v1h-1zM1058 886h1v1h-1zM1058 887h1v1h-1zM1059 888h1v1h-1zM1059 889h1v1h-1zM1060 890h1v1h-1zM1060 891h1v1h-1zM1060 892h1v1h-1zM1061 893h1v1h-1zM1061 894h1v1h-1zM1062 895h1v1h-1zM1062 896h1v1h-1zM1063 897h2v1h-2zM1063 898h1v1h-1zM1064 896h1v1h-1zM1065 895h1v1h-1zM1066 893h1v1h-1zM1066 894h1v1h-1zM1067 892h1v1h-1zM1068 890h1v1h-1zM1068 891h1v1h-1zM1069 889h1v1h-1zM1070 887h1v1h-1zM1070 888h1v1h-1zM1071 886h1v1h-1zM1072 884h1v1h-1zM1072 885h1v1h-1zM1073 883h1v1h-1zM1074 882h1v1h-1zM1075 880h1v1h-1zM1075 881h1v1h-1zM1076 879h1v1h-1zM1077 878h1v1h-1zM1078 876h1v1h-1zM1078 877h1v1h-1zM1079 875h2v1h-2zM1081 876h4v1h-4zM1085 877h3v1h-3zM1088 878h2v1h-2zM1090 879h2v1h-2zM1092 880h2v1h-2zM1094 881h2v1h-2zM1095 880h1v1h-1zM1096 877h1v1h-1zM1096 878h1v1h-1zM1096 879h1v1h-1zM1097 874h1v1h-1zM1097 875h1v1h-1zM1097 876h1v1h-1zM1098 871h1v1h-1zM1098 872h1v1h-1zM1098 873h1v1h-1zM1099 868h1v1h-1zM1099 869h1v1h-1zM1099 870h1v1h-1zM1100 865h1v1h-1zM1100 866h1v1h-1zM1100 867h1v1h-1zM1101 862h1v1h-1zM1101 863h1v1h-1zM1101 864h1v1h-1zM1102 859h1v1h-1zM1102 860h1v1h-1zM1102 861h1v1h-1zM1103 857h1v1h-1zM1103 858h1v1h-1zM1104 856h2v1h-2zM1106 855h1v1h-1zM1107 854h2v1h-2zM1109 853h2v1h-2zM1111 852h2v1h-2zM1113 851h4v1h-4zM1117 850h3v1h-3zM1120 851h1v1h-1zM1121 852h1v1h-1zM1122 853h1v1h-1zM1123 854h2v1h-2zM1125 855h1v1h-1zM1126 856h1v1h-1zM1127 857h2v1h-2zM1129 856h4v1h-4zM1133 855h3v1h-3zM1136 854h1v1h-1zM1137 853h2v1h-2zM1139 852h1v1h-1zM1140 851h1v1h-1zM1141 850h2v1h-2zM1143 849h1v1h-1zM1144 848h2v1h-2zM1146 847h1v1h-1zM1147 846h2v1h-2zM1149 845h2v1h-2zM1151 844h1v1h-1zM1152 845h1v1h-1zM1152 846h1v1h-1zM1153 847h1v1h-1zM1154 848h1v1h-1zM1155 849h1v1h-1zM1155 850h1v1h-1zM1156 851h1v1h-1zM1157 852h1v1h-1zM1158 853h1v1h-1zM1158 854h1v1h-1zM1159 855h2v1h-2zM1161 854h4v1h-4zM1165 853h3v1h-3zM1168 852h2v1h-2zM1170 851h1v1h-1zM1171 850h2v1h-2zM1173 849h2v1h-2zM1175 848h2v1h-2zM1177 847h4v1h-4zM1181 846h6v1h-6zM1187 845h5v1h-5zM1192 844h2v1h-2zM1194 843h2v1h-2zM1196 842h2v1h-2zM1198 841h2v1h-2zM1199 840h1v1h-1zM1200 838h1v1h-1zM1200 839h1v1h-1zM1201 836h1v1h-1zM1201 837h1v1h-1zM1202 834h1v1h-1zM1202 835h1v1h-1zM1203 832h1v1h-1zM1203 833h1v1h-1zM1204 830h1v1h-1zM1204 831h1v1h-1zM1205 828h1v1h-1zM1205 829h1v1h-1zM1206 826h1v1h-1zM1206 827h1v1h-1zM1207 824h1v1h-1zM1207 825h1v1h-1zM1208 823h2v1h-2zM1210 822h2v1h-2zM1212 821h2v1h-2zM1214 820h18v1h-18zM1232 821h1v1h-1zM1233 822h2v1h-2zM1235 823h1v1h-1zM1236 824h1v1h-1zM1237 825h2v1h-2zM1239 826h2v1h-2zM1241 825h2v1h-2zM1243 824h3v1h-3zM1246 823h2v1h-2zM1248 824h1v1h-1zM1249 825h2v1h-2zM1251 826h1v1h-1zM1252 827h1v1h-1zM1253 828h2v1h-2zM1255 829h2v1h-2zM1257 828h2v1h-2zM1259 827h3v1h-3zM1262 826h2v1h-2zM1264 827h2v1h-2zM1266 828h1v1h-1zM1267 829h2v1h-2zM1269 830h2v1h-2zM1271 831h1v1h-1zM1272 832h1v1h-1zM1273 833h1v1h-1zM1274 834h1v1h-1zM1275 835h1v1h-1zM1276 836h1v1h-1zM1277 837h1v1h-1zM1278 838h1v1h-1zM1279 839h9v1h-9z" fill="#1e90ff" shape-rendering="crispEdges"/>
<g shape-rendering="crispEdges" fill="#000">
<rect x="0" y="29" width="1619" height="1"/>
<rect x="0" y="582" width="1619" height="1"/>
<rect x="0" y="584" width="1619" height="1"/>
<rect x="0" y="754" width="1619" height="1"/>
<rect x="0" y="756" width="1619" height="1"/>
<rect x="0" y="930" width="1619" height="1"/>
<rect x="1618" y="29" width="1" height="554"/>
<rect x="1618" y="584" width="1" height="171"/>
<rect x="1618" y="756" width="1" height="175"/>
<rect x="1619" y="51" width="3" height="1"/>
<rect x="1619" y="84" width="3" height="1"/>
<rect x="1619" y="117" width="3" height="1"/>
<rect x="1619" y="150" width="3" height="1"/>
<rect x="1619" y="183" width="3" height="1"/>
<rect x="1619" y="216" width="3" height="1"/>
<rect x="1619" y="249" width="3" height="1"/>
<rect x="1619" y="282" width="3" height="1"/>
<rect x="1619" y="315" width="3" height="1"/>
<rect x="1619" y="348" width="3" height="1"/>
<rect x="1619" y="381" width="3" height="1"/>
<rect x="1619" y="414" width="3" height="1"/>
<rect x="1619" y="447" width="3" height="1"/>
<rect x="1619" y="480" width="3" height="1"/>
<rect x="1619" y="513" width="3" height="1"/>
<rect x="1619" y="546" width="3" height="1"/>
<rect x="1619" y="579" width="3" height="1"/>
<rect x="1619" y="586" width="2" height="1"/>
<rect x="1619" y="657" width="2" height="1"/>
<rect x="1619" y="753" width="2" height="1"/>
<rect x="1619" y="758" width="2" height="1"/>
<rect x="1619" y="792" width="2" height="1"/>
<rect x="1619" y="843" width="2" height="1"/>
<rect x="1619" y="904" width="2" height="1"/>
<rect x="1619" y="929" width="2" height="1"/>
<rect x="63" y="931" width="1" height="4"/>
<rect x="127" y="931" width="1" height="4"/>
<rect x="191" y="931" width="1" height="4"/>
<rect x="255" y="931" width="1" height="4"/>
<rect x="319" y="931" width="1" height="4"/>
<rect x="383" y="931" width="1" height="4"/>
<rect x="447" y="931" width="1" height="4"/>
<rect x="511" y="931" width="1" height="4"/>
<rect x="575" y="931" width="1" height="4"/>
<rect x="639" y="931" width="1" height="4"/>
<rect x="703" y="931" width="1" height="4"/>
<rect x="767" y="931" width="1" height="4"/>
<rect x="831" y="931" width="1" height="4"/>
<rect x="895" y="931" width="1" height="4"/>
<rect x="959" y="931" width="1" height="4"/>
<rect x="1023" y="931" width="1" height="4"/>
<rect x="1087" y="931" width="1" height="4"/>
<rect x="1151" y="931" width="1" height="4"/>
<rect x="1215" y="931" width="1" height="4"/>
<rect x="1279" y="931" width="1" height="4"/>
</g>
<rect x="1664" y="27" width="1" height="923" fill="#d4d4d4" shape-rendering="crispEdges"/>
<g font-family="Liberation Sans, Arial, sans-serif" font-size="9.5" fill="#000">
<text x="1624" y="55" textLength="32.62" lengthAdjust="spacingAndGlyphs">28203.5</text>
<text x="1624" y="88" textLength="32.62" lengthAdjust="spacingAndGlyphs">28145.0</text>
<text x="1624" y="121" textLength="32.62" lengthAdjust="spacingAndGlyphs">28086.5</text>
<text x="1624" y="154" textLength="32.62" lengthAdjust="spacingAndGlyphs">28026.5</text>
<text x="1624" y="187" textLength="32.62" lengthAdjust="spacingAndGlyphs">27968.0</text>
<text x="1624" y="220" textLength="32.62" lengthAdjust="spacingAndGlyphs">27908.0</text>
<text x="1624" y="253" textLength="32.62" lengthAdjust="spacingAndGlyphs">27849.5</text>
<text x="1624" y="286" textLength="32.62" lengthAdjust="spacingAndGlyphs">27791.0</text>
<text x="1624" y="319" textLength="32.62" lengthAdjust="spacingAndGlyphs">27731.0</text>
<text x="1624" y="352" textLength="32.62" lengthAdjust="spacingAndGlyphs">27672.5</text>
<text x="1624" y="385" textLength="32.62" lengthAdjust="spacingAndGlyphs">27612.5</text>
<text x="1624" y="418" textLength="32.62" lengthAdjust="spacingAndGlyphs">27554.0</text>
<text x="1624" y="451" textLength="32.62" lengthAdjust="spacingAndGlyphs">27495.5</text>
<text x="1624" y="484" textLength="32.62" lengthAdjust="spacingAndGlyphs">27435.5</text>
<text x="1624" y="517" textLength="32.62" lengthAdjust="spacingAndGlyphs">27377.0</text>
<text x="1624" y="550" textLength="32.62" lengthAdjust="spacingAndGlyphs">27317.0</text>
<text x="1624" y="583" textLength="32.62" lengthAdjust="spacingAndGlyphs">27258.5</text>
<text x="1622.5" y="595" textLength="27.60" lengthAdjust="spacingAndGlyphs">127.54</text>
<text x="1622" y="661" textLength="17.56" lengthAdjust="spacingAndGlyphs">0.00</text>
<text x="1621.5" y="751.5" textLength="25.59" lengthAdjust="spacingAndGlyphs">-171.7</text>
<text x="1622" y="767" textLength="15.06" lengthAdjust="spacingAndGlyphs">100</text>
<text x="1621" y="796" textLength="10.04" lengthAdjust="spacingAndGlyphs">80</text>
<text x="1621" y="847" textLength="10.04" lengthAdjust="spacingAndGlyphs">50</text>
<text x="1621" y="908" textLength="10.04" lengthAdjust="spacingAndGlyphs">15</text>
<text x="1622" y="927" textLength="5.02" lengthAdjust="spacingAndGlyphs">0</text>
<text x="-1.8" y="943" textLength="48.59" lengthAdjust="spacingAndGlyphs">3 Nov 2019</text>
<text x="61.6" y="943" textLength="51.23" lengthAdjust="spacingAndGlyphs">5 Nov 04:00</text>
<text x="125.6" y="943" textLength="51.23" lengthAdjust="spacingAndGlyphs">6 Nov 12:00</text>
<text x="189.6" y="943" textLength="51.23" lengthAdjust="spacingAndGlyphs">7 Nov 20:00</text>
<text x="253.6" y="943" textLength="55.80" lengthAdjust="spacingAndGlyphs">11 Nov 00:00</text>
<text x="317.6" y="943" textLength="56.51" lengthAdjust="spacingAndGlyphs">12 Nov 08:00</text>
<text x="381.6" y="943" textLength="56.51" lengthAdjust="spacingAndGlyphs">13 Nov 16:00</text>
<text x="445.6" y="943" textLength="56.51" lengthAdjust="spacingAndGlyphs">15 Nov 00:00</text>
<text x="509.6" y="943" textLength="56.51" lengthAdjust="spacingAndGlyphs">18 Nov 04:00</text>
<text x="573.6" y="943" textLength="56.51" lengthAdjust="spacingAndGlyphs">19 Nov 12:00</text>
<text x="637.6" y="943" textLength="56.51" lengthAdjust="spacingAndGlyphs">20 Nov 20:00</text>
<text x="701.6" y="943" textLength="56.51" lengthAdjust="spacingAndGlyphs">22 Nov 04:00</text>
<text x="765.6" y="943" textLength="56.51" lengthAdjust="spacingAndGlyphs">25 Nov 08:00</text>
<text x="829.6" y="943" textLength="56.51" lengthAdjust="spacingAndGlyphs">26 Nov 16:00</text>
<text x="893.6" y="943" textLength="56.51" lengthAdjust="spacingAndGlyphs">28 Nov 00:00</text>
<text x="957.6" y="943" textLength="56.51" lengthAdjust="spacingAndGlyphs">29 Nov 08:00</text>
<text x="1021.6" y="943" textLength="49.69" lengthAdjust="spacingAndGlyphs">2 Dec 16:00</text>
<text x="1085.6" y="943" textLength="49.69" lengthAdjust="spacingAndGlyphs">4 Dec 00:00</text>
<text x="1149.6" y="943" textLength="49.69" lengthAdjust="spacingAndGlyphs">5 Dec 08:00</text>
<text x="1213.6" y="943" textLength="49.69" lengthAdjust="spacingAndGlyphs">6 Dec 16:00</text>
<text x="1277.6" y="943" textLength="49.69" lengthAdjust="spacingAndGlyphs">9 Dec 20:00</text>
<text x="3.5" y="596.5" textLength="117.03" lengthAdjust="spacingAndGlyphs">MACD(12,26,9) 48.46 51.67</text>
<text x="3.5" y="769" textLength="67.47" lengthAdjust="spacingAndGlyphs">RSI(14) 52.3360</text>
<text x="14.5" y="41" textLength="185.52" lengthAdjust="spacingAndGlyphs" xml:space="preserve">DJ30-,H4  27893.0 27893.0 27893.0 27893.0</text>
</g>
<polygon points="2,40 9,40 5.5,36" fill="#000"/>
<rect x="1620" y="127" width="41" height="11" fill="#ff0000" shape-rendering="crispEdges"/>
<text x="1624" y="136" font-family="Liberation Sans, Arial, sans-serif" font-size="9.5" fill="#fff" textLength="32.62" lengthAdjust="spacingAndGlyphs">28056.8</text>
<rect x="1620" y="164" width="41" height="11" fill="#ff0000" shape-rendering="crispEdges"/>
<text x="1624" y="173" font-family="Liberation Sans, Arial, sans-serif" font-size="9.5" fill="#fff" textLength="32.62" lengthAdjust="spacingAndGlyphs">27990.7</text>
<rect x="1620" y="195" width="41" height="11" fill="#32cd32" shape-rendering="crispEdges"/>
<text x="1624" y="204" font-family="Liberation Sans, Arial, sans-serif" font-size="9.5" fill="#fff" textLength="32.62" lengthAdjust="spacingAndGlyphs">27935.2</text>
<rect x="1620" y="220" width="41" height="11" fill="#000000" shape-rendering="crispEdges"/>
<text x="1624" y="229" font-family="Liberation Sans, Arial, sans-serif" font-size="9.5" fill="#fff" textLength="32.62" lengthAdjust="spacingAndGlyphs">27893.0</text>
<rect x="1620" y="248" width="41" height="11" fill="#0000ff" shape-rendering="crispEdges"/>
<text x="1624" y="257" font-family="Liberation Sans, Arial, sans-serif" font-size="9.5" fill="#fff" textLength="32.62" lengthAdjust="spacingAndGlyphs">27841.4</text>
<rect x="1620" y="292" width="41" height="11" fill="#0000ff" shape-rendering="crispEdges"/>
<text x="1624" y="301" font-family="Liberation Sans, Arial, sans-serif" font-size="9.5" fill="#fff" textLength="32.62" lengthAdjust="spacingAndGlyphs">27761.8</text>
<text x="1026" y="239" font-family="WenQuanYi Zen Hei, Noto Sans CJK SC, sans-serif" font-size="31" fill="#000" stroke="#000" stroke-width="0.7" textLength="160" lengthAdjust="spacingAndGlyphs">多空转折点</text>
<text x="1025" y="238" font-family="WenQuanYi Zen Hei, Noto Sans CJK SC, sans-serif" font-size="31" fill="#00ff00" stroke="#00ff00" stroke-width="0.7" textLength="160" lengthAdjust="spacingAndGlyphs">多空转折点</text>
</svg>

<svg id="tbs" width="1665" height="29" viewBox="0 0 1665 29" style="position:absolute;left:0;top:0">
<defs><linearGradient id="gbook" x1="0" y1="0" x2="1" y2="1"><stop offset="0" stop-color="#fbe27a"/><stop offset="0.6" stop-color="#e8b820"/><stop offset="1" stop-color="#c88a10"/></linearGradient><linearGradient id="gblue" x1="0" y1="0" x2="0" y2="1"><stop offset="0" stop-color="#5fb4f8"/><stop offset="1" stop-color="#1677e0"/></linearGradient><linearGradient id="gcloud" x1="0" y1="0" x2="0" y2="1"><stop offset="0" stop-color="#ffffff"/><stop offset="1" stop-color="#c9d6ea"/></linearGradient><linearGradient id="ghat" x1="0" y1="0" x2="0" y2="1"><stop offset="0" stop-color="#9ed4f4"/><stop offset="1" stop-color="#3b9ad4"/></linearGradient><linearGradient id="gyel" x1="0" y1="0" x2="1" y2="1"><stop offset="0" stop-color="#fff8a8"/><stop offset="1" stop-color="#e8c830"/></linearGradient><linearGradient id="gcandle" x1="0" y1="0" x2="1" y2="0"><stop offset="0" stop-color="#20c020"/><stop offset="0.5" stop-color="#70f070"/><stop offset="1" stop-color="#20b020"/></linearGradient><linearGradient id="glens" x1="0" y1="0" x2="0" y2="1"><stop offset="0" stop-color="#eef8ff"/><stop offset="1" stop-color="#c8e6fa"/></linearGradient><linearGradient id="gclock" x1="0" y1="0" x2="0" y2="1"><stop offset="0" stop-color="#4aa0f0"/><stop offset="1" stop-color="#0c52b8"/></linearGradient><linearGradient id="gplus" x1="0" y1="0" x2="0" y2="1"><stop offset="0" stop-color="#6cff6c"/><stop offset="1" stop-color="#10c010"/></linearGradient><pattern id="chk" width="2" height="2" patternUnits="userSpaceOnUse"><rect width="2" height="2" fill="#f4f4f4"/><rect width="1" height="1" fill="#e6e6e6"/><rect x="1" y="1" width="1" height="1" fill="#e6e6e6"/></pattern><g id="axes"><path d="M2.5 1.5v13M0.5 12.1h12.5" stroke="#505050" stroke-width="1.4" fill="none"/><path d="M0.5 3.5l2-2.5 2 2.5zM11.5 10.1l2.5 2-2.5 2z" fill="#505050"/></g></defs>
<rect x="0" y="0" width="1665" height="24" fill="#f0f0f0"/>
<rect x="0" y="24" width="1665" height="1" fill="#bcbcbc"/>
<rect x="0" y="25" width="1665" height="1" fill="#8a8a8a"/>
<rect x="0" y="26" width="1665" height="1" fill="#6a6a6a"/>
<rect x="0" y="27" width="1665" height="2" fill="#ffffff"/>
<rect x="215" y="1" width="1" height="22" fill="#a0a0a0"/><rect x="216" y="1" width="1" height="22" fill="#ffffff"/>
<rect x="310" y="1" width="1" height="22" fill="#a0a0a0"/><rect x="311" y="1" width="1" height="22" fill="#ffffff"/>
<rect x="400" y="1" width="1" height="22" fill="#a0a0a0"/><rect x="401" y="1" width="1" height="22" fill="#ffffff"/>
<rect x="462" y="1" width="1" height="22" fill="#a0a0a0"/><rect x="463" y="1" width="1" height="22" fill="#ffffff"/>
<rect x="583" y="1" width="1" height="22" fill="#a0a0a0"/><rect x="584" y="1" width="1" height="22" fill="#ffffff"/>
<rect x="650" y="1" width="1" height="22" fill="#a0a0a0"/><rect x="651" y="1" width="1" height="22" fill="#ffffff"/>
<rect x="889" y="1" width="1" height="22" fill="#a0a0a0"/><rect x="890" y="1" width="1" height="22" fill="#ffffff"/>
<rect x="1151" y="1" width="1" height="22" fill="#a0a0a0"/><rect x="1152" y="1" width="1" height="22" fill="#ffffff"/>
<g fill="#9a9a9a"><rect x="219" y="3" width="3" height="1"/><rect x="219" y="5" width="3" height="1"/><rect x="219" y="7" width="3" height="1"/><rect x="219" y="9" width="3" height="1"/><rect x="219" y="11" width="3" height="1"/><rect x="219" y="13" width="3" height="1"/><rect x="219" y="15" width="3" height="1"/><rect x="219" y="17" width="3" height="1"/><rect x="219" y="19" width="3" height="1"/><rect x="219" y="21" width="3" height="1"/></g>
<g fill="#9a9a9a"><rect x="587" y="3" width="3" height="1"/><rect x="587" y="5" width="3" height="1"/><rect x="587" y="7" width="3" height="1"/><rect x="587" y="9" width="3" height="1"/><rect x="587" y="11" width="3" height="1"/><rect x="587" y="13" width="3" height="1"/><rect x="587" y="15" width="3" height="1"/><rect x="587" y="17" width="3" height="1"/><rect x="587" y="19" width="3" height="1"/><rect x="587" y="21" width="3" height="1"/></g>
<g fill="#9a9a9a"><rect x="893" y="3" width="3" height="1"/><rect x="893" y="5" width="3" height="1"/><rect x="893" y="7" width="3" height="1"/><rect x="893" y="9" width="3" height="1"/><rect x="893" y="11" width="3" height="1"/><rect x="893" y="13" width="3" height="1"/><rect x="893" y="15" width="3" height="1"/><rect x="893" y="17" width="3" height="1"/><rect x="893" y="19" width="3" height="1"/><rect x="893" y="21" width="3" height="1"/></g>
<rect x="253" y="1" width="25" height="22" fill="url(#chk)"/><rect x="253" y="1" width="25" height="1" fill="#a0a0a0"/><rect x="253" y="1" width="1" height="22" fill="#a0a0a0"/><rect x="253" y="22" width="25" height="1" fill="#ffffff"/><rect x="277" y="1" width="1" height="22" fill="#ffffff"/>
<rect x="405" y="1" width="25" height="22" fill="url(#chk)"/><rect x="405" y="1" width="25" height="1" fill="#a0a0a0"/><rect x="405" y="1" width="1" height="22" fill="#a0a0a0"/><rect x="405" y="22" width="25" height="1" fill="#ffffff"/><rect x="429" y="1" width="1" height="22" fill="#ffffff"/>
<rect x="433" y="1" width="25" height="22" fill="url(#chk)"/><rect x="433" y="1" width="25" height="1" fill="#a0a0a0"/><rect x="433" y="1" width="1" height="22" fill="#a0a0a0"/><rect x="433" y="22" width="25" height="1" fill="#ffffff"/><rect x="457" y="1" width="1" height="22" fill="#ffffff"/>
<rect x="593" y="1" width="25" height="22" fill="url(#chk)"/><rect x="593" y="1" width="25" height="1" fill="#a0a0a0"/><rect x="593" y="1" width="1" height="22" fill="#a0a0a0"/><rect x="593" y="22" width="25" height="1" fill="#ffffff"/><rect x="617" y="1" width="1" height="22" fill="#ffffff"/>
<rect x="1039" y="1" width="25" height="22" fill="url(#chk)"/><rect x="1039" y="1" width="25" height="1" fill="#a0a0a0"/><rect x="1039" y="1" width="1" height="22" fill="#a0a0a0"/><rect x="1039" y="22" width="25" height="1" fill="#ffffff"/><rect x="1063" y="1" width="1" height="22" fill="#ffffff"/>
<rect x="-3" y="6" width="4" height="6" fill="#6a6a6a"/>
<path d="M-4 10.5h4.5v4h4.5v4.5h-4.5v4h-4.5z" fill="#10d010" stroke="#007a00" stroke-width="1"/>
<text x="8" y="16" font-family="Liberation Sans, Noto Sans CJK SC, WenQuanYi Zen Hei, sans-serif" font-size="12" fill="#000" textLength="36" lengthAdjust="spacingAndGlyphs">新订单</text>
<path d="M62 6.5 L71.5 13.5 L63.5 20.5 L56 14.5 Z" fill="url(#gbook)" stroke="#a2650e" stroke-width="1"/><path d="M56 14.5 L63.5 20.5 L72 14" fill="none" stroke="#e9c060" stroke-width="1"/><path d="M57 17 L63.5 21.5 L72 15" fill="none" stroke="#a2650e" stroke-width="1"/>
<path d="M86 6 L89 5 L97 5 L97 14 L86 14 Z" fill="url(#gblue)"/><path d="M86 6 L89 5 L89 14 L86 14z" fill="#1a8ef0"/><rect x="90" y="8" width="6" height="3" fill="#d8ecff"/><path d="M86.5 20.5 C84 20.5 84 16.8 86.8 16.6 C87 14.3 89.6 13.4 91.2 14.8 C92.2 12.6 95.6 12.6 96.4 15.4 C99.4 15 100.6 18 99.4 19.6 C99 20.3 98.4 20.5 97.6 20.5 Z" fill="url(#gcloud)" stroke="#4a6ea8" stroke-width="1"/>
<g fill="none" stroke-width="1.2"><path d="M116 19 A7.5 7.5 0 1 1 125 19.5" stroke="#5a8ad8" opacity="0.75"/><path d="M117.3 16.5 A4.8 4.8 0 1 1 124 16.8" stroke="#3a78d0" opacity="0.85"/><path d="M125 19.5 A7.5 7.5 0 0 0 128 12.5" stroke="#5cb85c"/></g><circle cx="120.5" cy="12.5" r="2" fill="#1e5fd0"/><path d="M120.5 13v8" stroke="#22aa22" stroke-width="1.6"/>
<path d="M139.5 12 L154 12 L147 20.5 Z" fill="url(#gyel)" stroke="#c8a020" stroke-width="0.8"/><ellipse cx="147" cy="9.5" rx="8" ry="3" fill="url(#ghat)" stroke="#2a7ab8" stroke-width="0.8"/><ellipse cx="147" cy="7.5" rx="4.5" ry="3" fill="url(#ghat)" stroke="#2a7ab8" stroke-width="0.8"/><circle cx="151.5" cy="16.5" r="4.3" fill="#d82010" stroke="#b01008" stroke-width="0.8"/><rect x="149.8" y="14.8" width="3.4" height="3.4" fill="#fff"/>
<text x="161" y="16" font-family="Liberation Sans, Noto Sans CJK SC, WenQuanYi Zen Hei, sans-serif" font-size="12" fill="#000" textLength="46" lengthAdjust="spacingAndGlyphs">自动交易</text>
<use href="#axes" x="231" y="6"/><path d="M237 15.5h2.5v-7.5h2.5" fill="none" stroke="#1a9a1a" stroke-width="1.2"/>
<use href="#axes" x="259" y="6"/><path d="M267.5 5v11.5" stroke="#1a9a1a" stroke-width="1.2"/><rect x="265.5" y="7.5" width="4" height="7" fill="url(#gcandle)" stroke="#1a9a1a" stroke-width="1"/>
<use href="#axes" x="287" y="6"/><path d="M288.5 15.5 Q294 6 299.5 14" fill="none" stroke="#1a9a1a" stroke-width="1.2"/>
<path d="M329 15 L334.5 20.5" stroke="#b88a10" stroke-width="3.2"/><path d="M329 15 L334.5 20.5" stroke="#f0d040" stroke-width="1.6"/><circle cx="325" cy="10.8" r="5.6" fill="url(#glens)" stroke="#2a78c8" stroke-width="1.2"/><path d="M322 10.8h6" stroke="#3a7ab0" stroke-width="2"/><path d="M325 7.8v6" stroke="#3a7ab0" stroke-width="2"/>
<path d="M357 15 L362.5 20.5" stroke="#b88a10" stroke-width="3.2"/><path d="M357 15 L362.5 20.5" stroke="#f0d040" stroke-width="1.6"/><circle cx="353" cy="10.8" r="5.6" fill="url(#glens)" stroke="#2a78c8" stroke-width="1.2"/><path d="M350 10.8h6" stroke="#3a7ab0" stroke-width="2"/>
<rect x="375" y="5" width="8" height="7.8" fill="#2f9a1a"/><rect x="383.2" y="5" width="8" height="7.8" fill="#1f58d0"/><rect x="375" y="13" width="8" height="7.8" fill="#1f58d0"/><rect x="383.2" y="13" width="8" height="7.8" fill="#2f9a1a"/><g fill="#fff"><rect x="376.2" y="8" width="5.6" height="3.5"/><rect x="384.4" y="8" width="5.6" height="3.5"/><rect x="376.2" y="16" width="5.6" height="3.5"/><rect x="384.4" y="16" width="5.6" height="3.5"/></g>
<use href="#axes" x="411" y="6.5"/><path d="M418 9l4 3.5-4 3.5z" fill="#2ac02a" stroke="#108a10" stroke-width="0.8"/>
<use href="#axes" x="439" y="6.5"/><path d="M447.5 7v10" stroke="#1a6ab0" stroke-width="1.3"/><path d="M448.5 12.5l3-2.5v1.8h1.8v1.4h-1.8v1.8z" fill="#e04a10"/>
<path d="M472.5 5.5h8l3.5 3.5v9.5h-11.5z" fill="#fafafa" stroke="#707070" stroke-width="1"/><path d="M480.5 5.5v3.5h3.5" fill="none" stroke="#707070"/><path d="M480 11h3.5v3.5h3.5v3.5h-3.5v3.5h-3.5v-3.5h-3.5v-3.5h3.5z" fill="url(#gplus)" stroke="#0a8a0a" stroke-width="1"/>
<path d="M494 11.5h5.5l-2.75 3z" fill="#000"/>
<path d="M532.5 11.5h5.5l-2.75 3z" fill="#000"/>
<path d="M571.5 11.5h5.5l-2.75 3z" fill="#000"/>
<path d="M878 11.5h5.5l-2.75 3z" fill="#000"/>
<circle cx="518" cy="12.5" r="7.8" fill="url(#gclock)"/><circle cx="518" cy="12.5" r="5.6" fill="#f8f8f8"/><path d="M518 8.5v4.2h3" fill="none" stroke="#333" stroke-width="1.2"/><circle cx="518" cy="16.5" r="0.6" fill="#7aa0d0"/>
<rect x="548.5" y="6.5" width="16" height="14" fill="#fff" stroke="#2a6ac8" stroke-width="1"/><rect x="549" y="7" width="15" height="2" fill="#4a8ae0"/><path d="M550 13l3-1 3 1 3-1.5 4 0.5" fill="none" stroke="#b03020" stroke-width="1"/><path d="M549 14.5h15" stroke="#8ab0e0"/><path d="M550 19l3-2 3 1 3-2 4 2" fill="none" stroke="#20a020" stroke-width="1"/>
<path d="M601.5 5v13l3-3 2.5 5 1.8-0.9-2.5-5h4z" fill="#505050"/>
<path d="M632.5 5.5v5M632.5 14.5v5M625 12.5h5M635 12.5h5" stroke="#505050" stroke-width="1"/>
<path d="M667.5 7v12" stroke="#505050" stroke-width="1.2"/>
<path d="M690 13.5h16" stroke="#505050" stroke-width="1.2"/>
<path d="M717.5 19.5L731 7" stroke="#505050" stroke-width="1.2"/>
<path d="M743 17L753 7M745.5 19L755.5 9M748 21L758 11M743.5 12h11M745 15h11" stroke="#606060" stroke-width="1"/><text x="754.5" y="22.5" font-family="Liberation Sans, sans-serif" font-size="6.5" font-weight="bold" fill="#505050">E</text>
<path d="M773 6.5h13M773 10.5h13M773 14.5h13M773 18.5h9" stroke="#707070" stroke-width="1" stroke-dasharray="1,1"/><text x="783.5" y="22.5" font-family="Liberation Sans, sans-serif" font-size="6.5" font-weight="bold" fill="#505050">F</text>
<text x="803" y="18" font-family="Liberation Sans, sans-serif" font-size="13" fill="#505050">A</text>
<rect x="830.5" y="7.5" width="11" height="12" fill="none" stroke="#505050" stroke-width="1" stroke-dasharray="1,1"/><path d="M832.5 10.5h7M836 10.5v7.5" stroke="#505050" stroke-width="2"/>
<path d="M857 11l3.5-4 3.5 4z M864.5 16l3.5 4 3.5-4z" fill="#505050"/><path d="M859.5 13l2.5 3 4-4.5" fill="none" stroke="#505050" stroke-width="1.3"/>
<text x="904" y="17.3" font-family="Liberation Sans, Arial, sans-serif" font-size="10.5" fill="#1a1a1a" textLength="13.5" lengthAdjust="spacingAndGlyphs">M1</text>
<text x="932.3" y="17.3" font-family="Liberation Sans, Arial, sans-serif" font-size="10.5" fill="#1a1a1a" textLength="13.2" lengthAdjust="spacingAndGlyphs">M5</text>
<text x="958.5" y="17.3" font-family="Liberation Sans, Arial, sans-serif" font-size="10.5" fill="#1a1a1a" textLength="17.7" lengthAdjust="spacingAndGlyphs">M15</text>
<text x="986.7" y="17.3" font-family="Liberation Sans, Arial, sans-serif" font-size="10.5" fill="#1a1a1a" textLength="18" lengthAdjust="spacingAndGlyphs">M30</text>
<text x="1017.5" y="17.3" font-family="Liberation Sans, Arial, sans-serif" font-size="10.5" fill="#1a1a1a" textLength="11.5" lengthAdjust="spacingAndGlyphs">H1</text>
<text x="1044.4" y="17.3" font-family="Liberation Sans, Arial, sans-serif" font-size="10.5" fill="#1a1a1a" textLength="12.6" lengthAdjust="spacingAndGlyphs">H4</text>
<text x="1073.3" y="17.3" font-family="Liberation Sans, Arial, sans-serif" font-size="10.5" fill="#1a1a1a" textLength="12" lengthAdjust="spacingAndGlyphs">D1</text>
<text x="1101" y="17.3" font-family="Liberation Sans, Arial, sans-serif" font-size="10.5" fill="#1a1a1a" textLength="14.6" lengthAdjust="spacingAndGlyphs">W1</text>
<text x="1127" y="17.3" font-family="Liberation Sans, Arial, sans-serif" font-size="10.5" fill="#1a1a1a" textLength="15.5" lengthAdjust="spacingAndGlyphs">MN</text>
<circle cx="1621" cy="10" r="3.8" fill="none" stroke="#2a5ad8" stroke-width="1.8"/><path d="M1618.3 12.8l-5 5" stroke="#2a5ad8" stroke-width="2.6" stroke-linecap="round"/>
<ellipse cx="1653" cy="10" rx="6.5" ry="5" fill="#f2f2f2" stroke="#8a8a8a" stroke-width="1"/><path d="M1655 14.5l0.5 3.5 2-4" fill="#f2f2f2" stroke="#8a8a8a" stroke-width="1"/><ellipse cx="1645" cy="14" rx="5.5" ry="4.3" fill="#f6f6f6" stroke="#8a8a8a" stroke-width="1"/><path d="M1643 18l-1 2.5 3-2.3" fill="#f6f6f6" stroke="#8a8a8a" stroke-width="1"/>
</svg>
<!-- trade panel -->
<div class="rb" style="left:2px;top:49px;width:52px;height:25px;background:linear-gradient(#f85050,#e23232);border-bottom:none"></div>
<div class="wt" style="left:14px;top:54px;font-size:11.5px;letter-spacing:-0.2px">SELL</div>
<div style="position:absolute;left:6px;top:72px;width:44px;height:1px;background:#8a0000"></div>
<div style="position:absolute;left:6px;top:73px;width:44px;height:1px;background:#f07070"></div>
<div class="rb" style="left:169px;top:49px;width:52px;height:25px;background:linear-gradient(#f85050,#e23232);border-bottom:none"></div>
<div class="wt" style="left:182px;top:54px;font-size:11.5px">BUY</div>
<div style="position:absolute;left:173px;top:72px;width:44px;height:1px;background:#8a0000"></div>
<div style="position:absolute;left:173px;top:73px;width:44px;height:1px;background:#f07070"></div>
<div style="position:absolute;left:54px;top:49px;width:115px;height:24px;background:#fff"></div>
<div style="position:absolute;left:56px;top:49px;width:111px;height:22px;box-sizing:border-box;border:1px solid #a0a0a8;background:#fff"></div>
<div style="position:absolute;left:57px;top:50px;width:21px;height:20px;box-sizing:border-box;border:1px solid #fafafa;background:linear-gradient(#f0f0f0,#d4d4d4);border-right:1px solid #a8a8b0"></div>
<div style="position:absolute;left:145px;top:50px;width:21px;height:20px;box-sizing:border-box;border:1px solid #fafafa;background:linear-gradient(#f0f0f0,#d4d4d4);border-left:1px solid #a8a8b0"></div>
<div style="position:absolute;left:64px;top:59px;border-left:3px solid transparent;border-right:3px solid transparent;border-top:3px solid #4060b0"></div>
<div style="position:absolute;left:152px;top:58px;border-left:3px solid transparent;border-right:3px solid transparent;border-bottom:3px solid #4060b0"></div>
<div style="position:absolute;left:100px;top:53.5px;width:42px;text-align:right;font-size:12.5px;color:#000;font-family:'Liberation Sans',Arial,sans-serif">1.00</div>
<div class="rb" style="left:2px;top:73px;width:109px;height:40px;background:linear-gradient(#e42a2a,#b00202)"></div>
<div class="rb" style="left:113px;top:73px;width:108px;height:40px;background:linear-gradient(#e42a2a,#b00202)"></div>
<div class="wt" style="left:18px;top:93px;font-size:12.5px;font-weight:bold;letter-spacing:0.1px">27891</div>
<div class="wt" style="left:55px;top:74px;font-size:33px;line-height:36px;letter-spacing:-1px">.5</div>
<div class="wt" style="left:128px;top:93px;font-size:12.5px;font-weight:bold;letter-spacing:0.1px">27899</div>
<div class="wt" style="left:165px;top:74px;font-size:33px;line-height:36px;letter-spacing:-1px">.5</div>
</body></html>
